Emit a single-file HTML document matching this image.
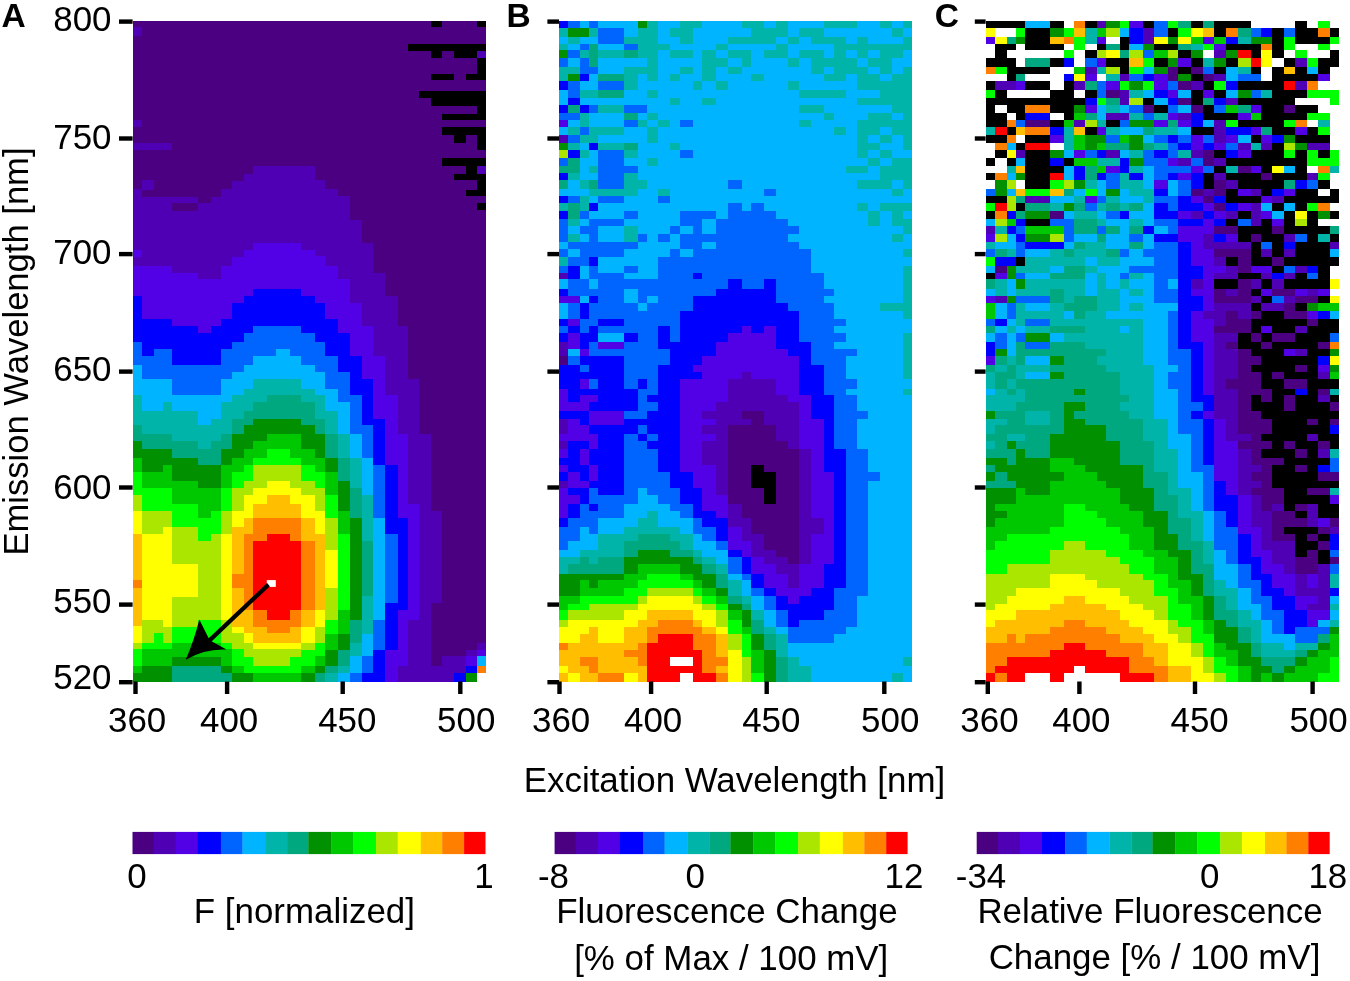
<!DOCTYPE html>
<html><head><meta charset="utf-8"><style>
html,body{margin:0;padding:0;background:#fff;width:1350px;height:981px;overflow:hidden}
svg{display:block;will-change:transform}
text{font-family:"Liberation Sans",sans-serif;font-size:34.9px;fill:#000}
</style></head><body>
<svg width="1350" height="981" viewBox="0 0 1350 981">
<g shape-rendering="crispEdges">
<rect x="132.7" y="21.1" width="9.3" height="5.9" fill="#4b0082"/>
<rect x="132.7" y="27.0" width="9.3" height="9.3" fill="#5000b4"/>
<rect x="132.7" y="36.3" width="9.3" height="84.0" fill="#4b0082"/>
<rect x="132.7" y="120.3" width="9.3" height="6.7" fill="#5000b4"/>
<rect x="132.7" y="127.0" width="9.3" height="16.0" fill="#4b0082"/>
<rect x="132.7" y="143.0" width="9.3" height="6.7" fill="#5000b4"/>
<rect x="132.7" y="149.7" width="9.3" height="39.6" fill="#4b0082"/>
<rect x="132.7" y="189.3" width="9.3" height="60.4" fill="#5000b4"/>
<rect x="132.7" y="249.7" width="9.3" height="7.1" fill="#5200e6"/>
<rect x="132.7" y="256.8" width="9.3" height="8.9" fill="#5000b4"/>
<rect x="132.7" y="265.7" width="9.3" height="30.0" fill="#5200e6"/>
<rect x="132.7" y="295.7" width="9.3" height="46.4" fill="#0000ff"/>
<rect x="132.7" y="342.1" width="9.3" height="23.2" fill="#0064ff"/>
<rect x="132.7" y="365.3" width="9.3" height="29.7" fill="#00b4ff"/>
<rect x="132.7" y="395.0" width="9.3" height="30.0" fill="#00b4aa"/>
<rect x="132.7" y="425.0" width="9.3" height="16.4" fill="#00a87f"/>
<rect x="132.7" y="441.4" width="9.3" height="16.1" fill="#009000"/>
<rect x="132.7" y="457.5" width="9.3" height="14.6" fill="#00c800"/>
<rect x="132.7" y="472.1" width="9.3" height="22.8" fill="#00ff00"/>
<rect x="132.7" y="494.9" width="9.3" height="15.8" fill="#aae600"/>
<rect x="132.7" y="510.7" width="9.3" height="23.6" fill="#ffff00"/>
<rect x="132.7" y="534.3" width="9.3" height="45.6" fill="#ffbe00"/>
<rect x="132.7" y="579.9" width="9.3" height="7.6" fill="#ff8000"/>
<rect x="132.7" y="587.5" width="9.3" height="38.5" fill="#ffbe00"/>
<rect x="132.7" y="626.0" width="9.3" height="16.7" fill="#ffff00"/>
<rect x="132.7" y="642.7" width="9.3" height="6.6" fill="#aae600"/>
<rect x="132.7" y="649.3" width="9.3" height="16.7" fill="#00ff00"/>
<rect x="132.7" y="666.0" width="9.3" height="6.7" fill="#00c800"/>
<rect x="132.7" y="672.7" width="9.3" height="8.8" fill="#009000"/>
<rect x="142.0" y="21.1" width="11.6" height="121.9" fill="#4b0082"/>
<rect x="142.0" y="143.0" width="11.6" height="6.7" fill="#5000b4"/>
<rect x="142.0" y="149.7" width="11.6" height="30.6" fill="#4b0082"/>
<rect x="142.0" y="180.3" width="11.6" height="9.4" fill="#5000b4"/>
<rect x="142.0" y="189.7" width="11.6" height="7.1" fill="#4b0082"/>
<rect x="142.0" y="196.8" width="11.6" height="68.9" fill="#5000b4"/>
<rect x="142.0" y="265.7" width="11.6" height="52.8" fill="#5200e6"/>
<rect x="142.0" y="318.5" width="11.6" height="37.4" fill="#0000ff"/>
<rect x="142.0" y="355.9" width="11.6" height="23.1" fill="#0064ff"/>
<rect x="142.0" y="379.0" width="11.6" height="32.4" fill="#00b4ff"/>
<rect x="142.0" y="411.4" width="11.6" height="22.8" fill="#00b4aa"/>
<rect x="142.0" y="434.2" width="11.6" height="14.3" fill="#00a87f"/>
<rect x="142.0" y="448.5" width="11.6" height="23.6" fill="#009000"/>
<rect x="142.0" y="472.1" width="11.6" height="15.7" fill="#00c800"/>
<rect x="142.0" y="487.8" width="11.6" height="22.9" fill="#00ff00"/>
<rect x="142.0" y="510.7" width="11.6" height="23.6" fill="#aae600"/>
<rect x="142.0" y="534.3" width="11.6" height="85.7" fill="#ffff00"/>
<rect x="142.0" y="620.0" width="11.6" height="22.7" fill="#aae600"/>
<rect x="142.0" y="642.7" width="11.6" height="6.6" fill="#00ff00"/>
<rect x="142.0" y="649.3" width="11.6" height="16.7" fill="#00c800"/>
<rect x="142.0" y="666.0" width="11.6" height="15.5" fill="#009000"/>
<rect x="153.6" y="21.1" width="9.1" height="121.9" fill="#4b0082"/>
<rect x="153.6" y="143.0" width="9.1" height="6.7" fill="#5000b4"/>
<rect x="153.6" y="149.7" width="9.1" height="47.1" fill="#4b0082"/>
<rect x="153.6" y="196.8" width="9.1" height="68.9" fill="#5000b4"/>
<rect x="153.6" y="265.7" width="9.1" height="52.8" fill="#5200e6"/>
<rect x="153.6" y="318.5" width="9.1" height="30.7" fill="#0000ff"/>
<rect x="153.6" y="349.2" width="9.1" height="29.8" fill="#0064ff"/>
<rect x="153.6" y="379.0" width="9.1" height="32.4" fill="#00b4ff"/>
<rect x="153.6" y="411.4" width="9.1" height="22.8" fill="#00b4aa"/>
<rect x="153.6" y="434.2" width="9.1" height="14.3" fill="#00a87f"/>
<rect x="153.6" y="448.5" width="9.1" height="23.6" fill="#009000"/>
<rect x="153.6" y="472.1" width="9.1" height="15.7" fill="#00c800"/>
<rect x="153.6" y="487.8" width="9.1" height="22.9" fill="#00ff00"/>
<rect x="153.6" y="510.7" width="9.1" height="23.6" fill="#aae600"/>
<rect x="153.6" y="534.3" width="9.1" height="85.7" fill="#ffff00"/>
<rect x="153.6" y="620.0" width="9.1" height="13.3" fill="#aae600"/>
<rect x="153.6" y="633.3" width="9.1" height="16.0" fill="#00ff00"/>
<rect x="153.6" y="649.3" width="9.1" height="16.7" fill="#00c800"/>
<rect x="153.6" y="666.0" width="9.1" height="15.5" fill="#009000"/>
<rect x="162.7" y="21.1" width="9.3" height="121.9" fill="#4b0082"/>
<rect x="162.7" y="143.0" width="9.3" height="6.7" fill="#5000b4"/>
<rect x="162.7" y="149.7" width="9.3" height="47.1" fill="#4b0082"/>
<rect x="162.7" y="196.8" width="9.3" height="68.9" fill="#5000b4"/>
<rect x="162.7" y="265.7" width="9.3" height="52.8" fill="#5200e6"/>
<rect x="162.7" y="318.5" width="9.3" height="30.7" fill="#0000ff"/>
<rect x="162.7" y="349.2" width="9.3" height="29.8" fill="#0064ff"/>
<rect x="162.7" y="379.0" width="9.3" height="23.1" fill="#00b4ff"/>
<rect x="162.7" y="402.1" width="9.3" height="32.1" fill="#00b4aa"/>
<rect x="162.7" y="434.2" width="9.3" height="14.3" fill="#00a87f"/>
<rect x="162.7" y="448.5" width="9.3" height="16.1" fill="#009000"/>
<rect x="162.7" y="464.6" width="9.3" height="23.2" fill="#00c800"/>
<rect x="162.7" y="487.8" width="9.3" height="22.9" fill="#00ff00"/>
<rect x="162.7" y="510.7" width="9.3" height="16.4" fill="#aae600"/>
<rect x="162.7" y="527.1" width="9.3" height="99.6" fill="#ffff00"/>
<rect x="162.7" y="626.7" width="9.3" height="16.0" fill="#aae600"/>
<rect x="162.7" y="642.7" width="9.3" height="6.6" fill="#00ff00"/>
<rect x="162.7" y="649.3" width="9.3" height="16.7" fill="#00c800"/>
<rect x="162.7" y="666.0" width="9.3" height="15.5" fill="#009000"/>
<rect x="172.0" y="21.1" width="13.0" height="175.7" fill="#4b0082"/>
<rect x="172.0" y="196.8" width="13.0" height="6.0" fill="#5000b4"/>
<rect x="172.0" y="202.8" width="13.0" height="7.9" fill="#4b0082"/>
<rect x="172.0" y="210.7" width="13.0" height="62.1" fill="#5000b4"/>
<rect x="172.0" y="272.8" width="13.0" height="53.3" fill="#5200e6"/>
<rect x="172.0" y="326.1" width="13.0" height="39.2" fill="#0000ff"/>
<rect x="172.0" y="365.3" width="13.0" height="29.7" fill="#0064ff"/>
<rect x="172.0" y="395.0" width="13.0" height="16.4" fill="#00b4ff"/>
<rect x="172.0" y="411.4" width="13.0" height="30.0" fill="#00b4aa"/>
<rect x="172.0" y="441.4" width="13.0" height="16.1" fill="#00a87f"/>
<rect x="172.0" y="457.5" width="13.0" height="23.1" fill="#009000"/>
<rect x="172.0" y="480.6" width="13.0" height="23.6" fill="#00c800"/>
<rect x="172.0" y="504.2" width="13.0" height="22.9" fill="#00ff00"/>
<rect x="172.0" y="527.1" width="13.0" height="36.4" fill="#aae600"/>
<rect x="172.0" y="563.5" width="13.0" height="33.0" fill="#ffff00"/>
<rect x="172.0" y="596.5" width="13.0" height="30.0" fill="#aae600"/>
<rect x="172.0" y="626.5" width="13.0" height="16.2" fill="#00ff00"/>
<rect x="172.0" y="642.7" width="13.0" height="14.0" fill="#00c800"/>
<rect x="172.0" y="656.7" width="13.0" height="9.3" fill="#009000"/>
<rect x="172.0" y="666.0" width="13.0" height="15.5" fill="#00a87f"/>
<rect x="185.0" y="21.1" width="12.5" height="175.7" fill="#4b0082"/>
<rect x="185.0" y="196.8" width="12.5" height="6.0" fill="#5000b4"/>
<rect x="185.0" y="202.8" width="12.5" height="7.9" fill="#4b0082"/>
<rect x="185.0" y="210.7" width="12.5" height="62.1" fill="#5000b4"/>
<rect x="185.0" y="272.8" width="12.5" height="53.3" fill="#5200e6"/>
<rect x="185.0" y="326.1" width="12.5" height="39.2" fill="#0000ff"/>
<rect x="185.0" y="365.3" width="12.5" height="29.7" fill="#0064ff"/>
<rect x="185.0" y="395.0" width="12.5" height="16.4" fill="#00b4ff"/>
<rect x="185.0" y="411.4" width="12.5" height="30.0" fill="#00b4aa"/>
<rect x="185.0" y="441.4" width="12.5" height="16.1" fill="#00a87f"/>
<rect x="185.0" y="457.5" width="12.5" height="23.1" fill="#009000"/>
<rect x="185.0" y="480.6" width="12.5" height="23.6" fill="#00c800"/>
<rect x="185.0" y="504.2" width="12.5" height="22.9" fill="#00ff00"/>
<rect x="185.0" y="527.1" width="12.5" height="36.4" fill="#aae600"/>
<rect x="185.0" y="563.5" width="12.5" height="33.0" fill="#ffff00"/>
<rect x="185.0" y="596.5" width="12.5" height="30.0" fill="#aae600"/>
<rect x="185.0" y="626.5" width="12.5" height="16.2" fill="#00ff00"/>
<rect x="185.0" y="642.7" width="12.5" height="14.0" fill="#00c800"/>
<rect x="185.0" y="656.7" width="12.5" height="9.3" fill="#009000"/>
<rect x="185.0" y="666.0" width="12.5" height="15.5" fill="#00a87f"/>
<rect x="197.5" y="21.1" width="13.8" height="181.7" fill="#4b0082"/>
<rect x="197.5" y="202.8" width="13.8" height="76.5" fill="#5000b4"/>
<rect x="197.5" y="279.3" width="13.8" height="53.5" fill="#5200e6"/>
<rect x="197.5" y="332.8" width="13.8" height="32.5" fill="#0000ff"/>
<rect x="197.5" y="365.3" width="13.8" height="29.7" fill="#0064ff"/>
<rect x="197.5" y="395.0" width="13.8" height="30.0" fill="#00b4ff"/>
<rect x="197.5" y="425.0" width="13.8" height="23.5" fill="#00b4aa"/>
<rect x="197.5" y="448.5" width="13.8" height="16.1" fill="#00a87f"/>
<rect x="197.5" y="464.6" width="13.8" height="23.2" fill="#009000"/>
<rect x="197.5" y="487.8" width="13.8" height="30.0" fill="#00c800"/>
<rect x="197.5" y="517.8" width="13.8" height="22.9" fill="#00ff00"/>
<rect x="197.5" y="540.7" width="13.8" height="79.3" fill="#aae600"/>
<rect x="197.5" y="620.0" width="13.8" height="22.7" fill="#00ff00"/>
<rect x="197.5" y="642.7" width="13.8" height="14.0" fill="#00c800"/>
<rect x="197.5" y="656.7" width="13.8" height="9.3" fill="#009000"/>
<rect x="197.5" y="666.0" width="13.8" height="15.5" fill="#00a87f"/>
<rect x="211.3" y="21.1" width="9.4" height="175.7" fill="#4b0082"/>
<rect x="211.3" y="196.8" width="9.4" height="82.5" fill="#5000b4"/>
<rect x="211.3" y="279.3" width="9.4" height="46.8" fill="#5200e6"/>
<rect x="211.3" y="326.1" width="9.4" height="39.2" fill="#0000ff"/>
<rect x="211.3" y="365.3" width="9.4" height="29.7" fill="#0064ff"/>
<rect x="211.3" y="395.0" width="9.4" height="23.5" fill="#00b4ff"/>
<rect x="211.3" y="418.5" width="9.4" height="22.9" fill="#00b4aa"/>
<rect x="211.3" y="441.4" width="9.4" height="23.2" fill="#00a87f"/>
<rect x="211.3" y="464.6" width="9.4" height="23.2" fill="#009000"/>
<rect x="211.3" y="487.8" width="9.4" height="22.8" fill="#00c800"/>
<rect x="211.3" y="510.6" width="9.4" height="23.7" fill="#00ff00"/>
<rect x="211.3" y="534.3" width="9.4" height="85.7" fill="#aae600"/>
<rect x="211.3" y="620.0" width="9.4" height="22.7" fill="#00ff00"/>
<rect x="211.3" y="642.7" width="9.4" height="14.0" fill="#00c800"/>
<rect x="211.3" y="656.7" width="9.4" height="9.3" fill="#009000"/>
<rect x="211.3" y="666.0" width="9.4" height="15.5" fill="#00a87f"/>
<rect x="220.7" y="21.1" width="11.4" height="168.2" fill="#4b0082"/>
<rect x="220.7" y="189.3" width="11.4" height="76.4" fill="#5000b4"/>
<rect x="220.7" y="265.7" width="11.4" height="52.8" fill="#5200e6"/>
<rect x="220.7" y="318.5" width="11.4" height="30.7" fill="#0000ff"/>
<rect x="220.7" y="349.2" width="11.4" height="29.8" fill="#0064ff"/>
<rect x="220.7" y="379.0" width="11.4" height="23.1" fill="#00b4ff"/>
<rect x="220.7" y="402.1" width="11.4" height="32.1" fill="#00b4aa"/>
<rect x="220.7" y="434.2" width="11.4" height="14.3" fill="#00a87f"/>
<rect x="220.7" y="448.5" width="11.4" height="16.1" fill="#009000"/>
<rect x="220.7" y="464.6" width="11.4" height="23.2" fill="#00c800"/>
<rect x="220.7" y="487.8" width="11.4" height="22.9" fill="#00ff00"/>
<rect x="220.7" y="510.7" width="11.4" height="23.6" fill="#aae600"/>
<rect x="220.7" y="534.3" width="11.4" height="85.7" fill="#ffff00"/>
<rect x="220.7" y="620.0" width="11.4" height="22.7" fill="#aae600"/>
<rect x="220.7" y="642.7" width="11.4" height="6.6" fill="#00ff00"/>
<rect x="220.7" y="649.3" width="11.4" height="16.7" fill="#00c800"/>
<rect x="220.7" y="666.0" width="11.4" height="6.7" fill="#009000"/>
<rect x="220.7" y="672.7" width="11.4" height="8.8" fill="#00a87f"/>
<rect x="232.1" y="21.1" width="12.0" height="159.6" fill="#4b0082"/>
<rect x="232.1" y="180.7" width="12.0" height="76.1" fill="#5000b4"/>
<rect x="232.1" y="256.8" width="12.0" height="46.4" fill="#5200e6"/>
<rect x="232.1" y="303.2" width="12.0" height="38.9" fill="#0000ff"/>
<rect x="232.1" y="342.1" width="12.0" height="29.9" fill="#0064ff"/>
<rect x="232.1" y="372.0" width="12.0" height="23.0" fill="#00b4ff"/>
<rect x="232.1" y="395.0" width="12.0" height="23.5" fill="#00b4aa"/>
<rect x="232.1" y="418.5" width="12.0" height="15.7" fill="#00a87f"/>
<rect x="232.1" y="434.2" width="12.0" height="23.3" fill="#009000"/>
<rect x="232.1" y="457.5" width="12.0" height="14.6" fill="#00c800"/>
<rect x="232.1" y="472.1" width="12.0" height="15.7" fill="#00ff00"/>
<rect x="232.1" y="487.8" width="12.0" height="22.8" fill="#aae600"/>
<rect x="232.1" y="510.6" width="12.0" height="16.5" fill="#ffff00"/>
<rect x="232.1" y="527.1" width="12.0" height="46.4" fill="#ffbe00"/>
<rect x="232.1" y="573.5" width="12.0" height="14.0" fill="#ff8000"/>
<rect x="232.1" y="587.5" width="12.0" height="39.2" fill="#ffbe00"/>
<rect x="232.1" y="626.7" width="12.0" height="6.6" fill="#ffff00"/>
<rect x="232.1" y="633.3" width="12.0" height="16.0" fill="#aae600"/>
<rect x="232.1" y="649.3" width="12.0" height="16.7" fill="#00ff00"/>
<rect x="232.1" y="666.0" width="12.0" height="6.7" fill="#00c800"/>
<rect x="232.1" y="672.7" width="12.0" height="8.8" fill="#009000"/>
<rect x="244.1" y="21.1" width="9.1" height="152.5" fill="#4b0082"/>
<rect x="244.1" y="173.6" width="9.1" height="76.1" fill="#5000b4"/>
<rect x="244.1" y="249.7" width="9.1" height="46.0" fill="#5200e6"/>
<rect x="244.1" y="295.7" width="9.1" height="37.1" fill="#0000ff"/>
<rect x="244.1" y="332.8" width="9.1" height="32.5" fill="#0064ff"/>
<rect x="244.1" y="365.3" width="9.1" height="23.3" fill="#00b4ff"/>
<rect x="244.1" y="388.6" width="9.1" height="22.8" fill="#00b4aa"/>
<rect x="244.1" y="411.4" width="9.1" height="13.6" fill="#00a87f"/>
<rect x="244.1" y="425.0" width="9.1" height="23.5" fill="#009000"/>
<rect x="244.1" y="448.5" width="9.1" height="16.1" fill="#00c800"/>
<rect x="244.1" y="464.6" width="9.1" height="16.0" fill="#00ff00"/>
<rect x="244.1" y="480.6" width="9.1" height="14.3" fill="#aae600"/>
<rect x="244.1" y="494.9" width="9.1" height="22.9" fill="#ffff00"/>
<rect x="244.1" y="517.8" width="9.1" height="16.5" fill="#ffbe00"/>
<rect x="244.1" y="534.3" width="9.1" height="75.7" fill="#ff8000"/>
<rect x="244.1" y="610.0" width="9.1" height="23.3" fill="#ffbe00"/>
<rect x="244.1" y="633.3" width="9.1" height="9.4" fill="#ffff00"/>
<rect x="244.1" y="642.7" width="9.1" height="14.0" fill="#aae600"/>
<rect x="244.1" y="656.7" width="9.1" height="16.0" fill="#00ff00"/>
<rect x="244.1" y="672.7" width="9.1" height="8.8" fill="#009000"/>
<rect x="253.2" y="21.1" width="13.6" height="145.3" fill="#4b0082"/>
<rect x="253.2" y="166.4" width="13.6" height="76.5" fill="#5000b4"/>
<rect x="253.2" y="242.9" width="13.6" height="46.3" fill="#5200e6"/>
<rect x="253.2" y="289.2" width="13.6" height="36.9" fill="#0000ff"/>
<rect x="253.2" y="326.1" width="13.6" height="29.8" fill="#0064ff"/>
<rect x="253.2" y="355.9" width="13.6" height="23.1" fill="#00b4ff"/>
<rect x="253.2" y="379.0" width="13.6" height="23.1" fill="#00b4aa"/>
<rect x="253.2" y="402.1" width="13.6" height="16.4" fill="#00a87f"/>
<rect x="253.2" y="418.5" width="13.6" height="22.9" fill="#009000"/>
<rect x="253.2" y="441.4" width="13.6" height="16.1" fill="#00c800"/>
<rect x="253.2" y="457.5" width="13.6" height="7.1" fill="#00ff00"/>
<rect x="253.2" y="464.6" width="13.6" height="23.2" fill="#aae600"/>
<rect x="253.2" y="487.8" width="13.6" height="16.4" fill="#ffff00"/>
<rect x="253.2" y="504.2" width="13.6" height="13.6" fill="#ffbe00"/>
<rect x="253.2" y="517.8" width="13.6" height="22.9" fill="#ff8000"/>
<rect x="253.2" y="540.7" width="13.6" height="69.3" fill="#ff0000"/>
<rect x="253.2" y="610.0" width="13.6" height="16.7" fill="#ff8000"/>
<rect x="253.2" y="626.7" width="13.6" height="16.0" fill="#ffbe00"/>
<rect x="253.2" y="642.7" width="13.6" height="6.6" fill="#ffff00"/>
<rect x="253.2" y="649.3" width="13.6" height="16.7" fill="#aae600"/>
<rect x="253.2" y="666.0" width="13.6" height="6.7" fill="#00ff00"/>
<rect x="253.2" y="672.7" width="13.6" height="8.8" fill="#00c800"/>
<rect x="266.8" y="21.1" width="9.3" height="145.3" fill="#4b0082"/>
<rect x="266.8" y="166.4" width="9.3" height="76.5" fill="#5000b4"/>
<rect x="266.8" y="242.9" width="9.3" height="46.3" fill="#5200e6"/>
<rect x="266.8" y="289.2" width="9.3" height="36.9" fill="#0000ff"/>
<rect x="266.8" y="326.1" width="9.3" height="29.8" fill="#0064ff"/>
<rect x="266.8" y="355.9" width="9.3" height="23.1" fill="#00b4ff"/>
<rect x="266.8" y="379.0" width="9.3" height="16.0" fill="#00b4aa"/>
<rect x="266.8" y="395.0" width="9.3" height="23.5" fill="#00a87f"/>
<rect x="266.8" y="418.5" width="9.3" height="15.7" fill="#009000"/>
<rect x="266.8" y="434.2" width="9.3" height="14.3" fill="#00c800"/>
<rect x="266.8" y="448.5" width="9.3" height="16.1" fill="#00ff00"/>
<rect x="266.8" y="464.6" width="9.3" height="16.0" fill="#aae600"/>
<rect x="266.8" y="480.6" width="9.3" height="14.3" fill="#ffff00"/>
<rect x="266.8" y="494.9" width="9.3" height="22.9" fill="#ffbe00"/>
<rect x="266.8" y="517.8" width="9.3" height="16.5" fill="#ff8000"/>
<rect x="266.8" y="534.3" width="9.3" height="85.7" fill="#ff0000"/>
<rect x="266.8" y="620.0" width="9.3" height="13.3" fill="#ff8000"/>
<rect x="266.8" y="633.3" width="9.3" height="9.4" fill="#ffbe00"/>
<rect x="266.8" y="642.7" width="9.3" height="6.6" fill="#ffff00"/>
<rect x="266.8" y="649.3" width="9.3" height="16.7" fill="#aae600"/>
<rect x="266.8" y="666.0" width="9.3" height="6.7" fill="#00ff00"/>
<rect x="266.8" y="672.7" width="9.3" height="8.8" fill="#00c800"/>
<rect x="276.1" y="21.1" width="13.9" height="145.3" fill="#4b0082"/>
<rect x="276.1" y="166.4" width="13.9" height="76.5" fill="#5000b4"/>
<rect x="276.1" y="242.9" width="13.9" height="46.3" fill="#5200e6"/>
<rect x="276.1" y="289.2" width="13.9" height="36.9" fill="#0000ff"/>
<rect x="276.1" y="326.1" width="13.9" height="23.1" fill="#0064ff"/>
<rect x="276.1" y="349.2" width="13.9" height="29.8" fill="#00b4ff"/>
<rect x="276.1" y="379.0" width="13.9" height="16.0" fill="#00b4aa"/>
<rect x="276.1" y="395.0" width="13.9" height="23.5" fill="#00a87f"/>
<rect x="276.1" y="418.5" width="13.9" height="15.7" fill="#009000"/>
<rect x="276.1" y="434.2" width="13.9" height="14.3" fill="#00c800"/>
<rect x="276.1" y="448.5" width="13.9" height="16.1" fill="#00ff00"/>
<rect x="276.1" y="464.6" width="13.9" height="16.0" fill="#aae600"/>
<rect x="276.1" y="480.6" width="13.9" height="14.3" fill="#ffff00"/>
<rect x="276.1" y="494.9" width="13.9" height="22.9" fill="#ffbe00"/>
<rect x="276.1" y="517.8" width="13.9" height="16.5" fill="#ff8000"/>
<rect x="276.1" y="534.3" width="13.9" height="85.7" fill="#ff0000"/>
<rect x="276.1" y="620.0" width="13.9" height="13.3" fill="#ff8000"/>
<rect x="276.1" y="633.3" width="13.9" height="9.4" fill="#ffbe00"/>
<rect x="276.1" y="642.7" width="13.9" height="6.6" fill="#ffff00"/>
<rect x="276.1" y="649.3" width="13.9" height="16.7" fill="#aae600"/>
<rect x="276.1" y="666.0" width="13.9" height="6.7" fill="#00ff00"/>
<rect x="276.1" y="672.7" width="13.9" height="8.8" fill="#00c800"/>
<rect x="290.0" y="21.1" width="11.2" height="145.3" fill="#4b0082"/>
<rect x="290.0" y="166.4" width="11.2" height="76.5" fill="#5000b4"/>
<rect x="290.0" y="242.9" width="11.2" height="46.3" fill="#5200e6"/>
<rect x="290.0" y="289.2" width="11.2" height="36.9" fill="#0000ff"/>
<rect x="290.0" y="326.1" width="11.2" height="29.8" fill="#0064ff"/>
<rect x="290.0" y="355.9" width="11.2" height="23.1" fill="#00b4ff"/>
<rect x="290.0" y="379.0" width="11.2" height="16.0" fill="#00b4aa"/>
<rect x="290.0" y="395.0" width="11.2" height="23.5" fill="#00a87f"/>
<rect x="290.0" y="418.5" width="11.2" height="15.7" fill="#009000"/>
<rect x="290.0" y="434.2" width="11.2" height="23.3" fill="#00c800"/>
<rect x="290.0" y="457.5" width="11.2" height="7.1" fill="#00ff00"/>
<rect x="290.0" y="464.6" width="11.2" height="23.2" fill="#aae600"/>
<rect x="290.0" y="487.8" width="11.2" height="16.4" fill="#ffff00"/>
<rect x="290.0" y="504.2" width="11.2" height="13.6" fill="#ffbe00"/>
<rect x="290.0" y="517.8" width="11.2" height="22.9" fill="#ff8000"/>
<rect x="290.0" y="540.7" width="11.2" height="69.3" fill="#ff0000"/>
<rect x="290.0" y="610.0" width="11.2" height="16.7" fill="#ff8000"/>
<rect x="290.0" y="626.7" width="11.2" height="16.0" fill="#ffbe00"/>
<rect x="290.0" y="642.7" width="11.2" height="6.6" fill="#ffff00"/>
<rect x="290.0" y="649.3" width="11.2" height="7.4" fill="#aae600"/>
<rect x="290.0" y="656.7" width="11.2" height="16.0" fill="#00ff00"/>
<rect x="290.0" y="672.7" width="11.2" height="8.8" fill="#00c800"/>
<rect x="301.2" y="21.1" width="14.1" height="145.3" fill="#4b0082"/>
<rect x="301.2" y="166.4" width="14.1" height="83.3" fill="#5000b4"/>
<rect x="301.2" y="249.7" width="14.1" height="46.0" fill="#5200e6"/>
<rect x="301.2" y="295.7" width="14.1" height="37.1" fill="#0000ff"/>
<rect x="301.2" y="332.8" width="14.1" height="32.5" fill="#0064ff"/>
<rect x="301.2" y="365.3" width="14.1" height="23.3" fill="#00b4ff"/>
<rect x="301.2" y="388.6" width="14.1" height="13.5" fill="#00b4aa"/>
<rect x="301.2" y="402.1" width="14.1" height="22.9" fill="#00a87f"/>
<rect x="301.2" y="425.0" width="14.1" height="23.5" fill="#009000"/>
<rect x="301.2" y="448.5" width="14.1" height="16.1" fill="#00c800"/>
<rect x="301.2" y="464.6" width="14.1" height="16.0" fill="#00ff00"/>
<rect x="301.2" y="480.6" width="14.1" height="14.3" fill="#aae600"/>
<rect x="301.2" y="494.9" width="14.1" height="22.9" fill="#ffff00"/>
<rect x="301.2" y="517.8" width="14.1" height="22.9" fill="#ffbe00"/>
<rect x="301.2" y="540.7" width="14.1" height="69.0" fill="#ff8000"/>
<rect x="301.2" y="609.7" width="14.1" height="16.9" fill="#ffbe00"/>
<rect x="301.2" y="626.6" width="14.1" height="16.2" fill="#ffff00"/>
<rect x="301.2" y="642.8" width="14.1" height="7.0" fill="#aae600"/>
<rect x="301.2" y="649.8" width="14.1" height="16.2" fill="#00ff00"/>
<rect x="301.2" y="666.0" width="14.1" height="7.0" fill="#00c800"/>
<rect x="301.2" y="673.0" width="14.1" height="8.5" fill="#009000"/>
<rect x="315.3" y="21.1" width="9.4" height="158.9" fill="#4b0082"/>
<rect x="315.3" y="180.0" width="9.4" height="76.4" fill="#5000b4"/>
<rect x="315.3" y="256.4" width="9.4" height="46.4" fill="#5200e6"/>
<rect x="315.3" y="302.8" width="9.4" height="39.3" fill="#0000ff"/>
<rect x="315.3" y="342.1" width="9.4" height="29.9" fill="#0064ff"/>
<rect x="315.3" y="372.0" width="9.4" height="23.3" fill="#00b4ff"/>
<rect x="315.3" y="395.3" width="9.4" height="23.2" fill="#00b4aa"/>
<rect x="315.3" y="418.5" width="9.4" height="15.7" fill="#00a87f"/>
<rect x="315.3" y="434.2" width="9.4" height="23.3" fill="#009000"/>
<rect x="315.3" y="457.5" width="9.4" height="14.6" fill="#00c800"/>
<rect x="315.3" y="472.1" width="9.4" height="15.7" fill="#00ff00"/>
<rect x="315.3" y="487.8" width="9.4" height="22.9" fill="#aae600"/>
<rect x="315.3" y="510.7" width="9.4" height="23.6" fill="#ffff00"/>
<rect x="315.3" y="534.3" width="9.4" height="75.4" fill="#ffbe00"/>
<rect x="315.3" y="609.7" width="9.4" height="16.9" fill="#ffff00"/>
<rect x="315.3" y="626.6" width="9.4" height="16.2" fill="#aae600"/>
<rect x="315.3" y="642.8" width="9.4" height="13.4" fill="#00ff00"/>
<rect x="315.3" y="656.2" width="9.4" height="9.8" fill="#00c800"/>
<rect x="315.3" y="666.0" width="9.4" height="7.0" fill="#009000"/>
<rect x="315.3" y="673.0" width="9.4" height="8.5" fill="#00a87f"/>
<rect x="324.7" y="21.1" width="13.3" height="168.2" fill="#4b0082"/>
<rect x="324.7" y="189.3" width="13.3" height="76.4" fill="#5000b4"/>
<rect x="324.7" y="265.7" width="13.3" height="52.8" fill="#5200e6"/>
<rect x="324.7" y="318.5" width="13.3" height="37.1" fill="#0000ff"/>
<rect x="324.7" y="355.6" width="13.3" height="33.0" fill="#0064ff"/>
<rect x="324.7" y="388.6" width="13.3" height="22.8" fill="#00b4ff"/>
<rect x="324.7" y="411.4" width="13.3" height="22.8" fill="#00b4aa"/>
<rect x="324.7" y="434.2" width="13.3" height="23.3" fill="#00a87f"/>
<rect x="324.7" y="457.5" width="13.3" height="14.6" fill="#009000"/>
<rect x="324.7" y="472.1" width="13.3" height="22.8" fill="#00c800"/>
<rect x="324.7" y="494.9" width="13.3" height="22.9" fill="#00ff00"/>
<rect x="324.7" y="517.8" width="13.3" height="32.2" fill="#aae600"/>
<rect x="324.7" y="550.0" width="13.3" height="37.5" fill="#ffff00"/>
<rect x="324.7" y="587.5" width="13.3" height="32.1" fill="#aae600"/>
<rect x="324.7" y="619.6" width="13.3" height="14.0" fill="#00ff00"/>
<rect x="324.7" y="633.6" width="13.3" height="16.2" fill="#00c800"/>
<rect x="324.7" y="649.8" width="13.3" height="16.2" fill="#009000"/>
<rect x="324.7" y="666.0" width="13.3" height="7.0" fill="#00a87f"/>
<rect x="324.7" y="673.0" width="13.3" height="8.5" fill="#00b4aa"/>
<rect x="338.0" y="21.1" width="12.0" height="175.3" fill="#4b0082"/>
<rect x="338.0" y="196.4" width="12.0" height="82.9" fill="#5000b4"/>
<rect x="338.0" y="279.3" width="12.0" height="53.5" fill="#5200e6"/>
<rect x="338.0" y="332.8" width="12.0" height="39.2" fill="#0000ff"/>
<rect x="338.0" y="372.0" width="12.0" height="30.1" fill="#0064ff"/>
<rect x="338.0" y="402.1" width="12.0" height="32.1" fill="#00b4ff"/>
<rect x="338.0" y="434.2" width="12.0" height="23.3" fill="#00b4aa"/>
<rect x="338.0" y="457.5" width="12.0" height="23.1" fill="#00a87f"/>
<rect x="338.0" y="480.6" width="12.0" height="30.1" fill="#009000"/>
<rect x="338.0" y="510.7" width="12.0" height="23.6" fill="#00c800"/>
<rect x="338.0" y="534.3" width="12.0" height="75.4" fill="#00ff00"/>
<rect x="338.0" y="609.7" width="12.0" height="23.9" fill="#00c800"/>
<rect x="338.0" y="633.6" width="12.0" height="16.2" fill="#009000"/>
<rect x="338.0" y="649.8" width="12.0" height="16.2" fill="#00a87f"/>
<rect x="338.0" y="666.0" width="12.0" height="7.0" fill="#00b4aa"/>
<rect x="338.0" y="673.0" width="12.0" height="8.5" fill="#00b4ff"/>
<rect x="350.0" y="21.1" width="11.5" height="198.6" fill="#4b0082"/>
<rect x="350.0" y="219.7" width="11.5" height="83.1" fill="#5000b4"/>
<rect x="350.0" y="302.8" width="11.5" height="52.8" fill="#5200e6"/>
<rect x="350.0" y="355.6" width="11.5" height="39.7" fill="#0000ff"/>
<rect x="350.0" y="395.3" width="11.5" height="38.9" fill="#0064ff"/>
<rect x="350.0" y="434.2" width="11.5" height="23.3" fill="#00b4ff"/>
<rect x="350.0" y="457.5" width="11.5" height="30.3" fill="#00b4aa"/>
<rect x="350.0" y="487.8" width="11.5" height="30.0" fill="#00a87f"/>
<rect x="350.0" y="517.8" width="11.5" height="101.8" fill="#009000"/>
<rect x="350.0" y="619.6" width="11.5" height="23.2" fill="#00a87f"/>
<rect x="350.0" y="642.8" width="11.5" height="13.4" fill="#00b4aa"/>
<rect x="350.0" y="656.2" width="11.5" height="16.8" fill="#00b4ff"/>
<rect x="350.0" y="673.0" width="11.5" height="8.5" fill="#0064ff"/>
<rect x="361.5" y="21.1" width="11.2" height="221.8" fill="#4b0082"/>
<rect x="361.5" y="242.9" width="11.2" height="82.8" fill="#5000b4"/>
<rect x="361.5" y="325.7" width="11.2" height="53.3" fill="#5200e6"/>
<rect x="361.5" y="379.0" width="11.2" height="46.0" fill="#0000ff"/>
<rect x="361.5" y="425.0" width="11.2" height="32.5" fill="#0064ff"/>
<rect x="361.5" y="457.5" width="11.2" height="37.4" fill="#00b4ff"/>
<rect x="361.5" y="494.9" width="11.2" height="45.8" fill="#00b4aa"/>
<rect x="361.5" y="540.7" width="11.2" height="55.6" fill="#00a87f"/>
<rect x="361.5" y="596.3" width="11.2" height="37.3" fill="#00b4aa"/>
<rect x="361.5" y="633.6" width="11.2" height="22.6" fill="#00b4ff"/>
<rect x="361.5" y="656.2" width="11.2" height="16.8" fill="#0064ff"/>
<rect x="361.5" y="673.0" width="11.2" height="8.5" fill="#0000ff"/>
<rect x="372.7" y="21.1" width="12.0" height="251.7" fill="#4b0082"/>
<rect x="372.7" y="272.8" width="12.0" height="82.8" fill="#5000b4"/>
<rect x="372.7" y="355.6" width="12.0" height="62.9" fill="#5200e6"/>
<rect x="372.7" y="418.5" width="12.0" height="46.1" fill="#0000ff"/>
<rect x="372.7" y="464.6" width="12.0" height="53.2" fill="#0064ff"/>
<rect x="372.7" y="517.8" width="12.0" height="101.8" fill="#00b4ff"/>
<rect x="372.7" y="619.6" width="12.0" height="30.2" fill="#0064ff"/>
<rect x="372.7" y="649.8" width="12.0" height="31.7" fill="#0000ff"/>
<rect x="384.7" y="21.1" width="13.3" height="274.6" fill="#4b0082"/>
<rect x="384.7" y="295.7" width="13.3" height="99.6" fill="#5000b4"/>
<rect x="384.7" y="395.3" width="13.3" height="69.3" fill="#5200e6"/>
<rect x="384.7" y="464.6" width="13.3" height="69.7" fill="#0000ff"/>
<rect x="384.7" y="534.3" width="13.3" height="69.1" fill="#0064ff"/>
<rect x="384.7" y="603.4" width="13.3" height="46.4" fill="#0000ff"/>
<rect x="384.7" y="649.8" width="13.3" height="31.7" fill="#5200e6"/>
<rect x="398.0" y="21.1" width="10.1" height="304.6" fill="#4b0082"/>
<rect x="398.0" y="325.7" width="10.1" height="108.5" fill="#5000b4"/>
<rect x="398.0" y="434.2" width="10.1" height="83.6" fill="#5200e6"/>
<rect x="398.0" y="517.8" width="10.1" height="91.9" fill="#0000ff"/>
<rect x="398.0" y="609.7" width="10.1" height="56.3" fill="#5200e6"/>
<rect x="398.0" y="666.0" width="10.1" height="15.5" fill="#5000b4"/>
<rect x="408.1" y="21.1" width="11.2" height="357.9" fill="#4b0082"/>
<rect x="408.1" y="379.0" width="11.2" height="125.2" fill="#5000b4"/>
<rect x="408.1" y="504.2" width="11.2" height="115.4" fill="#5200e6"/>
<rect x="408.1" y="619.6" width="11.2" height="61.9" fill="#5000b4"/>
<rect x="419.3" y="21.1" width="11.5" height="413.1" fill="#4b0082"/>
<rect x="419.3" y="434.2" width="11.5" height="247.3" fill="#5000b4"/>
<rect x="430.8" y="21.1" width="11.2" height="489.5" fill="#4b0082"/>
<rect x="430.8" y="510.6" width="11.2" height="92.8" fill="#5000b4"/>
<rect x="430.8" y="603.4" width="11.2" height="62.6" fill="#4b0082"/>
<rect x="430.8" y="666.0" width="11.2" height="15.5" fill="#5000b4"/>
<rect x="442.0" y="21.1" width="12.0" height="635.1" fill="#4b0082"/>
<rect x="442.0" y="656.2" width="12.0" height="25.3" fill="#5000b4"/>
<rect x="454.0" y="21.1" width="11.5" height="635.1" fill="#4b0082"/>
<rect x="454.0" y="656.2" width="11.5" height="16.8" fill="#5000b4"/>
<rect x="454.0" y="673.0" width="11.5" height="8.5" fill="#0000ff"/>
<rect x="465.5" y="21.1" width="11.2" height="628.7" fill="#4b0082"/>
<rect x="465.5" y="649.8" width="11.2" height="6.4" fill="#5000b4"/>
<rect x="465.5" y="656.2" width="11.2" height="9.8" fill="#5200e6"/>
<rect x="465.5" y="666.0" width="11.2" height="7.0" fill="#0000ff"/>
<rect x="465.5" y="673.0" width="11.2" height="8.5" fill="#009000"/>
<rect x="476.7" y="21.1" width="9.4" height="621.7" fill="#4b0082"/>
<rect x="476.7" y="642.8" width="9.4" height="7.0" fill="#5000b4"/>
<rect x="476.7" y="649.8" width="9.4" height="6.4" fill="#5200e6"/>
<rect x="476.7" y="656.2" width="9.4" height="9.8" fill="#00b4ff"/>
<rect x="476.7" y="666.0" width="9.4" height="7.0" fill="#ff8000"/>
<rect x="476.7" y="673.0" width="9.4" height="8.5" fill="#fff"/>
<rect x="430.8" y="20.9" width="11.2" height="6.1" fill="#000"/>
<rect x="476.7" y="20.9" width="9.4" height="6.1" fill="#000"/>
<rect x="408.1" y="44.3" width="78.0" height="6.7" fill="#000"/>
<rect x="430.8" y="51.0" width="11.2" height="6.7" fill="#000"/>
<rect x="454.0" y="51.0" width="22.7" height="6.7" fill="#000"/>
<rect x="476.7" y="57.7" width="9.4" height="22.6" fill="#000"/>
<rect x="430.8" y="73.7" width="23.2" height="6.6" fill="#000"/>
<rect x="465.5" y="73.7" width="11.2" height="6.6" fill="#000"/>
<rect x="419.3" y="91.0" width="66.8" height="6.7" fill="#000"/>
<rect x="430.8" y="97.7" width="55.3" height="8.0" fill="#000"/>
<rect x="476.7" y="105.7" width="9.4" height="14.6" fill="#000"/>
<rect x="442.0" y="113.7" width="44.1" height="6.6" fill="#000"/>
<rect x="442.0" y="127.0" width="44.1" height="8.0" fill="#000"/>
<rect x="454.0" y="135.0" width="11.5" height="8.0" fill="#000"/>
<rect x="476.7" y="135.0" width="9.4" height="14.7" fill="#000"/>
<rect x="442.0" y="157.7" width="44.1" height="8.0" fill="#000"/>
<rect x="465.5" y="165.7" width="11.2" height="8.0" fill="#000"/>
<rect x="454.0" y="173.7" width="32.1" height="6.6" fill="#000"/>
<rect x="476.7" y="180.3" width="9.4" height="9.4" fill="#000"/>
<rect x="465.5" y="189.7" width="20.6" height="6.6" fill="#000"/>
<rect x="476.7" y="203.0" width="9.4" height="6.7" fill="#000"/>
<rect x="476.7" y="51.0" width="9.4" height="6.7" fill="#5000b4"/>
<rect x="476.7" y="165.7" width="9.4" height="8.0" fill="#5000b4"/>
<rect x="172.0" y="203.0" width="25.5" height="6.7" fill="#4b0082"/>
<rect x="559.0" y="21.1" width="353.4" height="660.4" fill="#00b4ff"/>
<rect x="559.0" y="21.1" width="9.3" height="6.4" fill="#0000ff"/>
<rect x="568.3" y="21.1" width="11.6" height="6.4" fill="#0064ff"/>
<rect x="589.0" y="21.1" width="9.3" height="6.4" fill="#0064ff"/>
<rect x="637.6" y="21.1" width="9.4" height="6.4" fill="#009000"/>
<rect x="647.0" y="21.1" width="11.4" height="6.4" fill="#00b4aa"/>
<rect x="679.5" y="21.1" width="22.9" height="6.4" fill="#00b4aa"/>
<rect x="741.6" y="21.1" width="22.7" height="6.4" fill="#00b4aa"/>
<rect x="776.3" y="21.1" width="11.5" height="6.4" fill="#00b4aa"/>
<rect x="824.3" y="21.1" width="32.8" height="6.4" fill="#00b4aa"/>
<rect x="880.3" y="21.1" width="11.5" height="6.4" fill="#00b4aa"/>
<rect x="903.0" y="21.1" width="9.4" height="6.4" fill="#00b4aa"/>
<rect x="559.0" y="27.5" width="9.3" height="9.4" fill="#00b4aa"/>
<rect x="568.3" y="27.5" width="20.7" height="9.4" fill="#009000"/>
<rect x="589.0" y="27.5" width="9.3" height="9.4" fill="#00b4aa"/>
<rect x="598.3" y="27.5" width="25.5" height="9.4" fill="#0064ff"/>
<rect x="637.6" y="27.5" width="20.8" height="9.4" fill="#00b4aa"/>
<rect x="670.4" y="27.5" width="22.7" height="9.4" fill="#00b4aa"/>
<rect x="751.0" y="27.5" width="36.8" height="9.4" fill="#00b4aa"/>
<rect x="799.0" y="27.5" width="25.3" height="9.4" fill="#00b4aa"/>
<rect x="891.8" y="27.5" width="11.2" height="9.4" fill="#00b4aa"/>
<rect x="568.3" y="36.9" width="11.6" height="6.8" fill="#00b4aa"/>
<rect x="598.3" y="36.9" width="25.5" height="6.8" fill="#0064ff"/>
<rect x="623.8" y="36.9" width="34.6" height="6.8" fill="#00b4aa"/>
<rect x="679.5" y="36.9" width="13.6" height="6.8" fill="#00b4aa"/>
<rect x="727.5" y="36.9" width="48.8" height="6.8" fill="#00b4aa"/>
<rect x="787.8" y="36.9" width="11.2" height="6.8" fill="#00b4aa"/>
<rect x="811.0" y="36.9" width="34.6" height="6.8" fill="#00b4aa"/>
<rect x="857.1" y="36.9" width="11.2" height="6.8" fill="#00b4aa"/>
<rect x="903.0" y="36.9" width="9.4" height="6.8" fill="#00b4aa"/>
<rect x="559.0" y="43.7" width="9.3" height="6.7" fill="#00b4aa"/>
<rect x="579.9" y="43.7" width="9.1" height="6.7" fill="#0064ff"/>
<rect x="589.0" y="43.7" width="9.3" height="6.7" fill="#00a87f"/>
<rect x="623.8" y="43.7" width="13.8" height="6.7" fill="#0064ff"/>
<rect x="637.6" y="43.7" width="32.8" height="6.7" fill="#00b4aa"/>
<rect x="716.3" y="43.7" width="11.2" height="6.7" fill="#00b4aa"/>
<rect x="776.3" y="43.7" width="11.5" height="6.7" fill="#00b4aa"/>
<rect x="834.4" y="43.7" width="78.0" height="6.7" fill="#00b4aa"/>
<rect x="559.0" y="50.4" width="9.3" height="7.3" fill="#009000"/>
<rect x="568.3" y="50.4" width="11.6" height="7.3" fill="#0064ff"/>
<rect x="579.9" y="50.4" width="9.1" height="7.3" fill="#00b4aa"/>
<rect x="589.0" y="50.4" width="9.3" height="7.3" fill="#00a87f"/>
<rect x="598.3" y="50.4" width="25.5" height="7.3" fill="#00b4aa"/>
<rect x="623.8" y="50.4" width="13.8" height="7.3" fill="#00a87f"/>
<rect x="637.6" y="50.4" width="20.8" height="7.3" fill="#00b4aa"/>
<rect x="670.4" y="50.4" width="22.7" height="7.3" fill="#00b4aa"/>
<rect x="702.4" y="50.4" width="13.9" height="7.3" fill="#00b4aa"/>
<rect x="727.5" y="50.4" width="23.5" height="7.3" fill="#00b4aa"/>
<rect x="764.3" y="50.4" width="23.5" height="7.3" fill="#00b4aa"/>
<rect x="799.0" y="50.4" width="25.3" height="7.3" fill="#00b4aa"/>
<rect x="834.4" y="50.4" width="11.2" height="7.3" fill="#00b4aa"/>
<rect x="857.1" y="50.4" width="11.2" height="7.3" fill="#00b4aa"/>
<rect x="880.3" y="50.4" width="22.7" height="7.3" fill="#00b4aa"/>
<rect x="559.0" y="57.7" width="9.3" height="9.3" fill="#0064ff"/>
<rect x="579.9" y="57.7" width="9.1" height="9.3" fill="#0064ff"/>
<rect x="589.0" y="57.7" width="9.3" height="9.3" fill="#00a87f"/>
<rect x="647.0" y="57.7" width="11.4" height="9.3" fill="#00b4aa"/>
<rect x="702.4" y="57.7" width="25.1" height="9.3" fill="#00b4aa"/>
<rect x="741.6" y="57.7" width="9.4" height="9.3" fill="#00b4aa"/>
<rect x="787.8" y="57.7" width="11.2" height="9.3" fill="#00b4aa"/>
<rect x="811.0" y="57.7" width="46.1" height="9.3" fill="#00b4aa"/>
<rect x="868.3" y="57.7" width="23.5" height="9.3" fill="#00b4aa"/>
<rect x="559.0" y="67.0" width="20.9" height="7.1" fill="#00b4aa"/>
<rect x="579.9" y="67.0" width="18.4" height="7.1" fill="#0064ff"/>
<rect x="623.8" y="67.0" width="34.6" height="7.1" fill="#00b4aa"/>
<rect x="679.5" y="67.0" width="13.6" height="7.1" fill="#00b4aa"/>
<rect x="702.4" y="67.0" width="13.9" height="7.1" fill="#00b4aa"/>
<rect x="727.5" y="67.0" width="14.1" height="7.1" fill="#00b4aa"/>
<rect x="811.0" y="67.0" width="13.3" height="7.1" fill="#00b4aa"/>
<rect x="834.4" y="67.0" width="33.9" height="7.1" fill="#00b4aa"/>
<rect x="880.3" y="67.0" width="11.5" height="7.1" fill="#00b4aa"/>
<rect x="903.0" y="67.0" width="9.4" height="7.1" fill="#00b4aa"/>
<rect x="559.0" y="74.1" width="9.3" height="6.8" fill="#00b4aa"/>
<rect x="568.3" y="74.1" width="11.6" height="6.8" fill="#009000"/>
<rect x="579.9" y="74.1" width="9.1" height="6.8" fill="#0000ff"/>
<rect x="598.3" y="74.1" width="25.5" height="6.8" fill="#00a87f"/>
<rect x="623.8" y="74.1" width="13.8" height="6.8" fill="#00b4aa"/>
<rect x="647.0" y="74.1" width="11.4" height="6.8" fill="#00b4aa"/>
<rect x="670.4" y="74.1" width="9.1" height="6.8" fill="#00b4aa"/>
<rect x="702.4" y="74.1" width="13.9" height="6.8" fill="#00b4aa"/>
<rect x="751.0" y="74.1" width="13.3" height="6.8" fill="#00b4aa"/>
<rect x="824.3" y="74.1" width="21.3" height="6.8" fill="#00b4aa"/>
<rect x="857.1" y="74.1" width="23.2" height="6.8" fill="#00b4aa"/>
<rect x="891.8" y="74.1" width="20.6" height="6.8" fill="#00b4aa"/>
<rect x="559.0" y="80.9" width="9.3" height="8.9" fill="#0000ff"/>
<rect x="568.3" y="80.9" width="11.6" height="8.9" fill="#0064ff"/>
<rect x="598.3" y="80.9" width="25.5" height="8.9" fill="#0064ff"/>
<rect x="623.8" y="80.9" width="13.8" height="8.9" fill="#00b4aa"/>
<rect x="693.1" y="80.9" width="9.3" height="8.9" fill="#00b4aa"/>
<rect x="716.3" y="80.9" width="11.2" height="8.9" fill="#00b4aa"/>
<rect x="787.8" y="80.9" width="11.2" height="8.9" fill="#00b4aa"/>
<rect x="857.1" y="80.9" width="55.3" height="8.9" fill="#00b4aa"/>
<rect x="568.3" y="89.8" width="11.6" height="7.9" fill="#0064ff"/>
<rect x="579.9" y="89.8" width="18.4" height="7.9" fill="#00b4aa"/>
<rect x="598.3" y="89.8" width="25.5" height="7.9" fill="#00a87f"/>
<rect x="647.0" y="89.8" width="11.4" height="7.9" fill="#00b4aa"/>
<rect x="799.0" y="89.8" width="46.6" height="7.9" fill="#00b4aa"/>
<rect x="880.3" y="89.8" width="32.1" height="7.9" fill="#00b4aa"/>
<rect x="568.3" y="97.7" width="11.6" height="7.4" fill="#0000ff"/>
<rect x="670.4" y="97.7" width="9.1" height="7.4" fill="#00b4aa"/>
<rect x="702.4" y="97.7" width="13.9" height="7.4" fill="#00b4aa"/>
<rect x="857.1" y="97.7" width="55.3" height="7.4" fill="#00b4aa"/>
<rect x="559.0" y="105.1" width="9.3" height="7.6" fill="#0000ff"/>
<rect x="568.3" y="105.1" width="11.6" height="7.6" fill="#00a87f"/>
<rect x="579.9" y="105.1" width="9.1" height="7.6" fill="#0000ff"/>
<rect x="589.0" y="105.1" width="9.3" height="7.6" fill="#0064ff"/>
<rect x="598.3" y="105.1" width="25.5" height="7.6" fill="#00b4aa"/>
<rect x="623.8" y="105.1" width="23.2" height="7.6" fill="#0064ff"/>
<rect x="799.0" y="105.1" width="25.3" height="7.6" fill="#00b4aa"/>
<rect x="891.8" y="105.1" width="20.6" height="7.6" fill="#00b4aa"/>
<rect x="559.0" y="112.7" width="20.9" height="7.3" fill="#0064ff"/>
<rect x="579.9" y="112.7" width="9.1" height="7.3" fill="#00b4aa"/>
<rect x="623.8" y="112.7" width="13.8" height="7.3" fill="#00a87f"/>
<rect x="647.0" y="112.7" width="11.4" height="7.3" fill="#00b4aa"/>
<rect x="824.3" y="112.7" width="10.1" height="7.3" fill="#00b4aa"/>
<rect x="868.3" y="112.7" width="23.5" height="7.3" fill="#00b4aa"/>
<rect x="903.0" y="112.7" width="9.4" height="7.3" fill="#00b4aa"/>
<rect x="559.0" y="120.0" width="9.3" height="7.0" fill="#5200e6"/>
<rect x="579.9" y="120.0" width="9.1" height="7.0" fill="#00b4aa"/>
<rect x="623.8" y="120.0" width="13.8" height="7.0" fill="#0064ff"/>
<rect x="637.6" y="120.0" width="9.4" height="7.0" fill="#00b4aa"/>
<rect x="658.4" y="120.0" width="12.0" height="7.0" fill="#00b4aa"/>
<rect x="679.5" y="120.0" width="13.6" height="7.0" fill="#0064ff"/>
<rect x="799.0" y="120.0" width="12.0" height="7.0" fill="#00b4aa"/>
<rect x="857.1" y="120.0" width="55.3" height="7.0" fill="#00b4aa"/>
<rect x="568.3" y="127.0" width="11.6" height="8.0" fill="#00b4aa"/>
<rect x="579.9" y="127.0" width="9.1" height="8.0" fill="#0064ff"/>
<rect x="589.0" y="127.0" width="34.8" height="8.0" fill="#00b4aa"/>
<rect x="647.0" y="127.0" width="11.4" height="8.0" fill="#00b4aa"/>
<rect x="834.4" y="127.0" width="11.2" height="8.0" fill="#00b4aa"/>
<rect x="857.1" y="127.0" width="23.2" height="8.0" fill="#00b4aa"/>
<rect x="891.8" y="127.0" width="20.6" height="8.0" fill="#00b4aa"/>
<rect x="559.0" y="135.0" width="9.3" height="8.0" fill="#5000b4"/>
<rect x="568.3" y="135.0" width="11.6" height="8.0" fill="#0064ff"/>
<rect x="579.9" y="135.0" width="18.4" height="8.0" fill="#00b4aa"/>
<rect x="647.0" y="135.0" width="11.4" height="8.0" fill="#00b4aa"/>
<rect x="857.1" y="135.0" width="11.2" height="8.0" fill="#00b4aa"/>
<rect x="880.3" y="135.0" width="11.5" height="8.0" fill="#00b4aa"/>
<rect x="903.0" y="135.0" width="9.4" height="8.0" fill="#00b4aa"/>
<rect x="559.0" y="143.0" width="9.3" height="7.0" fill="#009000"/>
<rect x="568.3" y="143.0" width="11.6" height="7.0" fill="#00b4aa"/>
<rect x="589.0" y="143.0" width="9.3" height="7.0" fill="#0000ff"/>
<rect x="598.3" y="143.0" width="25.5" height="7.0" fill="#00b4aa"/>
<rect x="623.8" y="143.0" width="13.8" height="7.0" fill="#00a87f"/>
<rect x="670.4" y="143.0" width="9.1" height="7.0" fill="#00b4aa"/>
<rect x="857.1" y="143.0" width="23.2" height="7.0" fill="#00b4aa"/>
<rect x="903.0" y="143.0" width="9.4" height="7.0" fill="#00b4aa"/>
<rect x="559.0" y="150.0" width="9.3" height="7.6" fill="#aae600"/>
<rect x="568.3" y="150.0" width="11.6" height="7.6" fill="#0000ff"/>
<rect x="579.9" y="150.0" width="9.1" height="7.6" fill="#00b4aa"/>
<rect x="598.3" y="150.0" width="25.5" height="7.6" fill="#0064ff"/>
<rect x="623.8" y="150.0" width="13.8" height="7.6" fill="#00b4aa"/>
<rect x="679.5" y="150.0" width="13.6" height="7.6" fill="#0064ff"/>
<rect x="857.1" y="150.0" width="11.2" height="7.6" fill="#00b4aa"/>
<rect x="880.3" y="150.0" width="11.5" height="7.6" fill="#00b4aa"/>
<rect x="559.0" y="157.6" width="9.3" height="8.2" fill="#0064ff"/>
<rect x="568.3" y="157.6" width="11.6" height="8.2" fill="#00a87f"/>
<rect x="598.3" y="157.6" width="25.5" height="8.2" fill="#0064ff"/>
<rect x="647.0" y="157.6" width="11.4" height="8.2" fill="#00b4aa"/>
<rect x="868.3" y="157.6" width="12.0" height="8.2" fill="#00b4aa"/>
<rect x="891.8" y="157.6" width="20.6" height="8.2" fill="#00b4aa"/>
<rect x="559.0" y="165.8" width="20.9" height="7.4" fill="#00a87f"/>
<rect x="589.0" y="165.8" width="9.3" height="7.4" fill="#00b4aa"/>
<rect x="598.3" y="165.8" width="39.3" height="7.4" fill="#0064ff"/>
<rect x="845.6" y="165.8" width="22.7" height="7.4" fill="#00b4aa"/>
<rect x="880.3" y="165.8" width="32.1" height="7.4" fill="#00b4aa"/>
<rect x="559.0" y="173.2" width="9.3" height="7.1" fill="#0000ff"/>
<rect x="568.3" y="173.2" width="11.6" height="7.1" fill="#00b4aa"/>
<rect x="598.3" y="173.2" width="25.5" height="7.1" fill="#0064ff"/>
<rect x="623.8" y="173.2" width="13.8" height="7.1" fill="#00b4aa"/>
<rect x="880.3" y="173.2" width="32.1" height="7.1" fill="#00b4aa"/>
<rect x="559.0" y="180.3" width="9.3" height="8.5" fill="#00a87f"/>
<rect x="579.9" y="180.3" width="9.1" height="8.5" fill="#00b4aa"/>
<rect x="589.0" y="180.3" width="9.3" height="8.5" fill="#00a87f"/>
<rect x="598.3" y="180.3" width="25.5" height="8.5" fill="#0064ff"/>
<rect x="623.8" y="180.3" width="23.2" height="8.5" fill="#00b4aa"/>
<rect x="727.5" y="180.3" width="14.1" height="8.5" fill="#0064ff"/>
<rect x="857.1" y="180.3" width="34.7" height="8.5" fill="#00b4aa"/>
<rect x="903.0" y="180.3" width="9.4" height="8.5" fill="#00b4aa"/>
<rect x="589.0" y="188.8" width="48.6" height="7.6" fill="#00b4aa"/>
<rect x="658.4" y="188.8" width="12.0" height="7.6" fill="#00b4aa"/>
<rect x="764.3" y="188.8" width="12.0" height="7.6" fill="#0064ff"/>
<rect x="891.8" y="188.8" width="11.2" height="7.6" fill="#00b4aa"/>
<rect x="559.0" y="196.4" width="9.3" height="7.0" fill="#0000ff"/>
<rect x="568.3" y="196.4" width="11.6" height="7.0" fill="#0064ff"/>
<rect x="579.9" y="196.4" width="9.1" height="7.0" fill="#00b4aa"/>
<rect x="598.3" y="196.4" width="25.5" height="7.0" fill="#0064ff"/>
<rect x="658.4" y="196.4" width="12.0" height="7.0" fill="#0064ff"/>
<rect x="559.0" y="203.4" width="9.3" height="7.4" fill="#00b4aa"/>
<rect x="568.3" y="203.4" width="11.6" height="7.4" fill="#00a87f"/>
<rect x="579.9" y="203.4" width="9.1" height="7.4" fill="#00b4aa"/>
<rect x="589.0" y="203.4" width="9.3" height="7.4" fill="#0000ff"/>
<rect x="727.5" y="203.4" width="14.1" height="7.4" fill="#0064ff"/>
<rect x="751.0" y="203.4" width="13.3" height="7.4" fill="#0064ff"/>
<rect x="857.1" y="203.4" width="11.2" height="7.4" fill="#00b4aa"/>
<rect x="880.3" y="203.4" width="32.1" height="7.4" fill="#00b4aa"/>
<rect x="559.0" y="210.8" width="9.3" height="8.0" fill="#0000ff"/>
<rect x="568.3" y="210.8" width="11.6" height="8.0" fill="#00a87f"/>
<rect x="579.9" y="210.8" width="9.1" height="8.0" fill="#0064ff"/>
<rect x="623.8" y="210.8" width="13.8" height="8.0" fill="#0064ff"/>
<rect x="679.5" y="210.8" width="36.8" height="8.0" fill="#0064ff"/>
<rect x="727.5" y="210.8" width="48.8" height="8.0" fill="#0064ff"/>
<rect x="868.3" y="210.8" width="12.0" height="8.0" fill="#00b4aa"/>
<rect x="891.8" y="210.8" width="11.2" height="8.0" fill="#00b4aa"/>
<rect x="559.0" y="218.8" width="9.3" height="7.2" fill="#0064ff"/>
<rect x="568.3" y="218.8" width="11.6" height="7.2" fill="#00b4aa"/>
<rect x="589.0" y="218.8" width="34.8" height="7.2" fill="#0064ff"/>
<rect x="679.5" y="218.8" width="22.9" height="7.2" fill="#0064ff"/>
<rect x="716.3" y="218.8" width="71.5" height="7.2" fill="#0064ff"/>
<rect x="868.3" y="218.8" width="12.0" height="7.2" fill="#00b4aa"/>
<rect x="891.8" y="218.8" width="20.6" height="7.2" fill="#00b4aa"/>
<rect x="559.0" y="226.0" width="9.3" height="7.7" fill="#0064ff"/>
<rect x="579.9" y="226.0" width="18.4" height="7.7" fill="#0064ff"/>
<rect x="623.8" y="226.0" width="13.8" height="7.7" fill="#00b4aa"/>
<rect x="670.4" y="226.0" width="9.1" height="7.7" fill="#0064ff"/>
<rect x="693.1" y="226.0" width="9.3" height="7.7" fill="#0064ff"/>
<rect x="716.3" y="226.0" width="82.7" height="7.7" fill="#0064ff"/>
<rect x="903.0" y="226.0" width="9.4" height="7.7" fill="#00b4aa"/>
<rect x="559.0" y="233.7" width="9.3" height="8.6" fill="#0064ff"/>
<rect x="568.3" y="233.7" width="11.6" height="8.6" fill="#00b4aa"/>
<rect x="589.0" y="233.7" width="9.3" height="8.6" fill="#0064ff"/>
<rect x="623.8" y="233.7" width="13.8" height="8.6" fill="#00b4aa"/>
<rect x="637.6" y="233.7" width="9.4" height="8.6" fill="#0064ff"/>
<rect x="658.4" y="233.7" width="12.0" height="8.6" fill="#0064ff"/>
<rect x="679.5" y="233.7" width="108.3" height="8.6" fill="#0064ff"/>
<rect x="891.8" y="233.7" width="11.2" height="8.6" fill="#00b4aa"/>
<rect x="568.3" y="242.3" width="69.3" height="7.0" fill="#0064ff"/>
<rect x="679.5" y="242.3" width="22.9" height="7.0" fill="#0064ff"/>
<rect x="716.3" y="242.3" width="82.7" height="7.0" fill="#0064ff"/>
<rect x="559.0" y="249.3" width="9.3" height="7.2" fill="#0064ff"/>
<rect x="579.9" y="249.3" width="43.9" height="7.2" fill="#0064ff"/>
<rect x="670.4" y="249.3" width="9.1" height="7.2" fill="#0064ff"/>
<rect x="693.1" y="249.3" width="117.9" height="7.2" fill="#0064ff"/>
<rect x="903.0" y="249.3" width="9.4" height="7.2" fill="#00b4aa"/>
<rect x="559.0" y="256.5" width="9.3" height="9.0" fill="#00b4aa"/>
<rect x="568.3" y="256.5" width="20.7" height="9.0" fill="#0064ff"/>
<rect x="589.0" y="256.5" width="9.3" height="9.0" fill="#0000ff"/>
<rect x="658.4" y="256.5" width="152.6" height="9.0" fill="#0064ff"/>
<rect x="559.0" y="265.5" width="9.3" height="7.3" fill="#0064ff"/>
<rect x="568.3" y="265.5" width="11.6" height="7.3" fill="#0000ff"/>
<rect x="589.0" y="265.5" width="9.3" height="7.3" fill="#0064ff"/>
<rect x="623.8" y="265.5" width="13.8" height="7.3" fill="#0064ff"/>
<rect x="658.4" y="265.5" width="152.6" height="7.3" fill="#0064ff"/>
<rect x="903.0" y="265.5" width="9.4" height="7.3" fill="#00b4aa"/>
<rect x="559.0" y="272.8" width="9.3" height="6.5" fill="#5000b4"/>
<rect x="568.3" y="272.8" width="11.6" height="6.5" fill="#0000ff"/>
<rect x="589.0" y="272.8" width="34.8" height="6.5" fill="#0064ff"/>
<rect x="658.4" y="272.8" width="34.7" height="6.5" fill="#0064ff"/>
<rect x="693.1" y="272.8" width="9.3" height="6.5" fill="#0000ff"/>
<rect x="702.4" y="272.8" width="121.9" height="6.5" fill="#0064ff"/>
<rect x="903.0" y="272.8" width="9.4" height="6.5" fill="#00b4aa"/>
<rect x="568.3" y="279.3" width="20.7" height="9.9" fill="#0064ff"/>
<rect x="598.3" y="279.3" width="129.2" height="9.9" fill="#0064ff"/>
<rect x="727.5" y="279.3" width="14.1" height="9.9" fill="#0000ff"/>
<rect x="741.6" y="279.3" width="22.7" height="9.9" fill="#0064ff"/>
<rect x="764.3" y="279.3" width="12.0" height="9.9" fill="#0000ff"/>
<rect x="776.3" y="279.3" width="48.0" height="9.9" fill="#0064ff"/>
<rect x="903.0" y="279.3" width="9.4" height="9.9" fill="#00b4aa"/>
<rect x="559.0" y="289.2" width="9.3" height="6.5" fill="#0000ff"/>
<rect x="568.3" y="289.2" width="55.5" height="6.5" fill="#0064ff"/>
<rect x="637.6" y="289.2" width="78.7" height="6.5" fill="#0064ff"/>
<rect x="716.3" y="289.2" width="60.0" height="6.5" fill="#0000ff"/>
<rect x="776.3" y="289.2" width="58.1" height="6.5" fill="#0064ff"/>
<rect x="903.0" y="289.2" width="9.4" height="6.5" fill="#00b4aa"/>
<rect x="559.0" y="295.7" width="20.9" height="7.3" fill="#5200e6"/>
<rect x="589.0" y="295.7" width="9.3" height="7.3" fill="#0000ff"/>
<rect x="598.3" y="295.7" width="25.5" height="7.3" fill="#0064ff"/>
<rect x="637.6" y="295.7" width="9.4" height="7.3" fill="#0064ff"/>
<rect x="658.4" y="295.7" width="34.7" height="7.3" fill="#0064ff"/>
<rect x="693.1" y="295.7" width="83.2" height="7.3" fill="#0000ff"/>
<rect x="776.3" y="295.7" width="48.0" height="7.3" fill="#0064ff"/>
<rect x="903.0" y="295.7" width="9.4" height="7.3" fill="#00b4aa"/>
<rect x="568.3" y="303.0" width="11.6" height="7.7" fill="#0064ff"/>
<rect x="579.9" y="303.0" width="9.1" height="7.7" fill="#0000ff"/>
<rect x="589.0" y="303.0" width="48.6" height="7.7" fill="#0064ff"/>
<rect x="647.0" y="303.0" width="46.1" height="7.7" fill="#0064ff"/>
<rect x="693.1" y="303.0" width="94.7" height="7.7" fill="#0000ff"/>
<rect x="787.8" y="303.0" width="46.6" height="7.7" fill="#0064ff"/>
<rect x="880.3" y="303.0" width="32.1" height="7.7" fill="#00b4aa"/>
<rect x="568.3" y="310.7" width="11.6" height="7.8" fill="#0064ff"/>
<rect x="579.9" y="310.7" width="9.1" height="7.8" fill="#0000ff"/>
<rect x="589.0" y="310.7" width="90.5" height="7.8" fill="#0064ff"/>
<rect x="679.5" y="310.7" width="119.5" height="7.8" fill="#0000ff"/>
<rect x="799.0" y="310.7" width="35.4" height="7.8" fill="#0064ff"/>
<rect x="903.0" y="310.7" width="9.4" height="7.8" fill="#00b4aa"/>
<rect x="559.0" y="318.5" width="9.3" height="7.5" fill="#0000ff"/>
<rect x="568.3" y="318.5" width="11.6" height="7.5" fill="#5200e6"/>
<rect x="579.9" y="318.5" width="18.4" height="7.5" fill="#0064ff"/>
<rect x="598.3" y="318.5" width="25.5" height="7.5" fill="#0000ff"/>
<rect x="623.8" y="318.5" width="55.7" height="7.5" fill="#0064ff"/>
<rect x="679.5" y="318.5" width="119.5" height="7.5" fill="#0000ff"/>
<rect x="799.0" y="318.5" width="46.6" height="7.5" fill="#0064ff"/>
<rect x="559.0" y="326.0" width="9.3" height="6.8" fill="#0064ff"/>
<rect x="568.3" y="326.0" width="11.6" height="6.8" fill="#0000ff"/>
<rect x="579.9" y="326.0" width="9.1" height="6.8" fill="#0064ff"/>
<rect x="589.0" y="326.0" width="9.3" height="6.8" fill="#0000ff"/>
<rect x="598.3" y="326.0" width="60.1" height="6.8" fill="#0064ff"/>
<rect x="658.4" y="326.0" width="12.0" height="6.8" fill="#0000ff"/>
<rect x="670.4" y="326.0" width="9.1" height="6.8" fill="#0064ff"/>
<rect x="679.5" y="326.0" width="62.1" height="6.8" fill="#0000ff"/>
<rect x="741.6" y="326.0" width="9.4" height="6.8" fill="#5200e6"/>
<rect x="751.0" y="326.0" width="13.3" height="6.8" fill="#0000ff"/>
<rect x="764.3" y="326.0" width="12.0" height="6.8" fill="#5200e6"/>
<rect x="776.3" y="326.0" width="22.7" height="6.8" fill="#0000ff"/>
<rect x="799.0" y="326.0" width="35.4" height="6.8" fill="#0064ff"/>
<rect x="559.0" y="332.8" width="9.3" height="9.3" fill="#0000ff"/>
<rect x="568.3" y="332.8" width="11.6" height="9.3" fill="#5200e6"/>
<rect x="579.9" y="332.8" width="18.4" height="9.3" fill="#0000ff"/>
<rect x="623.8" y="332.8" width="13.8" height="9.3" fill="#0000ff"/>
<rect x="637.6" y="332.8" width="20.8" height="9.3" fill="#0064ff"/>
<rect x="658.4" y="332.8" width="12.0" height="9.3" fill="#0000ff"/>
<rect x="670.4" y="332.8" width="9.1" height="9.3" fill="#0064ff"/>
<rect x="679.5" y="332.8" width="48.0" height="9.3" fill="#0000ff"/>
<rect x="727.5" y="332.8" width="48.8" height="9.3" fill="#5200e6"/>
<rect x="776.3" y="332.8" width="22.7" height="9.3" fill="#0000ff"/>
<rect x="799.0" y="332.8" width="46.6" height="9.3" fill="#0064ff"/>
<rect x="903.0" y="332.8" width="9.4" height="9.3" fill="#00b4aa"/>
<rect x="559.0" y="342.1" width="9.3" height="7.1" fill="#5000b4"/>
<rect x="568.3" y="342.1" width="11.6" height="7.1" fill="#5200e6"/>
<rect x="579.9" y="342.1" width="9.1" height="7.1" fill="#0000ff"/>
<rect x="589.0" y="342.1" width="9.3" height="7.1" fill="#0064ff"/>
<rect x="598.3" y="342.1" width="25.5" height="7.1" fill="#5200e6"/>
<rect x="623.8" y="342.1" width="34.6" height="7.1" fill="#0064ff"/>
<rect x="658.4" y="342.1" width="57.9" height="7.1" fill="#0000ff"/>
<rect x="716.3" y="342.1" width="60.0" height="7.1" fill="#5200e6"/>
<rect x="776.3" y="342.1" width="34.7" height="7.1" fill="#0000ff"/>
<rect x="811.0" y="342.1" width="23.4" height="7.1" fill="#0064ff"/>
<rect x="903.0" y="342.1" width="9.4" height="7.1" fill="#00b4aa"/>
<rect x="559.0" y="349.2" width="9.3" height="6.6" fill="#5000b4"/>
<rect x="579.9" y="349.2" width="9.1" height="6.6" fill="#5200e6"/>
<rect x="589.0" y="349.2" width="81.4" height="6.6" fill="#0064ff"/>
<rect x="670.4" y="349.2" width="45.9" height="6.6" fill="#0000ff"/>
<rect x="716.3" y="349.2" width="71.5" height="6.6" fill="#5200e6"/>
<rect x="787.8" y="349.2" width="23.2" height="6.6" fill="#0000ff"/>
<rect x="811.0" y="349.2" width="46.1" height="6.6" fill="#0064ff"/>
<rect x="903.0" y="349.2" width="9.4" height="6.6" fill="#00b4aa"/>
<rect x="559.0" y="355.8" width="9.3" height="9.5" fill="#4b0082"/>
<rect x="568.3" y="355.8" width="11.6" height="9.5" fill="#0064ff"/>
<rect x="579.9" y="355.8" width="43.9" height="9.5" fill="#0000ff"/>
<rect x="623.8" y="355.8" width="46.6" height="9.5" fill="#0064ff"/>
<rect x="670.4" y="355.8" width="32.0" height="9.5" fill="#0000ff"/>
<rect x="702.4" y="355.8" width="96.6" height="9.5" fill="#5200e6"/>
<rect x="799.0" y="355.8" width="12.0" height="9.5" fill="#0000ff"/>
<rect x="811.0" y="355.8" width="34.6" height="9.5" fill="#0064ff"/>
<rect x="903.0" y="355.8" width="9.4" height="9.5" fill="#00b4aa"/>
<rect x="559.0" y="365.3" width="20.9" height="6.7" fill="#0000ff"/>
<rect x="579.9" y="365.3" width="9.1" height="6.7" fill="#0064ff"/>
<rect x="589.0" y="365.3" width="34.8" height="6.7" fill="#0000ff"/>
<rect x="623.8" y="365.3" width="34.6" height="6.7" fill="#0064ff"/>
<rect x="658.4" y="365.3" width="34.7" height="6.7" fill="#0000ff"/>
<rect x="693.1" y="365.3" width="105.9" height="6.7" fill="#5200e6"/>
<rect x="799.0" y="365.3" width="25.3" height="6.7" fill="#0000ff"/>
<rect x="824.3" y="365.3" width="21.3" height="6.7" fill="#0064ff"/>
<rect x="903.0" y="365.3" width="9.4" height="6.7" fill="#00b4aa"/>
<rect x="559.0" y="372.0" width="64.8" height="7.0" fill="#0000ff"/>
<rect x="623.8" y="372.0" width="34.6" height="7.0" fill="#0064ff"/>
<rect x="658.4" y="372.0" width="44.0" height="7.0" fill="#0000ff"/>
<rect x="702.4" y="372.0" width="39.2" height="7.0" fill="#5200e6"/>
<rect x="741.6" y="372.0" width="9.4" height="7.0" fill="#5000b4"/>
<rect x="751.0" y="372.0" width="48.0" height="7.0" fill="#5200e6"/>
<rect x="799.0" y="372.0" width="25.3" height="7.0" fill="#0000ff"/>
<rect x="824.3" y="372.0" width="21.3" height="7.0" fill="#0064ff"/>
<rect x="903.0" y="372.0" width="9.4" height="7.0" fill="#00b4aa"/>
<rect x="559.0" y="379.0" width="20.9" height="9.6" fill="#0000ff"/>
<rect x="579.9" y="379.0" width="9.1" height="9.6" fill="#5200e6"/>
<rect x="589.0" y="379.0" width="9.3" height="9.6" fill="#0064ff"/>
<rect x="598.3" y="379.0" width="25.5" height="9.6" fill="#0000ff"/>
<rect x="623.8" y="379.0" width="13.8" height="9.6" fill="#0064ff"/>
<rect x="637.6" y="379.0" width="9.4" height="9.6" fill="#0000ff"/>
<rect x="647.0" y="379.0" width="11.4" height="9.6" fill="#0064ff"/>
<rect x="658.4" y="379.0" width="21.1" height="9.6" fill="#0000ff"/>
<rect x="679.5" y="379.0" width="48.0" height="9.6" fill="#5200e6"/>
<rect x="727.5" y="379.0" width="48.8" height="9.6" fill="#5000b4"/>
<rect x="776.3" y="379.0" width="22.7" height="9.6" fill="#5200e6"/>
<rect x="799.0" y="379.0" width="25.3" height="9.6" fill="#0000ff"/>
<rect x="824.3" y="379.0" width="32.8" height="9.6" fill="#0064ff"/>
<rect x="559.0" y="388.6" width="9.3" height="6.6" fill="#5200e6"/>
<rect x="568.3" y="388.6" width="69.3" height="6.6" fill="#0000ff"/>
<rect x="637.6" y="388.6" width="20.8" height="6.6" fill="#0064ff"/>
<rect x="658.4" y="388.6" width="21.1" height="6.6" fill="#0000ff"/>
<rect x="679.5" y="388.6" width="48.0" height="6.6" fill="#5200e6"/>
<rect x="727.5" y="388.6" width="48.8" height="6.6" fill="#5000b4"/>
<rect x="776.3" y="388.6" width="22.7" height="6.6" fill="#5200e6"/>
<rect x="799.0" y="388.6" width="25.3" height="6.6" fill="#0000ff"/>
<rect x="824.3" y="388.6" width="21.3" height="6.6" fill="#0064ff"/>
<rect x="903.0" y="388.6" width="9.4" height="6.6" fill="#00b4aa"/>
<rect x="559.0" y="395.2" width="9.3" height="6.9" fill="#5200e6"/>
<rect x="568.3" y="395.2" width="11.6" height="6.9" fill="#0000ff"/>
<rect x="579.9" y="395.2" width="18.4" height="6.9" fill="#5200e6"/>
<rect x="598.3" y="395.2" width="39.3" height="6.9" fill="#0000ff"/>
<rect x="637.6" y="395.2" width="9.4" height="6.9" fill="#0064ff"/>
<rect x="647.0" y="395.2" width="32.5" height="6.9" fill="#0000ff"/>
<rect x="679.5" y="395.2" width="48.0" height="6.9" fill="#5200e6"/>
<rect x="727.5" y="395.2" width="60.3" height="6.9" fill="#5000b4"/>
<rect x="787.8" y="395.2" width="23.2" height="6.9" fill="#5200e6"/>
<rect x="811.0" y="395.2" width="23.4" height="6.9" fill="#0000ff"/>
<rect x="834.4" y="395.2" width="22.7" height="6.9" fill="#0064ff"/>
<rect x="559.0" y="402.1" width="30.0" height="9.3" fill="#5200e6"/>
<rect x="589.0" y="402.1" width="48.6" height="9.3" fill="#0000ff"/>
<rect x="637.6" y="402.1" width="20.8" height="9.3" fill="#0064ff"/>
<rect x="658.4" y="402.1" width="21.1" height="9.3" fill="#0000ff"/>
<rect x="679.5" y="402.1" width="36.8" height="9.3" fill="#5200e6"/>
<rect x="716.3" y="402.1" width="82.7" height="9.3" fill="#5000b4"/>
<rect x="799.0" y="402.1" width="12.0" height="9.3" fill="#5200e6"/>
<rect x="811.0" y="402.1" width="23.4" height="9.3" fill="#0000ff"/>
<rect x="834.4" y="402.1" width="22.7" height="9.3" fill="#0064ff"/>
<rect x="559.0" y="411.4" width="30.0" height="7.1" fill="#0000ff"/>
<rect x="589.0" y="411.4" width="34.8" height="7.1" fill="#5200e6"/>
<rect x="623.8" y="411.4" width="23.2" height="7.1" fill="#0064ff"/>
<rect x="647.0" y="411.4" width="32.5" height="7.1" fill="#0000ff"/>
<rect x="679.5" y="411.4" width="22.9" height="7.1" fill="#5200e6"/>
<rect x="702.4" y="411.4" width="39.2" height="7.1" fill="#5000b4"/>
<rect x="741.6" y="411.4" width="22.7" height="7.1" fill="#4b0082"/>
<rect x="764.3" y="411.4" width="34.7" height="7.1" fill="#5000b4"/>
<rect x="799.0" y="411.4" width="12.0" height="7.1" fill="#5200e6"/>
<rect x="811.0" y="411.4" width="23.4" height="7.1" fill="#0000ff"/>
<rect x="834.4" y="411.4" width="33.9" height="7.1" fill="#0064ff"/>
<rect x="559.0" y="418.5" width="9.3" height="6.5" fill="#5000b4"/>
<rect x="568.3" y="418.5" width="11.6" height="6.5" fill="#5200e6"/>
<rect x="579.9" y="418.5" width="9.1" height="6.5" fill="#0000ff"/>
<rect x="589.0" y="418.5" width="34.8" height="6.5" fill="#5200e6"/>
<rect x="623.8" y="418.5" width="55.7" height="6.5" fill="#0000ff"/>
<rect x="679.5" y="418.5" width="36.8" height="6.5" fill="#5200e6"/>
<rect x="716.3" y="418.5" width="34.7" height="6.5" fill="#5000b4"/>
<rect x="751.0" y="418.5" width="13.3" height="6.5" fill="#4b0082"/>
<rect x="764.3" y="418.5" width="34.7" height="6.5" fill="#5000b4"/>
<rect x="799.0" y="418.5" width="25.3" height="6.5" fill="#5200e6"/>
<rect x="824.3" y="418.5" width="10.1" height="6.5" fill="#0000ff"/>
<rect x="834.4" y="418.5" width="22.7" height="6.5" fill="#0064ff"/>
<rect x="559.0" y="425.0" width="9.3" height="9.2" fill="#5000b4"/>
<rect x="568.3" y="425.0" width="20.7" height="9.2" fill="#5200e6"/>
<rect x="589.0" y="425.0" width="48.6" height="9.2" fill="#0000ff"/>
<rect x="637.6" y="425.0" width="9.4" height="9.2" fill="#0064ff"/>
<rect x="647.0" y="425.0" width="32.5" height="9.2" fill="#0000ff"/>
<rect x="679.5" y="425.0" width="22.9" height="9.2" fill="#5200e6"/>
<rect x="702.4" y="425.0" width="25.1" height="9.2" fill="#5000b4"/>
<rect x="727.5" y="425.0" width="48.8" height="9.2" fill="#4b0082"/>
<rect x="776.3" y="425.0" width="22.7" height="9.2" fill="#5000b4"/>
<rect x="799.0" y="425.0" width="25.3" height="9.2" fill="#5200e6"/>
<rect x="824.3" y="425.0" width="10.1" height="9.2" fill="#0000ff"/>
<rect x="834.4" y="425.0" width="22.7" height="9.2" fill="#0064ff"/>
<rect x="559.0" y="434.2" width="39.3" height="7.2" fill="#5200e6"/>
<rect x="598.3" y="434.2" width="25.5" height="7.2" fill="#0000ff"/>
<rect x="623.8" y="434.2" width="13.8" height="7.2" fill="#0064ff"/>
<rect x="637.6" y="434.2" width="9.4" height="7.2" fill="#0000ff"/>
<rect x="647.0" y="434.2" width="11.4" height="7.2" fill="#0064ff"/>
<rect x="658.4" y="434.2" width="21.1" height="7.2" fill="#0000ff"/>
<rect x="679.5" y="434.2" width="36.8" height="7.2" fill="#5200e6"/>
<rect x="716.3" y="434.2" width="11.2" height="7.2" fill="#5000b4"/>
<rect x="727.5" y="434.2" width="48.8" height="7.2" fill="#4b0082"/>
<rect x="776.3" y="434.2" width="22.7" height="7.2" fill="#5000b4"/>
<rect x="799.0" y="434.2" width="25.3" height="7.2" fill="#5200e6"/>
<rect x="824.3" y="434.2" width="10.1" height="7.2" fill="#0000ff"/>
<rect x="834.4" y="434.2" width="22.7" height="7.2" fill="#0064ff"/>
<rect x="559.0" y="441.4" width="9.3" height="7.1" fill="#5000b4"/>
<rect x="568.3" y="441.4" width="20.7" height="7.1" fill="#0000ff"/>
<rect x="589.0" y="441.4" width="9.3" height="7.1" fill="#5200e6"/>
<rect x="598.3" y="441.4" width="25.5" height="7.1" fill="#0000ff"/>
<rect x="623.8" y="441.4" width="23.2" height="7.1" fill="#0064ff"/>
<rect x="647.0" y="441.4" width="32.5" height="7.1" fill="#0000ff"/>
<rect x="679.5" y="441.4" width="22.9" height="7.1" fill="#5200e6"/>
<rect x="702.4" y="441.4" width="25.1" height="7.1" fill="#5000b4"/>
<rect x="727.5" y="441.4" width="60.3" height="7.1" fill="#4b0082"/>
<rect x="787.8" y="441.4" width="11.2" height="7.1" fill="#5000b4"/>
<rect x="799.0" y="441.4" width="25.3" height="7.1" fill="#5200e6"/>
<rect x="824.3" y="441.4" width="10.1" height="7.1" fill="#0000ff"/>
<rect x="834.4" y="441.4" width="22.7" height="7.1" fill="#0064ff"/>
<rect x="559.0" y="448.5" width="9.3" height="9.0" fill="#5200e6"/>
<rect x="568.3" y="448.5" width="11.6" height="9.0" fill="#0000ff"/>
<rect x="579.9" y="448.5" width="9.1" height="9.0" fill="#5200e6"/>
<rect x="589.0" y="448.5" width="34.8" height="9.0" fill="#0000ff"/>
<rect x="623.8" y="448.5" width="34.6" height="9.0" fill="#0064ff"/>
<rect x="658.4" y="448.5" width="21.1" height="9.0" fill="#0000ff"/>
<rect x="679.5" y="448.5" width="22.9" height="9.0" fill="#5200e6"/>
<rect x="702.4" y="448.5" width="25.1" height="9.0" fill="#5000b4"/>
<rect x="727.5" y="448.5" width="71.5" height="9.0" fill="#4b0082"/>
<rect x="799.0" y="448.5" width="12.0" height="9.0" fill="#5000b4"/>
<rect x="811.0" y="448.5" width="13.3" height="9.0" fill="#5200e6"/>
<rect x="824.3" y="448.5" width="21.3" height="9.0" fill="#0000ff"/>
<rect x="845.6" y="448.5" width="22.7" height="9.0" fill="#0064ff"/>
<rect x="559.0" y="457.5" width="20.9" height="7.1" fill="#0000ff"/>
<rect x="579.9" y="457.5" width="9.1" height="7.1" fill="#5200e6"/>
<rect x="589.0" y="457.5" width="34.8" height="7.1" fill="#0000ff"/>
<rect x="623.8" y="457.5" width="34.6" height="7.1" fill="#0064ff"/>
<rect x="658.4" y="457.5" width="21.1" height="7.1" fill="#0000ff"/>
<rect x="679.5" y="457.5" width="22.9" height="7.1" fill="#5200e6"/>
<rect x="702.4" y="457.5" width="25.1" height="7.1" fill="#5000b4"/>
<rect x="727.5" y="457.5" width="71.5" height="7.1" fill="#4b0082"/>
<rect x="799.0" y="457.5" width="12.0" height="7.1" fill="#5000b4"/>
<rect x="811.0" y="457.5" width="13.3" height="7.1" fill="#5200e6"/>
<rect x="824.3" y="457.5" width="21.3" height="7.1" fill="#0000ff"/>
<rect x="845.6" y="457.5" width="22.7" height="7.1" fill="#0064ff"/>
<rect x="559.0" y="464.6" width="9.3" height="7.5" fill="#5200e6"/>
<rect x="568.3" y="464.6" width="20.7" height="7.5" fill="#0000ff"/>
<rect x="589.0" y="464.6" width="9.3" height="7.5" fill="#5200e6"/>
<rect x="598.3" y="464.6" width="25.5" height="7.5" fill="#0000ff"/>
<rect x="623.8" y="464.6" width="34.6" height="7.5" fill="#0064ff"/>
<rect x="658.4" y="464.6" width="21.1" height="7.5" fill="#0000ff"/>
<rect x="679.5" y="464.6" width="36.8" height="7.5" fill="#5200e6"/>
<rect x="716.3" y="464.6" width="11.2" height="7.5" fill="#5000b4"/>
<rect x="727.5" y="464.6" width="23.5" height="7.5" fill="#4b0082"/>
<rect x="751.0" y="464.6" width="13.3" height="7.5" fill="#000"/>
<rect x="764.3" y="464.6" width="34.7" height="7.5" fill="#4b0082"/>
<rect x="799.0" y="464.6" width="12.0" height="7.5" fill="#5000b4"/>
<rect x="811.0" y="464.6" width="13.3" height="7.5" fill="#5200e6"/>
<rect x="824.3" y="464.6" width="21.3" height="7.5" fill="#0000ff"/>
<rect x="845.6" y="464.6" width="22.7" height="7.5" fill="#0064ff"/>
<rect x="559.0" y="472.1" width="9.3" height="8.5" fill="#0000ff"/>
<rect x="568.3" y="472.1" width="11.6" height="8.5" fill="#5200e6"/>
<rect x="579.9" y="472.1" width="9.1" height="8.5" fill="#0000ff"/>
<rect x="589.0" y="472.1" width="9.3" height="8.5" fill="#5200e6"/>
<rect x="598.3" y="472.1" width="25.5" height="8.5" fill="#0000ff"/>
<rect x="623.8" y="472.1" width="46.6" height="8.5" fill="#0064ff"/>
<rect x="670.4" y="472.1" width="22.7" height="8.5" fill="#0000ff"/>
<rect x="693.1" y="472.1" width="23.2" height="8.5" fill="#5200e6"/>
<rect x="716.3" y="472.1" width="11.2" height="8.5" fill="#5000b4"/>
<rect x="727.5" y="472.1" width="23.5" height="8.5" fill="#4b0082"/>
<rect x="751.0" y="472.1" width="25.3" height="8.5" fill="#000"/>
<rect x="776.3" y="472.1" width="22.7" height="8.5" fill="#4b0082"/>
<rect x="799.0" y="472.1" width="12.0" height="8.5" fill="#5000b4"/>
<rect x="811.0" y="472.1" width="23.4" height="8.5" fill="#5200e6"/>
<rect x="834.4" y="472.1" width="11.2" height="8.5" fill="#0000ff"/>
<rect x="845.6" y="472.1" width="34.7" height="8.5" fill="#0064ff"/>
<rect x="559.0" y="480.6" width="9.3" height="7.2" fill="#5000b4"/>
<rect x="568.3" y="480.6" width="20.7" height="7.2" fill="#5200e6"/>
<rect x="589.0" y="480.6" width="34.8" height="7.2" fill="#0000ff"/>
<rect x="623.8" y="480.6" width="46.6" height="7.2" fill="#0064ff"/>
<rect x="670.4" y="480.6" width="22.7" height="7.2" fill="#0000ff"/>
<rect x="693.1" y="480.6" width="23.2" height="7.2" fill="#5200e6"/>
<rect x="716.3" y="480.6" width="11.2" height="7.2" fill="#5000b4"/>
<rect x="727.5" y="480.6" width="23.5" height="7.2" fill="#4b0082"/>
<rect x="751.0" y="480.6" width="25.3" height="7.2" fill="#000"/>
<rect x="776.3" y="480.6" width="22.7" height="7.2" fill="#4b0082"/>
<rect x="799.0" y="480.6" width="12.0" height="7.2" fill="#5000b4"/>
<rect x="811.0" y="480.6" width="23.4" height="7.2" fill="#5200e6"/>
<rect x="834.4" y="480.6" width="11.2" height="7.2" fill="#0000ff"/>
<rect x="845.6" y="480.6" width="22.7" height="7.2" fill="#0064ff"/>
<rect x="559.0" y="487.8" width="9.3" height="7.1" fill="#5200e6"/>
<rect x="568.3" y="487.8" width="20.7" height="7.1" fill="#0000ff"/>
<rect x="589.0" y="487.8" width="9.3" height="7.1" fill="#0064ff"/>
<rect x="598.3" y="487.8" width="25.5" height="7.1" fill="#0000ff"/>
<rect x="623.8" y="487.8" width="13.8" height="7.1" fill="#0064ff"/>
<rect x="647.0" y="487.8" width="32.5" height="7.1" fill="#0064ff"/>
<rect x="679.5" y="487.8" width="22.9" height="7.1" fill="#0000ff"/>
<rect x="702.4" y="487.8" width="13.9" height="7.1" fill="#5200e6"/>
<rect x="716.3" y="487.8" width="11.2" height="7.1" fill="#5000b4"/>
<rect x="727.5" y="487.8" width="36.8" height="7.1" fill="#4b0082"/>
<rect x="764.3" y="487.8" width="12.0" height="7.1" fill="#000"/>
<rect x="776.3" y="487.8" width="22.7" height="7.1" fill="#4b0082"/>
<rect x="799.0" y="487.8" width="12.0" height="7.1" fill="#5000b4"/>
<rect x="811.0" y="487.8" width="23.4" height="7.1" fill="#5200e6"/>
<rect x="834.4" y="487.8" width="11.2" height="7.1" fill="#0000ff"/>
<rect x="845.6" y="487.8" width="22.7" height="7.1" fill="#0064ff"/>
<rect x="559.0" y="494.9" width="20.9" height="9.3" fill="#5200e6"/>
<rect x="579.9" y="494.9" width="9.1" height="9.3" fill="#0000ff"/>
<rect x="589.0" y="494.9" width="48.6" height="9.3" fill="#0064ff"/>
<rect x="658.4" y="494.9" width="21.1" height="9.3" fill="#0064ff"/>
<rect x="679.5" y="494.9" width="22.9" height="9.3" fill="#0000ff"/>
<rect x="702.4" y="494.9" width="25.1" height="9.3" fill="#5200e6"/>
<rect x="727.5" y="494.9" width="36.8" height="9.3" fill="#4b0082"/>
<rect x="764.3" y="494.9" width="12.0" height="9.3" fill="#000"/>
<rect x="776.3" y="494.9" width="22.7" height="9.3" fill="#4b0082"/>
<rect x="799.0" y="494.9" width="12.0" height="9.3" fill="#5000b4"/>
<rect x="811.0" y="494.9" width="23.4" height="9.3" fill="#5200e6"/>
<rect x="834.4" y="494.9" width="11.2" height="9.3" fill="#0000ff"/>
<rect x="845.6" y="494.9" width="22.7" height="9.3" fill="#0064ff"/>
<rect x="559.0" y="504.2" width="9.3" height="6.5" fill="#5200e6"/>
<rect x="568.3" y="504.2" width="11.6" height="6.5" fill="#0000ff"/>
<rect x="579.9" y="504.2" width="9.1" height="6.5" fill="#0064ff"/>
<rect x="589.0" y="504.2" width="9.3" height="6.5" fill="#0000ff"/>
<rect x="598.3" y="504.2" width="25.5" height="6.5" fill="#0064ff"/>
<rect x="670.4" y="504.2" width="22.7" height="6.5" fill="#0064ff"/>
<rect x="693.1" y="504.2" width="9.3" height="6.5" fill="#0000ff"/>
<rect x="702.4" y="504.2" width="25.1" height="6.5" fill="#5200e6"/>
<rect x="727.5" y="504.2" width="14.1" height="6.5" fill="#5000b4"/>
<rect x="741.6" y="504.2" width="57.4" height="6.5" fill="#4b0082"/>
<rect x="799.0" y="504.2" width="12.0" height="6.5" fill="#5000b4"/>
<rect x="811.0" y="504.2" width="23.4" height="6.5" fill="#5200e6"/>
<rect x="834.4" y="504.2" width="11.2" height="6.5" fill="#0000ff"/>
<rect x="845.6" y="504.2" width="22.7" height="6.5" fill="#0064ff"/>
<rect x="559.0" y="510.7" width="9.3" height="7.1" fill="#5200e6"/>
<rect x="568.3" y="510.7" width="11.6" height="7.1" fill="#0000ff"/>
<rect x="579.9" y="510.7" width="43.9" height="7.1" fill="#0064ff"/>
<rect x="647.0" y="510.7" width="11.4" height="7.1" fill="#00b4aa"/>
<rect x="679.5" y="510.7" width="13.6" height="7.1" fill="#0064ff"/>
<rect x="693.1" y="510.7" width="23.2" height="7.1" fill="#0000ff"/>
<rect x="716.3" y="510.7" width="11.2" height="7.1" fill="#5200e6"/>
<rect x="727.5" y="510.7" width="14.1" height="7.1" fill="#5000b4"/>
<rect x="741.6" y="510.7" width="57.4" height="7.1" fill="#4b0082"/>
<rect x="799.0" y="510.7" width="12.0" height="7.1" fill="#5000b4"/>
<rect x="811.0" y="510.7" width="23.4" height="7.1" fill="#5200e6"/>
<rect x="834.4" y="510.7" width="11.2" height="7.1" fill="#0000ff"/>
<rect x="845.6" y="510.7" width="22.7" height="7.1" fill="#0064ff"/>
<rect x="559.0" y="517.8" width="9.3" height="9.3" fill="#0000ff"/>
<rect x="568.3" y="517.8" width="30.0" height="9.3" fill="#0064ff"/>
<rect x="637.6" y="517.8" width="20.8" height="9.3" fill="#00b4aa"/>
<rect x="693.1" y="517.8" width="9.3" height="9.3" fill="#0064ff"/>
<rect x="702.4" y="517.8" width="25.1" height="9.3" fill="#0000ff"/>
<rect x="727.5" y="517.8" width="23.5" height="9.3" fill="#5000b4"/>
<rect x="751.0" y="517.8" width="48.0" height="9.3" fill="#4b0082"/>
<rect x="799.0" y="517.8" width="25.3" height="9.3" fill="#5000b4"/>
<rect x="824.3" y="517.8" width="10.1" height="9.3" fill="#5200e6"/>
<rect x="834.4" y="517.8" width="11.2" height="9.3" fill="#0000ff"/>
<rect x="845.6" y="517.8" width="22.7" height="9.3" fill="#0064ff"/>
<rect x="559.0" y="527.1" width="20.9" height="7.2" fill="#0064ff"/>
<rect x="589.0" y="527.1" width="9.3" height="7.2" fill="#0064ff"/>
<rect x="623.8" y="527.1" width="55.7" height="7.2" fill="#00b4aa"/>
<rect x="693.1" y="527.1" width="23.2" height="7.2" fill="#0064ff"/>
<rect x="716.3" y="527.1" width="11.2" height="7.2" fill="#0000ff"/>
<rect x="727.5" y="527.1" width="14.1" height="7.2" fill="#5200e6"/>
<rect x="741.6" y="527.1" width="9.4" height="7.2" fill="#5000b4"/>
<rect x="751.0" y="527.1" width="48.0" height="7.2" fill="#4b0082"/>
<rect x="799.0" y="527.1" width="25.3" height="7.2" fill="#5000b4"/>
<rect x="824.3" y="527.1" width="10.1" height="7.2" fill="#5200e6"/>
<rect x="834.4" y="527.1" width="11.2" height="7.2" fill="#0000ff"/>
<rect x="845.6" y="527.1" width="22.7" height="7.2" fill="#0064ff"/>
<rect x="559.0" y="534.3" width="20.9" height="6.4" fill="#0064ff"/>
<rect x="598.3" y="534.3" width="39.3" height="6.4" fill="#00b4aa"/>
<rect x="637.6" y="534.3" width="32.8" height="6.4" fill="#00a87f"/>
<rect x="670.4" y="534.3" width="22.7" height="6.4" fill="#00b4aa"/>
<rect x="702.4" y="534.3" width="13.9" height="6.4" fill="#0064ff"/>
<rect x="716.3" y="534.3" width="11.2" height="6.4" fill="#0000ff"/>
<rect x="727.5" y="534.3" width="14.1" height="6.4" fill="#5200e6"/>
<rect x="741.6" y="534.3" width="22.7" height="6.4" fill="#5000b4"/>
<rect x="764.3" y="534.3" width="34.7" height="6.4" fill="#4b0082"/>
<rect x="799.0" y="534.3" width="12.0" height="6.4" fill="#5000b4"/>
<rect x="811.0" y="534.3" width="23.4" height="6.4" fill="#5200e6"/>
<rect x="834.4" y="534.3" width="11.2" height="6.4" fill="#0000ff"/>
<rect x="845.6" y="534.3" width="22.7" height="6.4" fill="#0064ff"/>
<rect x="559.0" y="540.7" width="9.3" height="9.3" fill="#0064ff"/>
<rect x="598.3" y="540.7" width="25.5" height="9.3" fill="#00b4aa"/>
<rect x="623.8" y="540.7" width="55.7" height="9.3" fill="#00a87f"/>
<rect x="679.5" y="540.7" width="13.6" height="9.3" fill="#00b4aa"/>
<rect x="716.3" y="540.7" width="11.2" height="9.3" fill="#0064ff"/>
<rect x="727.5" y="540.7" width="23.5" height="9.3" fill="#5200e6"/>
<rect x="751.0" y="540.7" width="13.3" height="9.3" fill="#5000b4"/>
<rect x="764.3" y="540.7" width="34.7" height="9.3" fill="#4b0082"/>
<rect x="799.0" y="540.7" width="12.0" height="9.3" fill="#5000b4"/>
<rect x="811.0" y="540.7" width="23.4" height="9.3" fill="#5200e6"/>
<rect x="834.4" y="540.7" width="11.2" height="9.3" fill="#0000ff"/>
<rect x="845.6" y="540.7" width="22.7" height="9.3" fill="#0064ff"/>
<rect x="579.9" y="550.0" width="43.9" height="6.8" fill="#00b4aa"/>
<rect x="623.8" y="550.0" width="13.8" height="6.8" fill="#00a87f"/>
<rect x="637.6" y="550.0" width="32.8" height="6.8" fill="#009000"/>
<rect x="670.4" y="550.0" width="22.7" height="6.8" fill="#00a87f"/>
<rect x="693.1" y="550.0" width="9.3" height="6.8" fill="#00b4aa"/>
<rect x="727.5" y="550.0" width="14.1" height="6.8" fill="#0000ff"/>
<rect x="741.6" y="550.0" width="9.4" height="6.8" fill="#5200e6"/>
<rect x="751.0" y="550.0" width="25.3" height="6.8" fill="#5000b4"/>
<rect x="776.3" y="550.0" width="22.7" height="6.8" fill="#4b0082"/>
<rect x="799.0" y="550.0" width="12.0" height="6.8" fill="#5000b4"/>
<rect x="811.0" y="550.0" width="23.4" height="6.8" fill="#5200e6"/>
<rect x="834.4" y="550.0" width="11.2" height="6.8" fill="#0000ff"/>
<rect x="845.6" y="550.0" width="22.7" height="6.8" fill="#0064ff"/>
<rect x="559.0" y="556.8" width="20.9" height="6.7" fill="#00b4aa"/>
<rect x="579.9" y="556.8" width="9.1" height="6.7" fill="#00a87f"/>
<rect x="589.0" y="556.8" width="9.3" height="6.7" fill="#00b4aa"/>
<rect x="598.3" y="556.8" width="25.5" height="6.7" fill="#00a87f"/>
<rect x="623.8" y="556.8" width="69.3" height="6.7" fill="#009000"/>
<rect x="693.1" y="556.8" width="9.3" height="6.7" fill="#00a87f"/>
<rect x="702.4" y="556.8" width="13.9" height="6.7" fill="#00b4aa"/>
<rect x="727.5" y="556.8" width="14.1" height="6.7" fill="#0064ff"/>
<rect x="741.6" y="556.8" width="9.4" height="6.7" fill="#0000ff"/>
<rect x="751.0" y="556.8" width="13.3" height="6.7" fill="#5200e6"/>
<rect x="764.3" y="556.8" width="23.5" height="6.7" fill="#5000b4"/>
<rect x="787.8" y="556.8" width="11.2" height="6.7" fill="#4b0082"/>
<rect x="799.0" y="556.8" width="12.0" height="6.7" fill="#5000b4"/>
<rect x="811.0" y="556.8" width="23.4" height="6.7" fill="#5200e6"/>
<rect x="834.4" y="556.8" width="11.2" height="6.7" fill="#0000ff"/>
<rect x="845.6" y="556.8" width="22.7" height="6.7" fill="#0064ff"/>
<rect x="559.0" y="563.5" width="9.3" height="10.0" fill="#00b4aa"/>
<rect x="568.3" y="563.5" width="55.5" height="10.0" fill="#00a87f"/>
<rect x="623.8" y="563.5" width="13.8" height="10.0" fill="#009000"/>
<rect x="637.6" y="563.5" width="41.9" height="10.0" fill="#00c800"/>
<rect x="679.5" y="563.5" width="22.9" height="10.0" fill="#009000"/>
<rect x="702.4" y="563.5" width="13.9" height="10.0" fill="#00a87f"/>
<rect x="716.3" y="563.5" width="11.2" height="10.0" fill="#00b4aa"/>
<rect x="727.5" y="563.5" width="14.1" height="10.0" fill="#0064ff"/>
<rect x="741.6" y="563.5" width="9.4" height="10.0" fill="#0000ff"/>
<rect x="751.0" y="563.5" width="25.3" height="10.0" fill="#5200e6"/>
<rect x="776.3" y="563.5" width="22.7" height="10.0" fill="#5000b4"/>
<rect x="799.0" y="563.5" width="25.3" height="10.0" fill="#5200e6"/>
<rect x="824.3" y="563.5" width="21.3" height="10.0" fill="#0000ff"/>
<rect x="845.6" y="563.5" width="22.7" height="10.0" fill="#0064ff"/>
<rect x="559.0" y="573.5" width="64.8" height="6.4" fill="#009000"/>
<rect x="623.8" y="573.5" width="23.2" height="6.4" fill="#00c800"/>
<rect x="647.0" y="573.5" width="32.5" height="6.4" fill="#00ff00"/>
<rect x="679.5" y="573.5" width="13.6" height="6.4" fill="#00c800"/>
<rect x="693.1" y="573.5" width="23.2" height="6.4" fill="#009000"/>
<rect x="716.3" y="573.5" width="11.2" height="6.4" fill="#00a87f"/>
<rect x="741.6" y="573.5" width="9.4" height="6.4" fill="#0064ff"/>
<rect x="751.0" y="573.5" width="13.3" height="6.4" fill="#0000ff"/>
<rect x="764.3" y="573.5" width="23.5" height="6.4" fill="#5200e6"/>
<rect x="787.8" y="573.5" width="11.2" height="6.4" fill="#5000b4"/>
<rect x="799.0" y="573.5" width="25.3" height="6.4" fill="#5200e6"/>
<rect x="824.3" y="573.5" width="21.3" height="6.4" fill="#0000ff"/>
<rect x="845.6" y="573.5" width="22.7" height="6.4" fill="#0064ff"/>
<rect x="559.0" y="579.9" width="20.9" height="7.6" fill="#009000"/>
<rect x="579.9" y="579.9" width="9.1" height="7.6" fill="#00c800"/>
<rect x="589.0" y="579.9" width="9.3" height="7.6" fill="#009000"/>
<rect x="598.3" y="579.9" width="39.3" height="7.6" fill="#00c800"/>
<rect x="637.6" y="579.9" width="55.5" height="7.6" fill="#00ff00"/>
<rect x="693.1" y="579.9" width="9.3" height="7.6" fill="#00c800"/>
<rect x="702.4" y="579.9" width="13.9" height="7.6" fill="#009000"/>
<rect x="716.3" y="579.9" width="11.2" height="7.6" fill="#00a87f"/>
<rect x="727.5" y="579.9" width="14.1" height="7.6" fill="#00b4aa"/>
<rect x="751.0" y="579.9" width="13.3" height="7.6" fill="#0000ff"/>
<rect x="764.3" y="579.9" width="23.5" height="7.6" fill="#5200e6"/>
<rect x="787.8" y="579.9" width="11.2" height="7.6" fill="#5000b4"/>
<rect x="799.0" y="579.9" width="25.3" height="7.6" fill="#5200e6"/>
<rect x="824.3" y="579.9" width="21.3" height="7.6" fill="#0000ff"/>
<rect x="845.6" y="579.9" width="22.7" height="7.6" fill="#0064ff"/>
<rect x="559.0" y="587.5" width="20.9" height="8.9" fill="#009000"/>
<rect x="579.9" y="587.5" width="43.9" height="8.9" fill="#00c800"/>
<rect x="623.8" y="587.5" width="23.2" height="8.9" fill="#00ff00"/>
<rect x="647.0" y="587.5" width="46.1" height="8.9" fill="#aae600"/>
<rect x="693.1" y="587.5" width="9.3" height="8.9" fill="#00ff00"/>
<rect x="702.4" y="587.5" width="13.9" height="8.9" fill="#00c800"/>
<rect x="716.3" y="587.5" width="11.2" height="8.9" fill="#009000"/>
<rect x="727.5" y="587.5" width="14.1" height="8.9" fill="#00b4aa"/>
<rect x="751.0" y="587.5" width="13.3" height="8.9" fill="#0064ff"/>
<rect x="764.3" y="587.5" width="12.0" height="8.9" fill="#0000ff"/>
<rect x="776.3" y="587.5" width="34.7" height="8.9" fill="#5200e6"/>
<rect x="811.0" y="587.5" width="23.4" height="8.9" fill="#0000ff"/>
<rect x="834.4" y="587.5" width="33.9" height="8.9" fill="#0064ff"/>
<rect x="559.0" y="596.4" width="20.9" height="7.1" fill="#00c800"/>
<rect x="579.9" y="596.4" width="57.7" height="7.1" fill="#00ff00"/>
<rect x="637.6" y="596.4" width="9.4" height="7.1" fill="#aae600"/>
<rect x="647.0" y="596.4" width="46.1" height="7.1" fill="#ffff00"/>
<rect x="693.1" y="596.4" width="9.3" height="7.1" fill="#aae600"/>
<rect x="702.4" y="596.4" width="13.9" height="7.1" fill="#00ff00"/>
<rect x="716.3" y="596.4" width="11.2" height="7.1" fill="#00c800"/>
<rect x="727.5" y="596.4" width="14.1" height="7.1" fill="#00a87f"/>
<rect x="741.6" y="596.4" width="9.4" height="7.1" fill="#00b4aa"/>
<rect x="764.3" y="596.4" width="12.0" height="7.1" fill="#0064ff"/>
<rect x="776.3" y="596.4" width="11.5" height="7.1" fill="#0000ff"/>
<rect x="787.8" y="596.4" width="11.2" height="7.1" fill="#5200e6"/>
<rect x="799.0" y="596.4" width="35.4" height="7.1" fill="#0000ff"/>
<rect x="834.4" y="596.4" width="22.7" height="7.1" fill="#0064ff"/>
<rect x="559.0" y="603.5" width="9.3" height="6.4" fill="#00c800"/>
<rect x="568.3" y="603.5" width="20.7" height="6.4" fill="#00ff00"/>
<rect x="589.0" y="603.5" width="48.6" height="6.4" fill="#aae600"/>
<rect x="637.6" y="603.5" width="64.8" height="6.4" fill="#ffff00"/>
<rect x="702.4" y="603.5" width="13.9" height="6.4" fill="#aae600"/>
<rect x="716.3" y="603.5" width="11.2" height="6.4" fill="#00ff00"/>
<rect x="727.5" y="603.5" width="14.1" height="6.4" fill="#009000"/>
<rect x="741.6" y="603.5" width="9.4" height="6.4" fill="#00a87f"/>
<rect x="764.3" y="603.5" width="12.0" height="6.4" fill="#0064ff"/>
<rect x="776.3" y="603.5" width="58.1" height="6.4" fill="#0000ff"/>
<rect x="834.4" y="603.5" width="22.7" height="6.4" fill="#0064ff"/>
<rect x="559.0" y="609.9" width="9.3" height="9.7" fill="#00ff00"/>
<rect x="568.3" y="609.9" width="55.5" height="9.7" fill="#aae600"/>
<rect x="623.8" y="609.9" width="23.2" height="9.7" fill="#ffff00"/>
<rect x="647.0" y="609.9" width="46.1" height="9.7" fill="#ffbe00"/>
<rect x="693.1" y="609.9" width="23.2" height="9.7" fill="#ffff00"/>
<rect x="716.3" y="609.9" width="11.2" height="9.7" fill="#aae600"/>
<rect x="727.5" y="609.9" width="14.1" height="9.7" fill="#00c800"/>
<rect x="741.6" y="609.9" width="9.4" height="9.7" fill="#009000"/>
<rect x="751.0" y="609.9" width="13.3" height="9.7" fill="#00b4aa"/>
<rect x="776.3" y="609.9" width="11.5" height="9.7" fill="#0064ff"/>
<rect x="787.8" y="609.9" width="36.5" height="9.7" fill="#0000ff"/>
<rect x="824.3" y="609.9" width="32.8" height="9.7" fill="#0064ff"/>
<rect x="559.0" y="619.6" width="9.3" height="6.9" fill="#aae600"/>
<rect x="568.3" y="619.6" width="69.3" height="6.9" fill="#ffff00"/>
<rect x="637.6" y="619.6" width="20.8" height="6.9" fill="#ffbe00"/>
<rect x="658.4" y="619.6" width="34.7" height="6.9" fill="#ff8000"/>
<rect x="693.1" y="619.6" width="9.3" height="6.9" fill="#ffbe00"/>
<rect x="702.4" y="619.6" width="13.9" height="6.9" fill="#ffff00"/>
<rect x="716.3" y="619.6" width="11.2" height="6.9" fill="#aae600"/>
<rect x="727.5" y="619.6" width="14.1" height="6.9" fill="#00ff00"/>
<rect x="741.6" y="619.6" width="9.4" height="6.9" fill="#009000"/>
<rect x="751.0" y="619.6" width="13.3" height="6.9" fill="#00a87f"/>
<rect x="776.3" y="619.6" width="11.5" height="6.9" fill="#0064ff"/>
<rect x="787.8" y="619.6" width="11.2" height="6.9" fill="#0000ff"/>
<rect x="799.0" y="619.6" width="58.1" height="6.9" fill="#0064ff"/>
<rect x="559.0" y="626.5" width="30.0" height="7.0" fill="#ffff00"/>
<rect x="589.0" y="626.5" width="9.3" height="7.0" fill="#ffbe00"/>
<rect x="598.3" y="626.5" width="25.5" height="7.0" fill="#ffff00"/>
<rect x="623.8" y="626.5" width="23.2" height="7.0" fill="#ffbe00"/>
<rect x="647.0" y="626.5" width="55.4" height="7.0" fill="#ff8000"/>
<rect x="702.4" y="626.5" width="13.9" height="7.0" fill="#ffbe00"/>
<rect x="716.3" y="626.5" width="11.2" height="7.0" fill="#ffff00"/>
<rect x="727.5" y="626.5" width="14.1" height="7.0" fill="#00ff00"/>
<rect x="741.6" y="626.5" width="9.4" height="7.0" fill="#00c800"/>
<rect x="751.0" y="626.5" width="13.3" height="7.0" fill="#00a87f"/>
<rect x="764.3" y="626.5" width="12.0" height="7.0" fill="#00b4aa"/>
<rect x="787.8" y="626.5" width="57.8" height="7.0" fill="#0064ff"/>
<rect x="559.0" y="633.5" width="20.9" height="9.2" fill="#ffff00"/>
<rect x="579.9" y="633.5" width="18.4" height="9.2" fill="#ffbe00"/>
<rect x="598.3" y="633.5" width="25.5" height="9.2" fill="#ffff00"/>
<rect x="623.8" y="633.5" width="23.2" height="9.2" fill="#ffbe00"/>
<rect x="647.0" y="633.5" width="11.4" height="9.2" fill="#ff8000"/>
<rect x="658.4" y="633.5" width="34.7" height="9.2" fill="#ff0000"/>
<rect x="693.1" y="633.5" width="23.2" height="9.2" fill="#ff8000"/>
<rect x="716.3" y="633.5" width="11.2" height="9.2" fill="#ffbe00"/>
<rect x="727.5" y="633.5" width="14.1" height="9.2" fill="#aae600"/>
<rect x="741.6" y="633.5" width="9.4" height="9.2" fill="#00ff00"/>
<rect x="751.0" y="633.5" width="13.3" height="9.2" fill="#009000"/>
<rect x="764.3" y="633.5" width="12.0" height="9.2" fill="#00a87f"/>
<rect x="776.3" y="633.5" width="11.5" height="9.2" fill="#00b4aa"/>
<rect x="787.8" y="633.5" width="46.6" height="9.2" fill="#0064ff"/>
<rect x="559.0" y="642.7" width="9.3" height="6.8" fill="#ff8000"/>
<rect x="568.3" y="642.7" width="69.3" height="6.8" fill="#ffbe00"/>
<rect x="637.6" y="642.7" width="9.4" height="6.8" fill="#ff8000"/>
<rect x="647.0" y="642.7" width="46.1" height="6.8" fill="#ff0000"/>
<rect x="693.1" y="642.7" width="23.2" height="6.8" fill="#ff8000"/>
<rect x="716.3" y="642.7" width="11.2" height="6.8" fill="#ffbe00"/>
<rect x="727.5" y="642.7" width="14.1" height="6.8" fill="#aae600"/>
<rect x="741.6" y="642.7" width="9.4" height="6.8" fill="#00ff00"/>
<rect x="751.0" y="642.7" width="13.3" height="6.8" fill="#009000"/>
<rect x="764.3" y="642.7" width="12.0" height="6.8" fill="#00a87f"/>
<rect x="776.3" y="642.7" width="11.5" height="6.8" fill="#00b4aa"/>
<rect x="559.0" y="649.5" width="64.8" height="7.0" fill="#ffbe00"/>
<rect x="623.8" y="649.5" width="23.2" height="7.0" fill="#ff8000"/>
<rect x="647.0" y="649.5" width="55.4" height="7.0" fill="#ff0000"/>
<rect x="702.4" y="649.5" width="13.9" height="7.0" fill="#ff8000"/>
<rect x="716.3" y="649.5" width="11.2" height="7.0" fill="#ffbe00"/>
<rect x="727.5" y="649.5" width="14.1" height="7.0" fill="#ffff00"/>
<rect x="741.6" y="649.5" width="9.4" height="7.0" fill="#00ff00"/>
<rect x="751.0" y="649.5" width="13.3" height="7.0" fill="#00c800"/>
<rect x="764.3" y="649.5" width="12.0" height="7.0" fill="#009000"/>
<rect x="776.3" y="649.5" width="11.5" height="7.0" fill="#00b4aa"/>
<rect x="559.0" y="656.5" width="20.9" height="9.5" fill="#ffbe00"/>
<rect x="579.9" y="656.5" width="18.4" height="9.5" fill="#ff8000"/>
<rect x="598.3" y="656.5" width="39.3" height="9.5" fill="#ffbe00"/>
<rect x="637.6" y="656.5" width="9.4" height="9.5" fill="#ff8000"/>
<rect x="647.0" y="656.5" width="23.4" height="9.5" fill="#ff0000"/>
<rect x="670.4" y="656.5" width="22.7" height="9.5" fill="#fff"/>
<rect x="693.1" y="656.5" width="9.3" height="9.5" fill="#ff0000"/>
<rect x="702.4" y="656.5" width="25.1" height="9.5" fill="#ff8000"/>
<rect x="727.5" y="656.5" width="14.1" height="9.5" fill="#ffff00"/>
<rect x="741.6" y="656.5" width="9.4" height="9.5" fill="#aae600"/>
<rect x="751.0" y="656.5" width="13.3" height="9.5" fill="#00c800"/>
<rect x="764.3" y="656.5" width="12.0" height="9.5" fill="#009000"/>
<rect x="776.3" y="656.5" width="11.5" height="9.5" fill="#00a87f"/>
<rect x="787.8" y="656.5" width="11.2" height="9.5" fill="#00b4aa"/>
<rect x="903.0" y="656.5" width="9.4" height="9.5" fill="#00b4aa"/>
<rect x="559.0" y="666.0" width="9.3" height="6.8" fill="#ffff00"/>
<rect x="568.3" y="666.0" width="20.7" height="6.8" fill="#ffbe00"/>
<rect x="589.0" y="666.0" width="9.3" height="6.8" fill="#ff8000"/>
<rect x="598.3" y="666.0" width="48.7" height="6.8" fill="#ffbe00"/>
<rect x="647.0" y="666.0" width="55.4" height="6.8" fill="#ff0000"/>
<rect x="702.4" y="666.0" width="13.9" height="6.8" fill="#ff8000"/>
<rect x="716.3" y="666.0" width="11.2" height="6.8" fill="#ffbe00"/>
<rect x="727.5" y="666.0" width="14.1" height="6.8" fill="#ffff00"/>
<rect x="741.6" y="666.0" width="9.4" height="6.8" fill="#aae600"/>
<rect x="751.0" y="666.0" width="13.3" height="6.8" fill="#00c800"/>
<rect x="764.3" y="666.0" width="12.0" height="6.8" fill="#009000"/>
<rect x="776.3" y="666.0" width="11.5" height="6.8" fill="#00a87f"/>
<rect x="787.8" y="666.0" width="23.2" height="6.8" fill="#00b4aa"/>
<rect x="559.0" y="672.8" width="9.3" height="8.7" fill="#ffbe00"/>
<rect x="568.3" y="672.8" width="11.6" height="8.7" fill="#ffff00"/>
<rect x="579.9" y="672.8" width="18.4" height="8.7" fill="#ffbe00"/>
<rect x="598.3" y="672.8" width="25.5" height="8.7" fill="#ff8000"/>
<rect x="623.8" y="672.8" width="13.8" height="8.7" fill="#ffff00"/>
<rect x="637.6" y="672.8" width="9.4" height="8.7" fill="#ffbe00"/>
<rect x="647.0" y="672.8" width="32.5" height="8.7" fill="#ff0000"/>
<rect x="679.5" y="672.8" width="13.6" height="8.7" fill="#fff"/>
<rect x="693.1" y="672.8" width="23.2" height="8.7" fill="#ff0000"/>
<rect x="716.3" y="672.8" width="11.2" height="8.7" fill="#ff8000"/>
<rect x="727.5" y="672.8" width="14.1" height="8.7" fill="#ffff00"/>
<rect x="741.6" y="672.8" width="9.4" height="8.7" fill="#aae600"/>
<rect x="751.0" y="672.8" width="13.3" height="8.7" fill="#00ff00"/>
<rect x="764.3" y="672.8" width="12.0" height="8.7" fill="#009000"/>
<rect x="776.3" y="672.8" width="11.5" height="8.7" fill="#00a87f"/>
<rect x="787.8" y="672.8" width="23.2" height="8.7" fill="#00b4aa"/>
<rect x="891.8" y="672.8" width="11.2" height="8.7" fill="#00b4aa"/>
<rect x="985.6" y="21.1" width="353.4" height="660.4" fill="#00b4aa"/>
<rect x="985.6" y="21.1" width="39.3" height="6.4" fill="#000"/>
<rect x="1024.9" y="21.1" width="25.5" height="6.4" fill="#00b4ff"/>
<rect x="1050.4" y="21.1" width="13.8" height="6.4" fill="#000"/>
<rect x="1064.2" y="21.1" width="9.4" height="6.4" fill="#fff"/>
<rect x="1073.6" y="21.1" width="11.4" height="6.4" fill="#ff8000"/>
<rect x="1085.0" y="21.1" width="12.0" height="6.4" fill="#000"/>
<rect x="1097.0" y="21.1" width="9.1" height="6.4" fill="#5000b4"/>
<rect x="1106.1" y="21.1" width="13.6" height="6.4" fill="#009000"/>
<rect x="1119.7" y="21.1" width="9.3" height="6.4" fill="#00ff00"/>
<rect x="1129.0" y="21.1" width="13.9" height="6.4" fill="#5200e6"/>
<rect x="1142.9" y="21.1" width="11.2" height="6.4" fill="#000"/>
<rect x="1154.1" y="21.1" width="14.1" height="6.4" fill="#0064ff"/>
<rect x="1168.2" y="21.1" width="9.4" height="6.4" fill="#00ff00"/>
<rect x="1177.6" y="21.1" width="13.3" height="6.4" fill="#00a87f"/>
<rect x="1190.9" y="21.1" width="12.0" height="6.4" fill="#000"/>
<rect x="1202.9" y="21.1" width="11.5" height="6.4" fill="#00a87f"/>
<rect x="1214.4" y="21.1" width="36.5" height="6.4" fill="#000"/>
<rect x="1250.9" y="21.1" width="44.0" height="6.4" fill="#fff"/>
<rect x="1294.9" y="21.1" width="12.0" height="6.4" fill="#000"/>
<rect x="1306.9" y="21.1" width="11.5" height="6.4" fill="#fff"/>
<rect x="1318.4" y="21.1" width="11.2" height="6.4" fill="#00ff00"/>
<rect x="1329.6" y="21.1" width="9.4" height="6.4" fill="#fff"/>
<rect x="985.6" y="27.5" width="9.3" height="9.4" fill="#ffff00"/>
<rect x="994.9" y="27.5" width="20.7" height="9.4" fill="#fff"/>
<rect x="1015.6" y="27.5" width="9.3" height="9.4" fill="#00ff00"/>
<rect x="1024.9" y="27.5" width="25.5" height="9.4" fill="#000"/>
<rect x="1050.4" y="27.5" width="13.8" height="9.4" fill="#009000"/>
<rect x="1064.2" y="27.5" width="9.4" height="9.4" fill="#00ff00"/>
<rect x="1073.6" y="27.5" width="11.4" height="9.4" fill="#ffbe00"/>
<rect x="1097.0" y="27.5" width="9.1" height="9.4" fill="#00c800"/>
<rect x="1106.1" y="27.5" width="13.6" height="9.4" fill="#aae600"/>
<rect x="1119.7" y="27.5" width="9.3" height="9.4" fill="#00b4ff"/>
<rect x="1129.0" y="27.5" width="13.9" height="9.4" fill="#0000ff"/>
<rect x="1142.9" y="27.5" width="11.2" height="9.4" fill="#5000b4"/>
<rect x="1154.1" y="27.5" width="14.1" height="9.4" fill="#0064ff"/>
<rect x="1168.2" y="27.5" width="9.4" height="9.4" fill="#000"/>
<rect x="1177.6" y="27.5" width="13.3" height="9.4" fill="#00ff00"/>
<rect x="1190.9" y="27.5" width="12.0" height="9.4" fill="#ffff00"/>
<rect x="1202.9" y="27.5" width="11.5" height="9.4" fill="#ffbe00"/>
<rect x="1214.4" y="27.5" width="11.2" height="9.4" fill="#000"/>
<rect x="1225.6" y="27.5" width="12.0" height="9.4" fill="#ff8000"/>
<rect x="1237.6" y="27.5" width="13.3" height="9.4" fill="#00a87f"/>
<rect x="1250.9" y="27.5" width="10.1" height="9.4" fill="#0064ff"/>
<rect x="1261.0" y="27.5" width="11.2" height="9.4" fill="#0000ff"/>
<rect x="1272.2" y="27.5" width="11.5" height="9.4" fill="#000"/>
<rect x="1283.7" y="27.5" width="11.2" height="9.4" fill="#0064ff"/>
<rect x="1294.9" y="27.5" width="23.5" height="9.4" fill="#000"/>
<rect x="1318.4" y="27.5" width="11.2" height="9.4" fill="#ff8000"/>
<rect x="1329.6" y="27.5" width="9.4" height="9.4" fill="#000"/>
<rect x="985.6" y="36.9" width="9.3" height="6.8" fill="#5200e6"/>
<rect x="994.9" y="36.9" width="11.6" height="6.8" fill="#ffff00"/>
<rect x="1006.5" y="36.9" width="9.1" height="6.8" fill="#00a87f"/>
<rect x="1015.6" y="36.9" width="9.3" height="6.8" fill="#009000"/>
<rect x="1024.9" y="36.9" width="25.5" height="6.8" fill="#000"/>
<rect x="1050.4" y="36.9" width="13.8" height="6.8" fill="#ffbe00"/>
<rect x="1064.2" y="36.9" width="9.4" height="6.8" fill="#ff8000"/>
<rect x="1073.6" y="36.9" width="11.4" height="6.8" fill="#00ff00"/>
<rect x="1097.0" y="36.9" width="9.1" height="6.8" fill="#5200e6"/>
<rect x="1106.1" y="36.9" width="13.6" height="6.8" fill="#fff"/>
<rect x="1119.7" y="36.9" width="9.3" height="6.8" fill="#000"/>
<rect x="1129.0" y="36.9" width="13.9" height="6.8" fill="#0000ff"/>
<rect x="1142.9" y="36.9" width="11.2" height="6.8" fill="#5000b4"/>
<rect x="1154.1" y="36.9" width="14.1" height="6.8" fill="#ffff00"/>
<rect x="1168.2" y="36.9" width="9.4" height="6.8" fill="#009000"/>
<rect x="1177.6" y="36.9" width="13.3" height="6.8" fill="#ffff00"/>
<rect x="1190.9" y="36.9" width="12.0" height="6.8" fill="#00c800"/>
<rect x="1202.9" y="36.9" width="11.5" height="6.8" fill="#5200e6"/>
<rect x="1214.4" y="36.9" width="11.2" height="6.8" fill="#00c800"/>
<rect x="1225.6" y="36.9" width="12.0" height="6.8" fill="#0000ff"/>
<rect x="1250.9" y="36.9" width="21.3" height="6.8" fill="#009000"/>
<rect x="1272.2" y="36.9" width="11.5" height="6.8" fill="#000"/>
<rect x="1283.7" y="36.9" width="11.2" height="6.8" fill="#00ff00"/>
<rect x="1294.9" y="36.9" width="34.7" height="6.8" fill="#000"/>
<rect x="1329.6" y="36.9" width="9.4" height="6.8" fill="#00ff00"/>
<rect x="985.6" y="43.7" width="9.3" height="6.7" fill="#fff"/>
<rect x="994.9" y="43.7" width="20.7" height="6.7" fill="#000"/>
<rect x="1015.6" y="43.7" width="9.3" height="6.7" fill="#fff"/>
<rect x="1024.9" y="43.7" width="39.3" height="6.7" fill="#000"/>
<rect x="1064.2" y="43.7" width="9.4" height="6.7" fill="#fff"/>
<rect x="1073.6" y="43.7" width="11.4" height="6.7" fill="#00ff00"/>
<rect x="1085.0" y="43.7" width="12.0" height="6.7" fill="#fff"/>
<rect x="1097.0" y="43.7" width="9.1" height="6.7" fill="#000"/>
<rect x="1106.1" y="43.7" width="13.6" height="6.7" fill="#00a87f"/>
<rect x="1119.7" y="43.7" width="9.3" height="6.7" fill="#000"/>
<rect x="1129.0" y="43.7" width="13.9" height="6.7" fill="#00b4ff"/>
<rect x="1142.9" y="43.7" width="11.2" height="6.7" fill="#009000"/>
<rect x="1154.1" y="43.7" width="23.5" height="6.7" fill="#000"/>
<rect x="1177.6" y="43.7" width="13.3" height="6.7" fill="#00a87f"/>
<rect x="1202.9" y="43.7" width="11.5" height="6.7" fill="#00ff00"/>
<rect x="1214.4" y="43.7" width="11.2" height="6.7" fill="#5200e6"/>
<rect x="1225.6" y="43.7" width="35.4" height="6.7" fill="#000"/>
<rect x="1261.0" y="43.7" width="11.2" height="6.7" fill="#ff8000"/>
<rect x="1272.2" y="43.7" width="11.5" height="6.7" fill="#000"/>
<rect x="1283.7" y="43.7" width="11.2" height="6.7" fill="#00ff00"/>
<rect x="1294.9" y="43.7" width="23.5" height="6.7" fill="#fff"/>
<rect x="1318.4" y="43.7" width="11.2" height="6.7" fill="#00ff00"/>
<rect x="1329.6" y="43.7" width="9.4" height="6.7" fill="#fff"/>
<rect x="985.6" y="50.4" width="9.3" height="7.3" fill="#fff"/>
<rect x="994.9" y="50.4" width="11.6" height="7.3" fill="#000"/>
<rect x="1006.5" y="50.4" width="57.7" height="7.3" fill="#fff"/>
<rect x="1064.2" y="50.4" width="9.4" height="7.3" fill="#00ff00"/>
<rect x="1073.6" y="50.4" width="11.4" height="7.3" fill="#fff"/>
<rect x="1085.0" y="50.4" width="12.0" height="7.3" fill="#000"/>
<rect x="1097.0" y="50.4" width="9.1" height="7.3" fill="#aae600"/>
<rect x="1106.1" y="50.4" width="13.6" height="7.3" fill="#ffff00"/>
<rect x="1119.7" y="50.4" width="9.3" height="7.3" fill="#00a87f"/>
<rect x="1129.0" y="50.4" width="13.9" height="7.3" fill="#aae600"/>
<rect x="1142.9" y="50.4" width="11.2" height="7.3" fill="#0064ff"/>
<rect x="1154.1" y="50.4" width="14.1" height="7.3" fill="#00c800"/>
<rect x="1168.2" y="50.4" width="9.4" height="7.3" fill="#aae600"/>
<rect x="1177.6" y="50.4" width="13.3" height="7.3" fill="#000"/>
<rect x="1190.9" y="50.4" width="12.0" height="7.3" fill="#009000"/>
<rect x="1202.9" y="50.4" width="11.5" height="7.3" fill="#fff"/>
<rect x="1214.4" y="50.4" width="11.2" height="7.3" fill="#5000b4"/>
<rect x="1225.6" y="50.4" width="12.0" height="7.3" fill="#009000"/>
<rect x="1237.6" y="50.4" width="13.3" height="7.3" fill="#ff0000"/>
<rect x="1250.9" y="50.4" width="10.1" height="7.3" fill="#000"/>
<rect x="1261.0" y="50.4" width="11.2" height="7.3" fill="#ffff00"/>
<rect x="1272.2" y="50.4" width="11.5" height="7.3" fill="#000"/>
<rect x="1283.7" y="50.4" width="11.2" height="7.3" fill="#fff"/>
<rect x="1294.9" y="50.4" width="12.0" height="7.3" fill="#00ff00"/>
<rect x="1306.9" y="50.4" width="22.7" height="7.3" fill="#fff"/>
<rect x="1329.6" y="50.4" width="9.4" height="7.3" fill="#000"/>
<rect x="985.6" y="57.7" width="30.0" height="9.3" fill="#000"/>
<rect x="1015.6" y="57.7" width="9.3" height="9.3" fill="#fff"/>
<rect x="1024.9" y="57.7" width="25.5" height="9.3" fill="#00a87f"/>
<rect x="1050.4" y="57.7" width="13.8" height="9.3" fill="#000"/>
<rect x="1064.2" y="57.7" width="9.4" height="9.3" fill="#0000ff"/>
<rect x="1073.6" y="57.7" width="11.4" height="9.3" fill="#fff"/>
<rect x="1085.0" y="57.7" width="12.0" height="9.3" fill="#0064ff"/>
<rect x="1097.0" y="57.7" width="9.1" height="9.3" fill="#5200e6"/>
<rect x="1106.1" y="57.7" width="22.9" height="9.3" fill="#000"/>
<rect x="1129.0" y="57.7" width="13.9" height="9.3" fill="#ffbe00"/>
<rect x="1142.9" y="57.7" width="11.2" height="9.3" fill="#00ff00"/>
<rect x="1154.1" y="57.7" width="14.1" height="9.3" fill="#000"/>
<rect x="1168.2" y="57.7" width="9.4" height="9.3" fill="#009000"/>
<rect x="1177.6" y="57.7" width="13.3" height="9.3" fill="#5200e6"/>
<rect x="1190.9" y="57.7" width="12.0" height="9.3" fill="#000"/>
<rect x="1214.4" y="57.7" width="11.2" height="9.3" fill="#009000"/>
<rect x="1225.6" y="57.7" width="12.0" height="9.3" fill="#000"/>
<rect x="1237.6" y="57.7" width="13.3" height="9.3" fill="#aae600"/>
<rect x="1250.9" y="57.7" width="10.1" height="9.3" fill="#ff0000"/>
<rect x="1261.0" y="57.7" width="11.2" height="9.3" fill="#ffff00"/>
<rect x="1272.2" y="57.7" width="11.5" height="9.3" fill="#fff"/>
<rect x="1283.7" y="57.7" width="11.2" height="9.3" fill="#000"/>
<rect x="1294.9" y="57.7" width="12.0" height="9.3" fill="#5000b4"/>
<rect x="1306.9" y="57.7" width="11.5" height="9.3" fill="#00ff00"/>
<rect x="1318.4" y="57.7" width="20.6" height="9.3" fill="#000"/>
<rect x="985.6" y="67.0" width="9.3" height="7.1" fill="#ff8000"/>
<rect x="994.9" y="67.0" width="11.6" height="7.1" fill="#00ff00"/>
<rect x="1006.5" y="67.0" width="43.9" height="7.1" fill="#000"/>
<rect x="1050.4" y="67.0" width="23.2" height="7.1" fill="#fff"/>
<rect x="1073.6" y="67.0" width="11.4" height="7.1" fill="#00c800"/>
<rect x="1085.0" y="67.0" width="12.0" height="7.1" fill="#5000b4"/>
<rect x="1106.1" y="67.0" width="13.6" height="7.1" fill="#aae600"/>
<rect x="1119.7" y="67.0" width="9.3" height="7.1" fill="#000"/>
<rect x="1129.0" y="67.0" width="13.9" height="7.1" fill="#00ff00"/>
<rect x="1142.9" y="67.0" width="11.2" height="7.1" fill="#00b4ff"/>
<rect x="1154.1" y="67.0" width="14.1" height="7.1" fill="#009000"/>
<rect x="1168.2" y="67.0" width="9.4" height="7.1" fill="#4b0082"/>
<rect x="1177.6" y="67.0" width="13.3" height="7.1" fill="#000"/>
<rect x="1190.9" y="67.0" width="12.0" height="7.1" fill="#4b0082"/>
<rect x="1202.9" y="67.0" width="11.5" height="7.1" fill="#0064ff"/>
<rect x="1214.4" y="67.0" width="11.2" height="7.1" fill="#000"/>
<rect x="1225.6" y="67.0" width="12.0" height="7.1" fill="#00b4ff"/>
<rect x="1250.9" y="67.0" width="10.1" height="7.1" fill="#000"/>
<rect x="1261.0" y="67.0" width="11.2" height="7.1" fill="#fff"/>
<rect x="1272.2" y="67.0" width="11.5" height="7.1" fill="#000"/>
<rect x="1283.7" y="67.0" width="11.2" height="7.1" fill="#ffbe00"/>
<rect x="1294.9" y="67.0" width="12.0" height="7.1" fill="#000"/>
<rect x="1306.9" y="67.0" width="11.5" height="7.1" fill="#00b4ff"/>
<rect x="1318.4" y="67.0" width="11.2" height="7.1" fill="#000"/>
<rect x="1329.6" y="67.0" width="9.4" height="7.1" fill="#fff"/>
<rect x="985.6" y="74.1" width="20.9" height="6.8" fill="#fff"/>
<rect x="1006.5" y="74.1" width="9.1" height="6.8" fill="#000"/>
<rect x="1015.6" y="74.1" width="9.3" height="6.8" fill="#00a87f"/>
<rect x="1024.9" y="74.1" width="39.3" height="6.8" fill="#fff"/>
<rect x="1064.2" y="74.1" width="9.4" height="6.8" fill="#0000ff"/>
<rect x="1073.6" y="74.1" width="11.4" height="6.8" fill="#ffff00"/>
<rect x="1085.0" y="74.1" width="12.0" height="6.8" fill="#5200e6"/>
<rect x="1097.0" y="74.1" width="9.1" height="6.8" fill="#fff"/>
<rect x="1119.7" y="74.1" width="9.3" height="6.8" fill="#5000b4"/>
<rect x="1129.0" y="74.1" width="13.9" height="6.8" fill="#0064ff"/>
<rect x="1142.9" y="74.1" width="11.2" height="6.8" fill="#0000ff"/>
<rect x="1154.1" y="74.1" width="14.1" height="6.8" fill="#5200e6"/>
<rect x="1168.2" y="74.1" width="9.4" height="6.8" fill="#4b0082"/>
<rect x="1177.6" y="74.1" width="13.3" height="6.8" fill="#009000"/>
<rect x="1190.9" y="74.1" width="12.0" height="6.8" fill="#000"/>
<rect x="1202.9" y="74.1" width="11.5" height="6.8" fill="#4b0082"/>
<rect x="1214.4" y="74.1" width="11.2" height="6.8" fill="#5000b4"/>
<rect x="1225.6" y="74.1" width="12.0" height="6.8" fill="#00b4ff"/>
<rect x="1237.6" y="74.1" width="23.4" height="6.8" fill="#0064ff"/>
<rect x="1261.0" y="74.1" width="11.2" height="6.8" fill="#fff"/>
<rect x="1272.2" y="74.1" width="46.2" height="6.8" fill="#000"/>
<rect x="1318.4" y="74.1" width="11.2" height="6.8" fill="#5200e6"/>
<rect x="1329.6" y="74.1" width="9.4" height="6.8" fill="#fff"/>
<rect x="985.6" y="80.9" width="9.3" height="8.9" fill="#000"/>
<rect x="994.9" y="80.9" width="20.7" height="8.9" fill="#5000b4"/>
<rect x="1015.6" y="80.9" width="9.3" height="8.9" fill="#5200e6"/>
<rect x="1024.9" y="80.9" width="25.5" height="8.9" fill="#000"/>
<rect x="1050.4" y="80.9" width="13.8" height="8.9" fill="#fff"/>
<rect x="1064.2" y="80.9" width="9.4" height="8.9" fill="#000"/>
<rect x="1073.6" y="80.9" width="11.4" height="8.9" fill="#5000b4"/>
<rect x="1085.0" y="80.9" width="12.0" height="8.9" fill="#00a87f"/>
<rect x="1097.0" y="80.9" width="9.1" height="8.9" fill="#0064ff"/>
<rect x="1106.1" y="80.9" width="13.6" height="8.9" fill="#5200e6"/>
<rect x="1119.7" y="80.9" width="9.3" height="8.9" fill="#00ff00"/>
<rect x="1129.0" y="80.9" width="13.9" height="8.9" fill="#009000"/>
<rect x="1142.9" y="80.9" width="11.2" height="8.9" fill="#00ff00"/>
<rect x="1154.1" y="80.9" width="14.1" height="8.9" fill="#5200e6"/>
<rect x="1168.2" y="80.9" width="9.4" height="8.9" fill="#0064ff"/>
<rect x="1177.6" y="80.9" width="13.3" height="8.9" fill="#4b0082"/>
<rect x="1190.9" y="80.9" width="12.0" height="8.9" fill="#5000b4"/>
<rect x="1202.9" y="80.9" width="11.5" height="8.9" fill="#000"/>
<rect x="1214.4" y="80.9" width="11.2" height="8.9" fill="#00ff00"/>
<rect x="1225.6" y="80.9" width="12.0" height="8.9" fill="#0000ff"/>
<rect x="1237.6" y="80.9" width="46.1" height="8.9" fill="#000"/>
<rect x="1283.7" y="80.9" width="11.2" height="8.9" fill="#ff0000"/>
<rect x="1294.9" y="80.9" width="12.0" height="8.9" fill="#5000b4"/>
<rect x="1306.9" y="80.9" width="11.5" height="8.9" fill="#ff8000"/>
<rect x="1318.4" y="80.9" width="20.6" height="8.9" fill="#fff"/>
<rect x="985.6" y="89.8" width="9.3" height="7.9" fill="#00ff00"/>
<rect x="994.9" y="89.8" width="11.6" height="7.9" fill="#000"/>
<rect x="1006.5" y="89.8" width="43.9" height="7.9" fill="#fff"/>
<rect x="1050.4" y="89.8" width="23.2" height="7.9" fill="#000"/>
<rect x="1073.6" y="89.8" width="11.4" height="7.9" fill="#fff"/>
<rect x="1085.0" y="89.8" width="12.0" height="7.9" fill="#000"/>
<rect x="1097.0" y="89.8" width="9.1" height="7.9" fill="#0064ff"/>
<rect x="1106.1" y="89.8" width="13.6" height="7.9" fill="#4b0082"/>
<rect x="1119.7" y="89.8" width="9.3" height="7.9" fill="#5000b4"/>
<rect x="1142.9" y="89.8" width="11.2" height="7.9" fill="#00b4ff"/>
<rect x="1154.1" y="89.8" width="14.1" height="7.9" fill="#0000ff"/>
<rect x="1168.2" y="89.8" width="9.4" height="7.9" fill="#5200e6"/>
<rect x="1177.6" y="89.8" width="13.3" height="7.9" fill="#00b4ff"/>
<rect x="1190.9" y="89.8" width="12.0" height="7.9" fill="#000"/>
<rect x="1202.9" y="89.8" width="11.5" height="7.9" fill="#5200e6"/>
<rect x="1214.4" y="89.8" width="11.2" height="7.9" fill="#000"/>
<rect x="1225.6" y="89.8" width="12.0" height="7.9" fill="#00b4ff"/>
<rect x="1237.6" y="89.8" width="13.3" height="7.9" fill="#009000"/>
<rect x="1250.9" y="89.8" width="10.1" height="7.9" fill="#0064ff"/>
<rect x="1272.2" y="89.8" width="34.7" height="7.9" fill="#000"/>
<rect x="1306.9" y="89.8" width="32.1" height="7.9" fill="#00ff00"/>
<rect x="985.6" y="97.7" width="99.4" height="7.4" fill="#000"/>
<rect x="1085.0" y="97.7" width="12.0" height="7.4" fill="#0000ff"/>
<rect x="1097.0" y="97.7" width="9.1" height="7.4" fill="#00ff00"/>
<rect x="1106.1" y="97.7" width="13.6" height="7.4" fill="#00a87f"/>
<rect x="1119.7" y="97.7" width="9.3" height="7.4" fill="#5000b4"/>
<rect x="1129.0" y="97.7" width="13.9" height="7.4" fill="#aae600"/>
<rect x="1142.9" y="97.7" width="11.2" height="7.4" fill="#000"/>
<rect x="1154.1" y="97.7" width="14.1" height="7.4" fill="#00b4ff"/>
<rect x="1168.2" y="97.7" width="9.4" height="7.4" fill="#0000ff"/>
<rect x="1177.6" y="97.7" width="13.3" height="7.4" fill="#4b0082"/>
<rect x="1190.9" y="97.7" width="12.0" height="7.4" fill="#000"/>
<rect x="1202.9" y="97.7" width="11.5" height="7.4" fill="#00a87f"/>
<rect x="1214.4" y="97.7" width="11.2" height="7.4" fill="#0000ff"/>
<rect x="1225.6" y="97.7" width="12.0" height="7.4" fill="#5000b4"/>
<rect x="1237.6" y="97.7" width="57.3" height="7.4" fill="#000"/>
<rect x="1294.9" y="97.7" width="34.7" height="7.4" fill="#fff"/>
<rect x="1329.6" y="97.7" width="9.4" height="7.4" fill="#00ff00"/>
<rect x="985.6" y="105.1" width="9.3" height="7.6" fill="#000"/>
<rect x="994.9" y="105.1" width="11.6" height="7.6" fill="#fff"/>
<rect x="1006.5" y="105.1" width="18.4" height="7.6" fill="#000"/>
<rect x="1024.9" y="105.1" width="25.5" height="7.6" fill="#ff8000"/>
<rect x="1050.4" y="105.1" width="23.2" height="7.6" fill="#000"/>
<rect x="1073.6" y="105.1" width="11.4" height="7.6" fill="#009000"/>
<rect x="1085.0" y="105.1" width="12.0" height="7.6" fill="#5200e6"/>
<rect x="1097.0" y="105.1" width="9.1" height="7.6" fill="#00b4ff"/>
<rect x="1119.7" y="105.1" width="9.3" height="7.6" fill="#00b4ff"/>
<rect x="1129.0" y="105.1" width="13.9" height="7.6" fill="#0064ff"/>
<rect x="1142.9" y="105.1" width="11.2" height="7.6" fill="#4b0082"/>
<rect x="1154.1" y="105.1" width="14.1" height="7.6" fill="#000"/>
<rect x="1168.2" y="105.1" width="9.4" height="7.6" fill="#0064ff"/>
<rect x="1177.6" y="105.1" width="13.3" height="7.6" fill="#00b4ff"/>
<rect x="1190.9" y="105.1" width="12.0" height="7.6" fill="#4b0082"/>
<rect x="1202.9" y="105.1" width="11.5" height="7.6" fill="#000"/>
<rect x="1214.4" y="105.1" width="11.2" height="7.6" fill="#0064ff"/>
<rect x="1225.6" y="105.1" width="12.0" height="7.6" fill="#00c800"/>
<rect x="1237.6" y="105.1" width="13.3" height="7.6" fill="#00a87f"/>
<rect x="1250.9" y="105.1" width="10.1" height="7.6" fill="#5200e6"/>
<rect x="1261.0" y="105.1" width="22.7" height="7.6" fill="#000"/>
<rect x="1283.7" y="105.1" width="11.2" height="7.6" fill="#4b0082"/>
<rect x="1294.9" y="105.1" width="23.5" height="7.6" fill="#000"/>
<rect x="1318.4" y="105.1" width="20.6" height="7.6" fill="#fff"/>
<rect x="985.6" y="112.7" width="20.9" height="7.3" fill="#000"/>
<rect x="1006.5" y="112.7" width="9.1" height="7.3" fill="#fff"/>
<rect x="1015.6" y="112.7" width="9.3" height="7.3" fill="#000"/>
<rect x="1024.9" y="112.7" width="25.5" height="7.3" fill="#0000ff"/>
<rect x="1050.4" y="112.7" width="13.8" height="7.3" fill="#fff"/>
<rect x="1064.2" y="112.7" width="9.4" height="7.3" fill="#000"/>
<rect x="1073.6" y="112.7" width="11.4" height="7.3" fill="#00c800"/>
<rect x="1085.0" y="112.7" width="12.0" height="7.3" fill="#00a87f"/>
<rect x="1097.0" y="112.7" width="9.1" height="7.3" fill="#00b4ff"/>
<rect x="1106.1" y="112.7" width="22.9" height="7.3" fill="#5000b4"/>
<rect x="1142.9" y="112.7" width="11.2" height="7.3" fill="#0064ff"/>
<rect x="1168.2" y="112.7" width="9.4" height="7.3" fill="#5200e6"/>
<rect x="1177.6" y="112.7" width="13.3" height="7.3" fill="#5000b4"/>
<rect x="1190.9" y="112.7" width="12.0" height="7.3" fill="#0000ff"/>
<rect x="1202.9" y="112.7" width="34.7" height="7.3" fill="#000"/>
<rect x="1237.6" y="112.7" width="13.3" height="7.3" fill="#5200e6"/>
<rect x="1250.9" y="112.7" width="10.1" height="7.3" fill="#00c800"/>
<rect x="1261.0" y="112.7" width="45.9" height="7.3" fill="#000"/>
<rect x="1306.9" y="112.7" width="22.7" height="7.3" fill="#00ff00"/>
<rect x="1329.6" y="112.7" width="9.4" height="7.3" fill="#fff"/>
<rect x="985.6" y="120.0" width="20.9" height="7.0" fill="#000"/>
<rect x="1006.5" y="120.0" width="9.1" height="7.0" fill="#ff8000"/>
<rect x="1015.6" y="120.0" width="9.3" height="7.0" fill="#0064ff"/>
<rect x="1024.9" y="120.0" width="25.5" height="7.0" fill="#4b0082"/>
<rect x="1050.4" y="120.0" width="13.8" height="7.0" fill="#000"/>
<rect x="1064.2" y="120.0" width="9.4" height="7.0" fill="#00c800"/>
<rect x="1073.6" y="120.0" width="11.4" height="7.0" fill="#5000b4"/>
<rect x="1085.0" y="120.0" width="12.0" height="7.0" fill="#aae600"/>
<rect x="1106.1" y="120.0" width="13.6" height="7.0" fill="#000"/>
<rect x="1119.7" y="120.0" width="9.3" height="7.0" fill="#0064ff"/>
<rect x="1129.0" y="120.0" width="25.1" height="7.0" fill="#009000"/>
<rect x="1154.1" y="120.0" width="14.1" height="7.0" fill="#5200e6"/>
<rect x="1168.2" y="120.0" width="9.4" height="7.0" fill="#00a87f"/>
<rect x="1177.6" y="120.0" width="13.3" height="7.0" fill="#5200e6"/>
<rect x="1190.9" y="120.0" width="12.0" height="7.0" fill="#0000ff"/>
<rect x="1202.9" y="120.0" width="11.5" height="7.0" fill="#00b4ff"/>
<rect x="1214.4" y="120.0" width="11.2" height="7.0" fill="#5000b4"/>
<rect x="1225.6" y="120.0" width="12.0" height="7.0" fill="#00ff00"/>
<rect x="1237.6" y="120.0" width="46.1" height="7.0" fill="#000"/>
<rect x="1283.7" y="120.0" width="11.2" height="7.0" fill="#00ff00"/>
<rect x="1294.9" y="120.0" width="12.0" height="7.0" fill="#ff8000"/>
<rect x="1306.9" y="120.0" width="11.5" height="7.0" fill="#fff"/>
<rect x="1329.6" y="120.0" width="9.4" height="7.0" fill="#fff"/>
<rect x="994.9" y="127.0" width="11.6" height="8.0" fill="#ff0000"/>
<rect x="1006.5" y="127.0" width="9.1" height="8.0" fill="#000"/>
<rect x="1015.6" y="127.0" width="9.3" height="8.0" fill="#ffbe00"/>
<rect x="1024.9" y="127.0" width="25.5" height="8.0" fill="#ff8000"/>
<rect x="1050.4" y="127.0" width="13.8" height="8.0" fill="#0000ff"/>
<rect x="1073.6" y="127.0" width="11.4" height="8.0" fill="#ffbe00"/>
<rect x="1085.0" y="127.0" width="12.0" height="8.0" fill="#000"/>
<rect x="1097.0" y="127.0" width="9.1" height="8.0" fill="#5200e6"/>
<rect x="1119.7" y="127.0" width="23.2" height="8.0" fill="#00b4ff"/>
<rect x="1142.9" y="127.0" width="11.2" height="8.0" fill="#00a87f"/>
<rect x="1177.6" y="127.0" width="13.3" height="8.0" fill="#00b4ff"/>
<rect x="1190.9" y="127.0" width="23.5" height="8.0" fill="#000"/>
<rect x="1214.4" y="127.0" width="11.2" height="8.0" fill="#5000b4"/>
<rect x="1225.6" y="127.0" width="25.3" height="8.0" fill="#0000ff"/>
<rect x="1250.9" y="127.0" width="10.1" height="8.0" fill="#5200e6"/>
<rect x="1261.0" y="127.0" width="11.2" height="8.0" fill="#00a87f"/>
<rect x="1272.2" y="127.0" width="22.7" height="8.0" fill="#000"/>
<rect x="1294.9" y="127.0" width="12.0" height="8.0" fill="#5200e6"/>
<rect x="1306.9" y="127.0" width="11.5" height="8.0" fill="#000"/>
<rect x="1318.4" y="127.0" width="11.2" height="8.0" fill="#00ff00"/>
<rect x="1329.6" y="127.0" width="9.4" height="8.0" fill="#fff"/>
<rect x="985.6" y="135.0" width="20.9" height="8.0" fill="#000"/>
<rect x="1006.5" y="135.0" width="9.1" height="8.0" fill="#ff8000"/>
<rect x="1015.6" y="135.0" width="9.3" height="8.0" fill="#fff"/>
<rect x="1024.9" y="135.0" width="25.5" height="8.0" fill="#000"/>
<rect x="1050.4" y="135.0" width="13.8" height="8.0" fill="#5200e6"/>
<rect x="1073.6" y="135.0" width="11.4" height="8.0" fill="#00c800"/>
<rect x="1085.0" y="135.0" width="21.1" height="8.0" fill="#009000"/>
<rect x="1106.1" y="135.0" width="13.6" height="8.0" fill="#0064ff"/>
<rect x="1119.7" y="135.0" width="9.3" height="8.0" fill="#00c800"/>
<rect x="1129.0" y="135.0" width="13.9" height="8.0" fill="#009000"/>
<rect x="1142.9" y="135.0" width="11.2" height="8.0" fill="#00b4ff"/>
<rect x="1154.1" y="135.0" width="14.1" height="8.0" fill="#0064ff"/>
<rect x="1168.2" y="135.0" width="9.4" height="8.0" fill="#0000ff"/>
<rect x="1177.6" y="135.0" width="13.3" height="8.0" fill="#0064ff"/>
<rect x="1190.9" y="135.0" width="12.0" height="8.0" fill="#5200e6"/>
<rect x="1202.9" y="135.0" width="11.5" height="8.0" fill="#0064ff"/>
<rect x="1214.4" y="135.0" width="11.2" height="8.0" fill="#5000b4"/>
<rect x="1225.6" y="135.0" width="12.0" height="8.0" fill="#5200e6"/>
<rect x="1237.6" y="135.0" width="13.3" height="8.0" fill="#00b4ff"/>
<rect x="1250.9" y="135.0" width="10.1" height="8.0" fill="#000"/>
<rect x="1261.0" y="135.0" width="11.2" height="8.0" fill="#5200e6"/>
<rect x="1272.2" y="135.0" width="11.5" height="8.0" fill="#0000ff"/>
<rect x="1283.7" y="135.0" width="11.2" height="8.0" fill="#009000"/>
<rect x="1294.9" y="135.0" width="34.7" height="8.0" fill="#000"/>
<rect x="1329.6" y="135.0" width="9.4" height="8.0" fill="#fff"/>
<rect x="985.6" y="143.0" width="9.3" height="7.0" fill="#fff"/>
<rect x="994.9" y="143.0" width="11.6" height="7.0" fill="#ff8000"/>
<rect x="1006.5" y="143.0" width="9.1" height="7.0" fill="#00b4ff"/>
<rect x="1015.6" y="143.0" width="9.3" height="7.0" fill="#000"/>
<rect x="1024.9" y="143.0" width="25.5" height="7.0" fill="#ff0000"/>
<rect x="1050.4" y="143.0" width="13.8" height="7.0" fill="#fff"/>
<rect x="1073.6" y="143.0" width="11.4" height="7.0" fill="#00c800"/>
<rect x="1085.0" y="143.0" width="12.0" height="7.0" fill="#009000"/>
<rect x="1097.0" y="143.0" width="9.1" height="7.0" fill="#00c800"/>
<rect x="1106.1" y="143.0" width="22.9" height="7.0" fill="#00a87f"/>
<rect x="1129.0" y="143.0" width="13.9" height="7.0" fill="#009000"/>
<rect x="1142.9" y="143.0" width="11.2" height="7.0" fill="#00a87f"/>
<rect x="1168.2" y="143.0" width="9.4" height="7.0" fill="#0064ff"/>
<rect x="1177.6" y="143.0" width="13.3" height="7.0" fill="#0000ff"/>
<rect x="1190.9" y="143.0" width="12.0" height="7.0" fill="#5200e6"/>
<rect x="1202.9" y="143.0" width="11.5" height="7.0" fill="#0000ff"/>
<rect x="1214.4" y="143.0" width="11.2" height="7.0" fill="#5200e6"/>
<rect x="1225.6" y="143.0" width="12.0" height="7.0" fill="#0064ff"/>
<rect x="1237.6" y="143.0" width="13.3" height="7.0" fill="#5000b4"/>
<rect x="1261.0" y="143.0" width="11.2" height="7.0" fill="#5000b4"/>
<rect x="1272.2" y="143.0" width="11.5" height="7.0" fill="#000"/>
<rect x="1283.7" y="143.0" width="11.2" height="7.0" fill="#aae600"/>
<rect x="1294.9" y="143.0" width="12.0" height="7.0" fill="#009000"/>
<rect x="1306.9" y="143.0" width="22.7" height="7.0" fill="#5000b4"/>
<rect x="1329.6" y="143.0" width="9.4" height="7.0" fill="#fff"/>
<rect x="985.6" y="150.0" width="9.3" height="7.6" fill="#fff"/>
<rect x="994.9" y="150.0" width="11.6" height="7.6" fill="#000"/>
<rect x="1006.5" y="150.0" width="9.1" height="7.6" fill="#ffff00"/>
<rect x="1015.6" y="150.0" width="9.3" height="7.6" fill="#5000b4"/>
<rect x="1024.9" y="150.0" width="25.5" height="7.6" fill="#000"/>
<rect x="1050.4" y="150.0" width="13.8" height="7.6" fill="#009000"/>
<rect x="1064.2" y="150.0" width="9.4" height="7.6" fill="#00b4ff"/>
<rect x="1073.6" y="150.0" width="11.4" height="7.6" fill="#5200e6"/>
<rect x="1085.0" y="150.0" width="12.0" height="7.6" fill="#0064ff"/>
<rect x="1097.0" y="150.0" width="9.1" height="7.6" fill="#0000ff"/>
<rect x="1106.1" y="150.0" width="13.6" height="7.6" fill="#5000b4"/>
<rect x="1119.7" y="150.0" width="9.3" height="7.6" fill="#00b4ff"/>
<rect x="1142.9" y="150.0" width="11.2" height="7.6" fill="#0064ff"/>
<rect x="1154.1" y="150.0" width="14.1" height="7.6" fill="#0000ff"/>
<rect x="1168.2" y="150.0" width="9.4" height="7.6" fill="#0064ff"/>
<rect x="1190.9" y="150.0" width="12.0" height="7.6" fill="#5000b4"/>
<rect x="1202.9" y="150.0" width="11.5" height="7.6" fill="#4b0082"/>
<rect x="1214.4" y="150.0" width="11.2" height="7.6" fill="#000"/>
<rect x="1225.6" y="150.0" width="12.0" height="7.6" fill="#0000ff"/>
<rect x="1237.6" y="150.0" width="13.3" height="7.6" fill="#5200e6"/>
<rect x="1250.9" y="150.0" width="32.8" height="7.6" fill="#000"/>
<rect x="1283.7" y="150.0" width="11.2" height="7.6" fill="#00ff00"/>
<rect x="1294.9" y="150.0" width="12.0" height="7.6" fill="#000"/>
<rect x="1306.9" y="150.0" width="11.5" height="7.6" fill="#00ff00"/>
<rect x="1318.4" y="150.0" width="11.2" height="7.6" fill="#000"/>
<rect x="1329.6" y="150.0" width="9.4" height="7.6" fill="#00ff00"/>
<rect x="985.6" y="157.6" width="9.3" height="8.2" fill="#000"/>
<rect x="994.9" y="157.6" width="11.6" height="8.2" fill="#fff"/>
<rect x="1006.5" y="157.6" width="9.1" height="8.2" fill="#000"/>
<rect x="1015.6" y="157.6" width="9.3" height="8.2" fill="#00b4ff"/>
<rect x="1024.9" y="157.6" width="25.5" height="8.2" fill="#000"/>
<rect x="1050.4" y="157.6" width="13.8" height="8.2" fill="#0000ff"/>
<rect x="1064.2" y="157.6" width="9.4" height="8.2" fill="#000"/>
<rect x="1073.6" y="157.6" width="23.4" height="8.2" fill="#00c800"/>
<rect x="1119.7" y="157.6" width="9.3" height="8.2" fill="#0000ff"/>
<rect x="1129.0" y="157.6" width="13.9" height="8.2" fill="#009000"/>
<rect x="1142.9" y="157.6" width="25.3" height="8.2" fill="#0064ff"/>
<rect x="1168.2" y="157.6" width="9.4" height="8.2" fill="#5200e6"/>
<rect x="1177.6" y="157.6" width="13.3" height="8.2" fill="#5000b4"/>
<rect x="1190.9" y="157.6" width="12.0" height="8.2" fill="#0064ff"/>
<rect x="1202.9" y="157.6" width="11.5" height="8.2" fill="#4b0082"/>
<rect x="1214.4" y="157.6" width="11.2" height="8.2" fill="#5000b4"/>
<rect x="1225.6" y="157.6" width="81.3" height="8.2" fill="#000"/>
<rect x="1306.9" y="157.6" width="32.1" height="8.2" fill="#00ff00"/>
<rect x="985.6" y="165.8" width="20.9" height="7.4" fill="#fff"/>
<rect x="1015.6" y="165.8" width="9.3" height="7.4" fill="#ffbe00"/>
<rect x="1024.9" y="165.8" width="39.3" height="7.4" fill="#000"/>
<rect x="1064.2" y="165.8" width="9.4" height="7.4" fill="#00b4ff"/>
<rect x="1073.6" y="165.8" width="11.4" height="7.4" fill="#0000ff"/>
<rect x="1085.0" y="165.8" width="12.0" height="7.4" fill="#00a87f"/>
<rect x="1097.0" y="165.8" width="9.1" height="7.4" fill="#00c800"/>
<rect x="1106.1" y="165.8" width="13.6" height="7.4" fill="#5200e6"/>
<rect x="1119.7" y="165.8" width="9.3" height="7.4" fill="#0000ff"/>
<rect x="1142.9" y="165.8" width="11.2" height="7.4" fill="#00b4ff"/>
<rect x="1154.1" y="165.8" width="36.8" height="7.4" fill="#0064ff"/>
<rect x="1190.9" y="165.8" width="12.0" height="7.4" fill="#5200e6"/>
<rect x="1202.9" y="165.8" width="11.5" height="7.4" fill="#0064ff"/>
<rect x="1214.4" y="165.8" width="11.2" height="7.4" fill="#000"/>
<rect x="1237.6" y="165.8" width="13.3" height="7.4" fill="#4b0082"/>
<rect x="1250.9" y="165.8" width="10.1" height="7.4" fill="#5200e6"/>
<rect x="1261.0" y="165.8" width="11.2" height="7.4" fill="#000"/>
<rect x="1272.2" y="165.8" width="11.5" height="7.4" fill="#ffff00"/>
<rect x="1283.7" y="165.8" width="11.2" height="7.4" fill="#00b4ff"/>
<rect x="1294.9" y="165.8" width="12.0" height="7.4" fill="#000"/>
<rect x="1306.9" y="165.8" width="11.5" height="7.4" fill="#fff"/>
<rect x="1318.4" y="165.8" width="11.2" height="7.4" fill="#ff8000"/>
<rect x="985.6" y="173.2" width="9.3" height="7.1" fill="#000"/>
<rect x="994.9" y="173.2" width="11.6" height="7.1" fill="#ff8000"/>
<rect x="1006.5" y="173.2" width="9.1" height="7.1" fill="#00b4ff"/>
<rect x="1015.6" y="173.2" width="9.3" height="7.1" fill="#009000"/>
<rect x="1024.9" y="173.2" width="25.5" height="7.1" fill="#000"/>
<rect x="1050.4" y="173.2" width="13.8" height="7.1" fill="#ff0000"/>
<rect x="1064.2" y="173.2" width="9.4" height="7.1" fill="#00b4ff"/>
<rect x="1073.6" y="173.2" width="11.4" height="7.1" fill="#0000ff"/>
<rect x="1085.0" y="173.2" width="12.0" height="7.1" fill="#00a87f"/>
<rect x="1097.0" y="173.2" width="9.1" height="7.1" fill="#0000ff"/>
<rect x="1106.1" y="173.2" width="13.6" height="7.1" fill="#0064ff"/>
<rect x="1129.0" y="173.2" width="13.9" height="7.1" fill="#0000ff"/>
<rect x="1142.9" y="173.2" width="11.2" height="7.1" fill="#00b4ff"/>
<rect x="1154.1" y="173.2" width="14.1" height="7.1" fill="#0064ff"/>
<rect x="1168.2" y="173.2" width="9.4" height="7.1" fill="#0000ff"/>
<rect x="1177.6" y="173.2" width="13.3" height="7.1" fill="#5200e6"/>
<rect x="1190.9" y="173.2" width="12.0" height="7.1" fill="#0000ff"/>
<rect x="1202.9" y="173.2" width="11.5" height="7.1" fill="#000"/>
<rect x="1214.4" y="173.2" width="11.2" height="7.1" fill="#5000b4"/>
<rect x="1225.6" y="173.2" width="35.4" height="7.1" fill="#000"/>
<rect x="1261.0" y="173.2" width="11.2" height="7.1" fill="#4b0082"/>
<rect x="1272.2" y="173.2" width="34.7" height="7.1" fill="#000"/>
<rect x="1306.9" y="173.2" width="11.5" height="7.1" fill="#5000b4"/>
<rect x="1318.4" y="173.2" width="11.2" height="7.1" fill="#00ff00"/>
<rect x="1329.6" y="173.2" width="9.4" height="7.1" fill="#fff"/>
<rect x="985.6" y="180.3" width="9.3" height="8.5" fill="#fff"/>
<rect x="994.9" y="180.3" width="11.6" height="8.5" fill="#009000"/>
<rect x="1006.5" y="180.3" width="9.1" height="8.5" fill="#aae600"/>
<rect x="1015.6" y="180.3" width="9.3" height="8.5" fill="#fff"/>
<rect x="1024.9" y="180.3" width="25.5" height="8.5" fill="#000"/>
<rect x="1050.4" y="180.3" width="13.8" height="8.5" fill="#00ff00"/>
<rect x="1064.2" y="180.3" width="9.4" height="8.5" fill="#aae600"/>
<rect x="1073.6" y="180.3" width="11.4" height="8.5" fill="#009000"/>
<rect x="1097.0" y="180.3" width="9.1" height="8.5" fill="#00b4ff"/>
<rect x="1106.1" y="180.3" width="13.6" height="8.5" fill="#0064ff"/>
<rect x="1142.9" y="180.3" width="11.2" height="8.5" fill="#00b4ff"/>
<rect x="1154.1" y="180.3" width="14.1" height="8.5" fill="#5200e6"/>
<rect x="1168.2" y="180.3" width="9.4" height="8.5" fill="#00b4ff"/>
<rect x="1177.6" y="180.3" width="13.3" height="8.5" fill="#0064ff"/>
<rect x="1190.9" y="180.3" width="12.0" height="8.5" fill="#0000ff"/>
<rect x="1202.9" y="180.3" width="11.5" height="8.5" fill="#000"/>
<rect x="1214.4" y="180.3" width="11.2" height="8.5" fill="#4b0082"/>
<rect x="1225.6" y="180.3" width="12.0" height="8.5" fill="#5000b4"/>
<rect x="1237.6" y="180.3" width="46.1" height="8.5" fill="#000"/>
<rect x="1283.7" y="180.3" width="11.2" height="8.5" fill="#00a87f"/>
<rect x="1294.9" y="180.3" width="12.0" height="8.5" fill="#0000ff"/>
<rect x="1306.9" y="180.3" width="11.5" height="8.5" fill="#0064ff"/>
<rect x="1318.4" y="180.3" width="11.2" height="8.5" fill="#000"/>
<rect x="1329.6" y="180.3" width="9.4" height="8.5" fill="#fff"/>
<rect x="985.6" y="188.8" width="9.3" height="7.6" fill="#0064ff"/>
<rect x="994.9" y="188.8" width="11.6" height="7.6" fill="#009000"/>
<rect x="1006.5" y="188.8" width="9.1" height="7.6" fill="#00b4ff"/>
<rect x="1015.6" y="188.8" width="9.3" height="7.6" fill="#ffbe00"/>
<rect x="1024.9" y="188.8" width="25.5" height="7.6" fill="#00ff00"/>
<rect x="1050.4" y="188.8" width="13.8" height="7.6" fill="#ffbe00"/>
<rect x="1064.2" y="188.8" width="9.4" height="7.6" fill="#00a87f"/>
<rect x="1073.6" y="188.8" width="11.4" height="7.6" fill="#00b4ff"/>
<rect x="1085.0" y="188.8" width="12.0" height="7.6" fill="#00ff00"/>
<rect x="1097.0" y="188.8" width="9.1" height="7.6" fill="#00b4ff"/>
<rect x="1106.1" y="188.8" width="13.6" height="7.6" fill="#009000"/>
<rect x="1119.7" y="188.8" width="9.3" height="7.6" fill="#00b4ff"/>
<rect x="1154.1" y="188.8" width="14.1" height="7.6" fill="#0000ff"/>
<rect x="1168.2" y="188.8" width="9.4" height="7.6" fill="#00b4ff"/>
<rect x="1177.6" y="188.8" width="13.3" height="7.6" fill="#0064ff"/>
<rect x="1190.9" y="188.8" width="12.0" height="7.6" fill="#4b0082"/>
<rect x="1202.9" y="188.8" width="11.5" height="7.6" fill="#5000b4"/>
<rect x="1214.4" y="188.8" width="11.2" height="7.6" fill="#4b0082"/>
<rect x="1225.6" y="188.8" width="12.0" height="7.6" fill="#000"/>
<rect x="1237.6" y="188.8" width="13.3" height="7.6" fill="#5200e6"/>
<rect x="1250.9" y="188.8" width="10.1" height="7.6" fill="#5000b4"/>
<rect x="1261.0" y="188.8" width="11.2" height="7.6" fill="#000"/>
<rect x="1272.2" y="188.8" width="11.5" height="7.6" fill="#0000ff"/>
<rect x="1283.7" y="188.8" width="11.2" height="7.6" fill="#5200e6"/>
<rect x="1294.9" y="188.8" width="23.5" height="7.6" fill="#000"/>
<rect x="1318.4" y="188.8" width="11.2" height="7.6" fill="#fff"/>
<rect x="1329.6" y="188.8" width="9.4" height="7.6" fill="#000"/>
<rect x="985.6" y="196.4" width="20.9" height="7.0" fill="#000"/>
<rect x="1006.5" y="196.4" width="9.1" height="7.0" fill="#aae600"/>
<rect x="1015.6" y="196.4" width="9.3" height="7.0" fill="#00a87f"/>
<rect x="1024.9" y="196.4" width="25.5" height="7.0" fill="#5000b4"/>
<rect x="1050.4" y="196.4" width="23.2" height="7.0" fill="#00b4ff"/>
<rect x="1085.0" y="196.4" width="12.0" height="7.0" fill="#5200e6"/>
<rect x="1097.0" y="196.4" width="9.1" height="7.0" fill="#0064ff"/>
<rect x="1119.7" y="196.4" width="23.2" height="7.0" fill="#00b4ff"/>
<rect x="1154.1" y="196.4" width="23.5" height="7.0" fill="#0064ff"/>
<rect x="1177.6" y="196.4" width="13.3" height="7.0" fill="#0000ff"/>
<rect x="1190.9" y="196.4" width="12.0" height="7.0" fill="#5200e6"/>
<rect x="1202.9" y="196.4" width="11.5" height="7.0" fill="#4b0082"/>
<rect x="1214.4" y="196.4" width="11.2" height="7.0" fill="#0000ff"/>
<rect x="1225.6" y="196.4" width="35.4" height="7.0" fill="#000"/>
<rect x="1261.0" y="196.4" width="11.2" height="7.0" fill="#5200e6"/>
<rect x="1272.2" y="196.4" width="11.5" height="7.0" fill="#5000b4"/>
<rect x="1283.7" y="196.4" width="55.3" height="7.0" fill="#000"/>
<rect x="985.6" y="203.4" width="9.3" height="7.4" fill="#00ff00"/>
<rect x="994.9" y="203.4" width="11.6" height="7.4" fill="#ff0000"/>
<rect x="1006.5" y="203.4" width="9.1" height="7.4" fill="#aae600"/>
<rect x="1015.6" y="203.4" width="9.3" height="7.4" fill="#000"/>
<rect x="1024.9" y="203.4" width="25.5" height="7.4" fill="#00a87f"/>
<rect x="1064.2" y="203.4" width="9.4" height="7.4" fill="#009000"/>
<rect x="1073.6" y="203.4" width="11.4" height="7.4" fill="#00a87f"/>
<rect x="1085.0" y="203.4" width="12.0" height="7.4" fill="#0064ff"/>
<rect x="1106.1" y="203.4" width="13.6" height="7.4" fill="#00a87f"/>
<rect x="1129.0" y="203.4" width="13.9" height="7.4" fill="#00a87f"/>
<rect x="1142.9" y="203.4" width="11.2" height="7.4" fill="#00b4ff"/>
<rect x="1154.1" y="203.4" width="14.1" height="7.4" fill="#0000ff"/>
<rect x="1168.2" y="203.4" width="9.4" height="7.4" fill="#0064ff"/>
<rect x="1177.6" y="203.4" width="25.3" height="7.4" fill="#0000ff"/>
<rect x="1202.9" y="203.4" width="11.5" height="7.4" fill="#5200e6"/>
<rect x="1214.4" y="203.4" width="11.2" height="7.4" fill="#4b0082"/>
<rect x="1225.6" y="203.4" width="12.0" height="7.4" fill="#0000ff"/>
<rect x="1237.6" y="203.4" width="13.3" height="7.4" fill="#5200e6"/>
<rect x="1250.9" y="203.4" width="10.1" height="7.4" fill="#5000b4"/>
<rect x="1261.0" y="203.4" width="11.2" height="7.4" fill="#00b4ff"/>
<rect x="1272.2" y="203.4" width="11.5" height="7.4" fill="#000"/>
<rect x="1283.7" y="203.4" width="11.2" height="7.4" fill="#00b4ff"/>
<rect x="1294.9" y="203.4" width="12.0" height="7.4" fill="#000"/>
<rect x="1306.9" y="203.4" width="11.5" height="7.4" fill="#00ff00"/>
<rect x="1318.4" y="203.4" width="11.2" height="7.4" fill="#ff8000"/>
<rect x="1329.6" y="203.4" width="9.4" height="7.4" fill="#fff"/>
<rect x="985.6" y="210.8" width="9.3" height="8.0" fill="#000"/>
<rect x="994.9" y="210.8" width="11.6" height="8.0" fill="#ff8000"/>
<rect x="1006.5" y="210.8" width="9.1" height="8.0" fill="#0000ff"/>
<rect x="1015.6" y="210.8" width="9.3" height="8.0" fill="#00a87f"/>
<rect x="1024.9" y="210.8" width="25.5" height="8.0" fill="#009000"/>
<rect x="1050.4" y="210.8" width="13.8" height="8.0" fill="#4b0082"/>
<rect x="1064.2" y="210.8" width="9.4" height="8.0" fill="#00b4ff"/>
<rect x="1097.0" y="210.8" width="9.1" height="8.0" fill="#00b4ff"/>
<rect x="1106.1" y="210.8" width="13.6" height="8.0" fill="#0064ff"/>
<rect x="1119.7" y="210.8" width="9.3" height="8.0" fill="#0000ff"/>
<rect x="1129.0" y="210.8" width="25.1" height="8.0" fill="#00b4ff"/>
<rect x="1154.1" y="210.8" width="23.5" height="8.0" fill="#0000ff"/>
<rect x="1177.6" y="210.8" width="13.3" height="8.0" fill="#5200e6"/>
<rect x="1190.9" y="210.8" width="12.0" height="8.0" fill="#5000b4"/>
<rect x="1202.9" y="210.8" width="11.5" height="8.0" fill="#0000ff"/>
<rect x="1214.4" y="210.8" width="11.2" height="8.0" fill="#5200e6"/>
<rect x="1225.6" y="210.8" width="12.0" height="8.0" fill="#5000b4"/>
<rect x="1237.6" y="210.8" width="13.3" height="8.0" fill="#000"/>
<rect x="1250.9" y="210.8" width="10.1" height="8.0" fill="#5000b4"/>
<rect x="1261.0" y="210.8" width="11.2" height="8.0" fill="#5200e6"/>
<rect x="1272.2" y="210.8" width="11.5" height="8.0" fill="#00b4ff"/>
<rect x="1283.7" y="210.8" width="11.2" height="8.0" fill="#000"/>
<rect x="1294.9" y="210.8" width="12.0" height="8.0" fill="#ffff00"/>
<rect x="1306.9" y="210.8" width="11.5" height="8.0" fill="#000"/>
<rect x="1318.4" y="210.8" width="11.2" height="8.0" fill="#009000"/>
<rect x="1329.6" y="210.8" width="9.4" height="8.0" fill="#000"/>
<rect x="985.6" y="218.8" width="9.3" height="7.2" fill="#00b4ff"/>
<rect x="994.9" y="218.8" width="11.6" height="7.2" fill="#aae600"/>
<rect x="1006.5" y="218.8" width="9.1" height="7.2" fill="#00c800"/>
<rect x="1015.6" y="218.8" width="9.3" height="7.2" fill="#0000ff"/>
<rect x="1024.9" y="218.8" width="25.5" height="7.2" fill="#000"/>
<rect x="1050.4" y="218.8" width="23.2" height="7.2" fill="#0064ff"/>
<rect x="1073.6" y="218.8" width="23.4" height="7.2" fill="#00a87f"/>
<rect x="1106.1" y="218.8" width="22.9" height="7.2" fill="#00b4ff"/>
<rect x="1142.9" y="218.8" width="11.2" height="7.2" fill="#00b4ff"/>
<rect x="1154.1" y="218.8" width="23.5" height="7.2" fill="#0064ff"/>
<rect x="1177.6" y="218.8" width="25.3" height="7.2" fill="#0000ff"/>
<rect x="1202.9" y="218.8" width="11.5" height="7.2" fill="#5200e6"/>
<rect x="1214.4" y="218.8" width="11.2" height="7.2" fill="#0000ff"/>
<rect x="1225.6" y="218.8" width="12.0" height="7.2" fill="#000"/>
<rect x="1237.6" y="218.8" width="13.3" height="7.2" fill="#0064ff"/>
<rect x="1250.9" y="218.8" width="10.1" height="7.2" fill="#5000b4"/>
<rect x="1261.0" y="218.8" width="11.2" height="7.2" fill="#000"/>
<rect x="1272.2" y="218.8" width="11.5" height="7.2" fill="#5200e6"/>
<rect x="1283.7" y="218.8" width="11.2" height="7.2" fill="#000"/>
<rect x="1294.9" y="218.8" width="12.0" height="7.2" fill="#aae600"/>
<rect x="1306.9" y="218.8" width="11.5" height="7.2" fill="#000"/>
<rect x="1318.4" y="218.8" width="20.6" height="7.2" fill="#fff"/>
<rect x="985.6" y="226.0" width="9.3" height="7.7" fill="#5000b4"/>
<rect x="1006.5" y="226.0" width="9.1" height="7.7" fill="#0000ff"/>
<rect x="1015.6" y="226.0" width="9.3" height="7.7" fill="#0064ff"/>
<rect x="1024.9" y="226.0" width="39.3" height="7.7" fill="#00c800"/>
<rect x="1064.2" y="226.0" width="9.4" height="7.7" fill="#0064ff"/>
<rect x="1073.6" y="226.0" width="23.4" height="7.7" fill="#00a87f"/>
<rect x="1097.0" y="226.0" width="9.1" height="7.7" fill="#0064ff"/>
<rect x="1106.1" y="226.0" width="13.6" height="7.7" fill="#00a87f"/>
<rect x="1119.7" y="226.0" width="9.3" height="7.7" fill="#00b4ff"/>
<rect x="1129.0" y="226.0" width="13.9" height="7.7" fill="#00a87f"/>
<rect x="1142.9" y="226.0" width="11.2" height="7.7" fill="#0000ff"/>
<rect x="1154.1" y="226.0" width="14.1" height="7.7" fill="#00b4ff"/>
<rect x="1168.2" y="226.0" width="9.4" height="7.7" fill="#0064ff"/>
<rect x="1177.6" y="226.0" width="36.8" height="7.7" fill="#5200e6"/>
<rect x="1214.4" y="226.0" width="23.2" height="7.7" fill="#4b0082"/>
<rect x="1237.6" y="226.0" width="34.6" height="7.7" fill="#000"/>
<rect x="1272.2" y="226.0" width="11.5" height="7.7" fill="#4b0082"/>
<rect x="1283.7" y="226.0" width="45.9" height="7.7" fill="#000"/>
<rect x="1329.6" y="226.0" width="9.4" height="7.7" fill="#00a87f"/>
<rect x="985.6" y="233.7" width="9.3" height="8.6" fill="#5200e6"/>
<rect x="994.9" y="233.7" width="11.6" height="8.6" fill="#aae600"/>
<rect x="1006.5" y="233.7" width="9.1" height="8.6" fill="#00b4ff"/>
<rect x="1015.6" y="233.7" width="9.3" height="8.6" fill="#0000ff"/>
<rect x="1024.9" y="233.7" width="25.5" height="8.6" fill="#009000"/>
<rect x="1050.4" y="233.7" width="13.8" height="8.6" fill="#aae600"/>
<rect x="1064.2" y="233.7" width="9.4" height="8.6" fill="#0064ff"/>
<rect x="1073.6" y="233.7" width="23.4" height="8.6" fill="#00b4ff"/>
<rect x="1097.0" y="233.7" width="9.1" height="8.6" fill="#00a87f"/>
<rect x="1106.1" y="233.7" width="22.9" height="8.6" fill="#00b4ff"/>
<rect x="1129.0" y="233.7" width="13.9" height="8.6" fill="#0064ff"/>
<rect x="1142.9" y="233.7" width="11.2" height="8.6" fill="#00b4ff"/>
<rect x="1154.1" y="233.7" width="23.5" height="8.6" fill="#0000ff"/>
<rect x="1177.6" y="233.7" width="25.3" height="8.6" fill="#5200e6"/>
<rect x="1202.9" y="233.7" width="11.5" height="8.6" fill="#5000b4"/>
<rect x="1214.4" y="233.7" width="11.2" height="8.6" fill="#0000ff"/>
<rect x="1225.6" y="233.7" width="12.0" height="8.6" fill="#5200e6"/>
<rect x="1237.6" y="233.7" width="13.3" height="8.6" fill="#000"/>
<rect x="1250.9" y="233.7" width="10.1" height="8.6" fill="#4b0082"/>
<rect x="1261.0" y="233.7" width="22.7" height="8.6" fill="#000"/>
<rect x="1283.7" y="233.7" width="11.2" height="8.6" fill="#5000b4"/>
<rect x="1294.9" y="233.7" width="12.0" height="8.6" fill="#0064ff"/>
<rect x="1306.9" y="233.7" width="11.5" height="8.6" fill="#000"/>
<rect x="1329.6" y="233.7" width="9.4" height="8.6" fill="#000"/>
<rect x="994.9" y="242.3" width="20.7" height="7.0" fill="#00b4ff"/>
<rect x="1015.6" y="242.3" width="9.3" height="7.0" fill="#0064ff"/>
<rect x="1024.9" y="242.3" width="39.3" height="7.0" fill="#0000ff"/>
<rect x="1064.2" y="242.3" width="9.4" height="7.0" fill="#00b4ff"/>
<rect x="1073.6" y="242.3" width="11.4" height="7.0" fill="#00a87f"/>
<rect x="1106.1" y="242.3" width="22.9" height="7.0" fill="#00b4ff"/>
<rect x="1129.0" y="242.3" width="13.9" height="7.0" fill="#00a87f"/>
<rect x="1142.9" y="242.3" width="11.2" height="7.0" fill="#00b4ff"/>
<rect x="1154.1" y="242.3" width="23.5" height="7.0" fill="#0064ff"/>
<rect x="1177.6" y="242.3" width="13.3" height="7.0" fill="#0000ff"/>
<rect x="1190.9" y="242.3" width="12.0" height="7.0" fill="#5200e6"/>
<rect x="1202.9" y="242.3" width="48.0" height="7.0" fill="#5000b4"/>
<rect x="1250.9" y="242.3" width="10.1" height="7.0" fill="#000"/>
<rect x="1261.0" y="242.3" width="11.2" height="7.0" fill="#0064ff"/>
<rect x="1272.2" y="242.3" width="11.5" height="7.0" fill="#000"/>
<rect x="1283.7" y="242.3" width="11.2" height="7.0" fill="#0000ff"/>
<rect x="1294.9" y="242.3" width="34.7" height="7.0" fill="#000"/>
<rect x="1329.6" y="242.3" width="9.4" height="7.0" fill="#5000b4"/>
<rect x="985.6" y="249.3" width="9.3" height="7.2" fill="#0064ff"/>
<rect x="994.9" y="249.3" width="11.6" height="7.2" fill="#00a87f"/>
<rect x="1015.6" y="249.3" width="9.3" height="7.2" fill="#0064ff"/>
<rect x="1024.9" y="249.3" width="25.5" height="7.2" fill="#00b4ff"/>
<rect x="1064.2" y="249.3" width="9.4" height="7.2" fill="#00a87f"/>
<rect x="1106.1" y="249.3" width="13.6" height="7.2" fill="#00a87f"/>
<rect x="1119.7" y="249.3" width="9.3" height="7.2" fill="#0064ff"/>
<rect x="1129.0" y="249.3" width="13.9" height="7.2" fill="#00b4ff"/>
<rect x="1142.9" y="249.3" width="34.7" height="7.2" fill="#0064ff"/>
<rect x="1177.6" y="249.3" width="13.3" height="7.2" fill="#0000ff"/>
<rect x="1190.9" y="249.3" width="23.5" height="7.2" fill="#5200e6"/>
<rect x="1214.4" y="249.3" width="36.5" height="7.2" fill="#4b0082"/>
<rect x="1250.9" y="249.3" width="10.1" height="7.2" fill="#000"/>
<rect x="1261.0" y="249.3" width="11.2" height="7.2" fill="#5000b4"/>
<rect x="1272.2" y="249.3" width="11.5" height="7.2" fill="#000"/>
<rect x="1283.7" y="249.3" width="11.2" height="7.2" fill="#5000b4"/>
<rect x="1294.9" y="249.3" width="34.7" height="7.2" fill="#000"/>
<rect x="1329.6" y="249.3" width="9.4" height="7.2" fill="#00b4ff"/>
<rect x="985.6" y="256.5" width="9.3" height="9.0" fill="#00ff00"/>
<rect x="994.9" y="256.5" width="20.7" height="9.0" fill="#0000ff"/>
<rect x="1015.6" y="256.5" width="9.3" height="9.0" fill="#000"/>
<rect x="1085.0" y="256.5" width="12.0" height="9.0" fill="#00b4ff"/>
<rect x="1119.7" y="256.5" width="34.4" height="9.0" fill="#00b4ff"/>
<rect x="1154.1" y="256.5" width="23.5" height="9.0" fill="#0064ff"/>
<rect x="1177.6" y="256.5" width="13.3" height="9.0" fill="#0000ff"/>
<rect x="1190.9" y="256.5" width="23.5" height="9.0" fill="#5200e6"/>
<rect x="1214.4" y="256.5" width="11.2" height="9.0" fill="#5000b4"/>
<rect x="1225.6" y="256.5" width="12.0" height="9.0" fill="#000"/>
<rect x="1237.6" y="256.5" width="13.3" height="9.0" fill="#4b0082"/>
<rect x="1250.9" y="256.5" width="21.3" height="9.0" fill="#000"/>
<rect x="1272.2" y="256.5" width="11.5" height="9.0" fill="#4b0082"/>
<rect x="1283.7" y="256.5" width="55.3" height="9.0" fill="#000"/>
<rect x="985.6" y="265.5" width="9.3" height="7.3" fill="#00b4ff"/>
<rect x="994.9" y="265.5" width="11.6" height="7.3" fill="#4b0082"/>
<rect x="1006.5" y="265.5" width="9.1" height="7.3" fill="#009000"/>
<rect x="1050.4" y="265.5" width="13.8" height="7.3" fill="#00b4ff"/>
<rect x="1064.2" y="265.5" width="20.8" height="7.3" fill="#00a87f"/>
<rect x="1097.0" y="265.5" width="32.0" height="7.3" fill="#00b4ff"/>
<rect x="1129.0" y="265.5" width="48.6" height="7.3" fill="#0064ff"/>
<rect x="1177.6" y="265.5" width="25.3" height="7.3" fill="#0000ff"/>
<rect x="1202.9" y="265.5" width="22.7" height="7.3" fill="#5200e6"/>
<rect x="1225.6" y="265.5" width="12.0" height="7.3" fill="#5000b4"/>
<rect x="1237.6" y="265.5" width="13.3" height="7.3" fill="#4b0082"/>
<rect x="1250.9" y="265.5" width="21.3" height="7.3" fill="#5200e6"/>
<rect x="1272.2" y="265.5" width="11.5" height="7.3" fill="#000"/>
<rect x="1283.7" y="265.5" width="11.2" height="7.3" fill="#0064ff"/>
<rect x="1294.9" y="265.5" width="12.0" height="7.3" fill="#5000b4"/>
<rect x="1306.9" y="265.5" width="11.5" height="7.3" fill="#0000ff"/>
<rect x="1318.4" y="265.5" width="11.2" height="7.3" fill="#000"/>
<rect x="1329.6" y="265.5" width="9.4" height="7.3" fill="#fff"/>
<rect x="985.6" y="272.8" width="9.3" height="6.5" fill="#000"/>
<rect x="994.9" y="272.8" width="11.6" height="6.5" fill="#5200e6"/>
<rect x="1006.5" y="272.8" width="9.1" height="6.5" fill="#009000"/>
<rect x="1015.6" y="272.8" width="9.3" height="6.5" fill="#0064ff"/>
<rect x="1024.9" y="272.8" width="25.5" height="6.5" fill="#00b4ff"/>
<rect x="1050.4" y="272.8" width="34.6" height="6.5" fill="#00a87f"/>
<rect x="1085.0" y="272.8" width="12.0" height="6.5" fill="#00b4ff"/>
<rect x="1106.1" y="272.8" width="13.6" height="6.5" fill="#00b4ff"/>
<rect x="1119.7" y="272.8" width="9.3" height="6.5" fill="#0064ff"/>
<rect x="1142.9" y="272.8" width="11.2" height="6.5" fill="#00b4ff"/>
<rect x="1154.1" y="272.8" width="23.5" height="6.5" fill="#0064ff"/>
<rect x="1177.6" y="272.8" width="25.3" height="6.5" fill="#0000ff"/>
<rect x="1202.9" y="272.8" width="11.5" height="6.5" fill="#5200e6"/>
<rect x="1214.4" y="272.8" width="23.2" height="6.5" fill="#5000b4"/>
<rect x="1237.6" y="272.8" width="23.4" height="6.5" fill="#000"/>
<rect x="1261.0" y="272.8" width="11.2" height="6.5" fill="#5000b4"/>
<rect x="1272.2" y="272.8" width="11.5" height="6.5" fill="#0000ff"/>
<rect x="1283.7" y="272.8" width="11.2" height="6.5" fill="#5000b4"/>
<rect x="1294.9" y="272.8" width="12.0" height="6.5" fill="#000"/>
<rect x="1306.9" y="272.8" width="11.5" height="6.5" fill="#0064ff"/>
<rect x="1318.4" y="272.8" width="11.2" height="6.5" fill="#000"/>
<rect x="1329.6" y="272.8" width="9.4" height="6.5" fill="#fff"/>
<rect x="985.6" y="279.3" width="9.3" height="9.9" fill="#00a87f"/>
<rect x="1006.5" y="279.3" width="9.1" height="9.9" fill="#00b4ff"/>
<rect x="1015.6" y="279.3" width="9.3" height="9.9" fill="#009000"/>
<rect x="1085.0" y="279.3" width="12.0" height="9.9" fill="#00b4ff"/>
<rect x="1106.1" y="279.3" width="13.6" height="9.9" fill="#00b4ff"/>
<rect x="1129.0" y="279.3" width="25.1" height="9.9" fill="#00b4ff"/>
<rect x="1154.1" y="279.3" width="14.1" height="9.9" fill="#0064ff"/>
<rect x="1168.2" y="279.3" width="9.4" height="9.9" fill="#00b4ff"/>
<rect x="1177.6" y="279.3" width="13.3" height="9.9" fill="#0000ff"/>
<rect x="1190.9" y="279.3" width="12.0" height="9.9" fill="#5000b4"/>
<rect x="1202.9" y="279.3" width="11.5" height="9.9" fill="#5200e6"/>
<rect x="1214.4" y="279.3" width="23.2" height="9.9" fill="#000"/>
<rect x="1237.6" y="279.3" width="13.3" height="9.9" fill="#4b0082"/>
<rect x="1250.9" y="279.3" width="10.1" height="9.9" fill="#5000b4"/>
<rect x="1261.0" y="279.3" width="11.2" height="9.9" fill="#000"/>
<rect x="1272.2" y="279.3" width="11.5" height="9.9" fill="#5000b4"/>
<rect x="1283.7" y="279.3" width="45.9" height="9.9" fill="#000"/>
<rect x="1329.6" y="279.3" width="9.4" height="9.9" fill="#ffff00"/>
<rect x="985.6" y="289.2" width="9.3" height="6.5" fill="#00b4ff"/>
<rect x="1006.5" y="289.2" width="9.1" height="6.5" fill="#00b4ff"/>
<rect x="1050.4" y="289.2" width="13.8" height="6.5" fill="#00a87f"/>
<rect x="1085.0" y="289.2" width="12.0" height="6.5" fill="#00b4ff"/>
<rect x="1119.7" y="289.2" width="9.3" height="6.5" fill="#00b4ff"/>
<rect x="1142.9" y="289.2" width="11.2" height="6.5" fill="#00b4ff"/>
<rect x="1154.1" y="289.2" width="23.5" height="6.5" fill="#0064ff"/>
<rect x="1177.6" y="289.2" width="13.3" height="6.5" fill="#0000ff"/>
<rect x="1190.9" y="289.2" width="23.5" height="6.5" fill="#5200e6"/>
<rect x="1214.4" y="289.2" width="11.2" height="6.5" fill="#4b0082"/>
<rect x="1225.6" y="289.2" width="12.0" height="6.5" fill="#5000b4"/>
<rect x="1237.6" y="289.2" width="13.3" height="6.5" fill="#4b0082"/>
<rect x="1250.9" y="289.2" width="10.1" height="6.5" fill="#000"/>
<rect x="1261.0" y="289.2" width="11.2" height="6.5" fill="#5200e6"/>
<rect x="1272.2" y="289.2" width="22.7" height="6.5" fill="#4b0082"/>
<rect x="1294.9" y="289.2" width="12.0" height="6.5" fill="#5200e6"/>
<rect x="1306.9" y="289.2" width="11.5" height="6.5" fill="#5000b4"/>
<rect x="1318.4" y="289.2" width="11.2" height="6.5" fill="#5200e6"/>
<rect x="1329.6" y="289.2" width="9.4" height="6.5" fill="#fff"/>
<rect x="985.6" y="295.7" width="9.3" height="7.3" fill="#5200e6"/>
<rect x="994.9" y="295.7" width="11.6" height="7.3" fill="#5000b4"/>
<rect x="1006.5" y="295.7" width="9.1" height="7.3" fill="#009000"/>
<rect x="1015.6" y="295.7" width="34.8" height="7.3" fill="#0064ff"/>
<rect x="1050.4" y="295.7" width="13.8" height="7.3" fill="#00a87f"/>
<rect x="1073.6" y="295.7" width="23.4" height="7.3" fill="#00a87f"/>
<rect x="1119.7" y="295.7" width="34.4" height="7.3" fill="#00b4ff"/>
<rect x="1154.1" y="295.7" width="23.5" height="7.3" fill="#0064ff"/>
<rect x="1177.6" y="295.7" width="25.3" height="7.3" fill="#0000ff"/>
<rect x="1202.9" y="295.7" width="11.5" height="7.3" fill="#5200e6"/>
<rect x="1214.4" y="295.7" width="36.5" height="7.3" fill="#4b0082"/>
<rect x="1250.9" y="295.7" width="10.1" height="7.3" fill="#5000b4"/>
<rect x="1261.0" y="295.7" width="11.2" height="7.3" fill="#000"/>
<rect x="1272.2" y="295.7" width="11.5" height="7.3" fill="#0064ff"/>
<rect x="1283.7" y="295.7" width="11.2" height="7.3" fill="#5000b4"/>
<rect x="1294.9" y="295.7" width="23.5" height="7.3" fill="#4b0082"/>
<rect x="1318.4" y="295.7" width="11.2" height="7.3" fill="#000"/>
<rect x="1329.6" y="295.7" width="9.4" height="7.3" fill="#ffff00"/>
<rect x="985.6" y="303.0" width="9.3" height="7.7" fill="#00c800"/>
<rect x="994.9" y="303.0" width="11.6" height="7.7" fill="#00b4ff"/>
<rect x="1006.5" y="303.0" width="9.1" height="7.7" fill="#0064ff"/>
<rect x="1024.9" y="303.0" width="25.5" height="7.7" fill="#00b4ff"/>
<rect x="1064.2" y="303.0" width="32.8" height="7.7" fill="#00a87f"/>
<rect x="1119.7" y="303.0" width="9.3" height="7.7" fill="#00b4ff"/>
<rect x="1142.9" y="303.0" width="34.7" height="7.7" fill="#00b4ff"/>
<rect x="1177.6" y="303.0" width="25.3" height="7.7" fill="#0000ff"/>
<rect x="1202.9" y="303.0" width="11.5" height="7.7" fill="#5200e6"/>
<rect x="1214.4" y="303.0" width="36.5" height="7.7" fill="#5000b4"/>
<rect x="1250.9" y="303.0" width="10.1" height="7.7" fill="#000"/>
<rect x="1261.0" y="303.0" width="22.7" height="7.7" fill="#5000b4"/>
<rect x="1283.7" y="303.0" width="11.2" height="7.7" fill="#4b0082"/>
<rect x="1294.9" y="303.0" width="12.0" height="7.7" fill="#000"/>
<rect x="1306.9" y="303.0" width="11.5" height="7.7" fill="#009000"/>
<rect x="1318.4" y="303.0" width="20.6" height="7.7" fill="#00c800"/>
<rect x="985.6" y="310.7" width="9.3" height="7.8" fill="#00c800"/>
<rect x="994.9" y="310.7" width="11.6" height="7.8" fill="#00b4ff"/>
<rect x="1006.5" y="310.7" width="9.1" height="7.8" fill="#0064ff"/>
<rect x="1064.2" y="310.7" width="9.4" height="7.8" fill="#00b4ff"/>
<rect x="1073.6" y="310.7" width="11.4" height="7.8" fill="#00a87f"/>
<rect x="1106.1" y="310.7" width="62.1" height="7.8" fill="#00b4ff"/>
<rect x="1168.2" y="310.7" width="9.4" height="7.8" fill="#0064ff"/>
<rect x="1177.6" y="310.7" width="13.3" height="7.8" fill="#0000ff"/>
<rect x="1190.9" y="310.7" width="12.0" height="7.8" fill="#5200e6"/>
<rect x="1202.9" y="310.7" width="22.7" height="7.8" fill="#5000b4"/>
<rect x="1225.6" y="310.7" width="12.0" height="7.8" fill="#4b0082"/>
<rect x="1237.6" y="310.7" width="13.3" height="7.8" fill="#5000b4"/>
<rect x="1250.9" y="310.7" width="10.1" height="7.8" fill="#4b0082"/>
<rect x="1261.0" y="310.7" width="22.7" height="7.8" fill="#000"/>
<rect x="1283.7" y="310.7" width="23.2" height="7.8" fill="#4b0082"/>
<rect x="1306.9" y="310.7" width="11.5" height="7.8" fill="#5200e6"/>
<rect x="1318.4" y="310.7" width="11.2" height="7.8" fill="#0000ff"/>
<rect x="1329.6" y="310.7" width="9.4" height="7.8" fill="#00b4ff"/>
<rect x="985.6" y="318.5" width="9.3" height="7.5" fill="#0064ff"/>
<rect x="994.9" y="318.5" width="11.6" height="7.5" fill="#0000ff"/>
<rect x="1006.5" y="318.5" width="9.1" height="7.5" fill="#00b4ff"/>
<rect x="1024.9" y="318.5" width="25.5" height="7.5" fill="#0064ff"/>
<rect x="1142.9" y="318.5" width="25.3" height="7.5" fill="#00b4ff"/>
<rect x="1168.2" y="318.5" width="9.4" height="7.5" fill="#0064ff"/>
<rect x="1177.6" y="318.5" width="13.3" height="7.5" fill="#0000ff"/>
<rect x="1190.9" y="318.5" width="23.5" height="7.5" fill="#5200e6"/>
<rect x="1214.4" y="318.5" width="11.2" height="7.5" fill="#5000b4"/>
<rect x="1225.6" y="318.5" width="25.3" height="7.5" fill="#4b0082"/>
<rect x="1250.9" y="318.5" width="56.0" height="7.5" fill="#000"/>
<rect x="1306.9" y="318.5" width="11.5" height="7.5" fill="#4b0082"/>
<rect x="1318.4" y="318.5" width="20.6" height="7.5" fill="#000"/>
<rect x="985.6" y="326.0" width="9.3" height="6.8" fill="#00a87f"/>
<rect x="994.9" y="326.0" width="11.6" height="6.8" fill="#00b4ff"/>
<rect x="1015.6" y="326.0" width="9.3" height="6.8" fill="#00b4ff"/>
<rect x="1050.4" y="326.0" width="34.6" height="6.8" fill="#00a87f"/>
<rect x="1119.7" y="326.0" width="9.3" height="6.8" fill="#00b4ff"/>
<rect x="1142.9" y="326.0" width="25.3" height="6.8" fill="#00b4ff"/>
<rect x="1168.2" y="326.0" width="9.4" height="6.8" fill="#0064ff"/>
<rect x="1177.6" y="326.0" width="13.3" height="6.8" fill="#0000ff"/>
<rect x="1190.9" y="326.0" width="23.5" height="6.8" fill="#5200e6"/>
<rect x="1214.4" y="326.0" width="36.5" height="6.8" fill="#4b0082"/>
<rect x="1250.9" y="326.0" width="10.1" height="6.8" fill="#000"/>
<rect x="1261.0" y="326.0" width="11.2" height="6.8" fill="#5200e6"/>
<rect x="1272.2" y="326.0" width="22.7" height="6.8" fill="#000"/>
<rect x="1294.9" y="326.0" width="12.0" height="6.8" fill="#5000b4"/>
<rect x="1306.9" y="326.0" width="32.1" height="6.8" fill="#000"/>
<rect x="985.6" y="332.8" width="9.3" height="9.3" fill="#00b4ff"/>
<rect x="994.9" y="332.8" width="11.6" height="9.3" fill="#0064ff"/>
<rect x="1006.5" y="332.8" width="9.1" height="9.3" fill="#00b4ff"/>
<rect x="1015.6" y="332.8" width="9.3" height="9.3" fill="#0064ff"/>
<rect x="1024.9" y="332.8" width="25.5" height="9.3" fill="#009000"/>
<rect x="1050.4" y="332.8" width="13.8" height="9.3" fill="#00b4ff"/>
<rect x="1142.9" y="332.8" width="25.3" height="9.3" fill="#00b4ff"/>
<rect x="1168.2" y="332.8" width="9.4" height="9.3" fill="#0064ff"/>
<rect x="1177.6" y="332.8" width="13.3" height="9.3" fill="#0000ff"/>
<rect x="1190.9" y="332.8" width="23.5" height="9.3" fill="#5200e6"/>
<rect x="1214.4" y="332.8" width="23.2" height="9.3" fill="#5000b4"/>
<rect x="1237.6" y="332.8" width="13.3" height="9.3" fill="#000"/>
<rect x="1250.9" y="332.8" width="10.1" height="9.3" fill="#4b0082"/>
<rect x="1261.0" y="332.8" width="11.2" height="9.3" fill="#000"/>
<rect x="1272.2" y="332.8" width="22.7" height="9.3" fill="#4b0082"/>
<rect x="1294.9" y="332.8" width="34.7" height="9.3" fill="#000"/>
<rect x="1329.6" y="332.8" width="9.4" height="9.3" fill="#0064ff"/>
<rect x="985.6" y="342.1" width="9.3" height="7.1" fill="#0000ff"/>
<rect x="994.9" y="342.1" width="11.6" height="7.1" fill="#0064ff"/>
<rect x="1006.5" y="342.1" width="9.1" height="7.1" fill="#00b4ff"/>
<rect x="1015.6" y="342.1" width="9.3" height="7.1" fill="#00a87f"/>
<rect x="1024.9" y="342.1" width="25.5" height="7.1" fill="#0064ff"/>
<rect x="1050.4" y="342.1" width="34.6" height="7.1" fill="#00a87f"/>
<rect x="1142.9" y="342.1" width="25.3" height="7.1" fill="#00b4ff"/>
<rect x="1168.2" y="342.1" width="9.4" height="7.1" fill="#0064ff"/>
<rect x="1177.6" y="342.1" width="25.3" height="7.1" fill="#0000ff"/>
<rect x="1202.9" y="342.1" width="11.5" height="7.1" fill="#5200e6"/>
<rect x="1214.4" y="342.1" width="11.2" height="7.1" fill="#5000b4"/>
<rect x="1225.6" y="342.1" width="12.0" height="7.1" fill="#4b0082"/>
<rect x="1237.6" y="342.1" width="23.4" height="7.1" fill="#000"/>
<rect x="1261.0" y="342.1" width="11.2" height="7.1" fill="#4b0082"/>
<rect x="1272.2" y="342.1" width="46.2" height="7.1" fill="#000"/>
<rect x="1318.4" y="342.1" width="11.2" height="7.1" fill="#4b0082"/>
<rect x="1329.6" y="342.1" width="9.4" height="7.1" fill="#ff8000"/>
<rect x="985.6" y="349.2" width="9.3" height="6.6" fill="#0000ff"/>
<rect x="994.9" y="349.2" width="11.6" height="6.6" fill="#009000"/>
<rect x="1006.5" y="349.2" width="9.1" height="6.6" fill="#00b4ff"/>
<rect x="1015.6" y="349.2" width="90.5" height="6.6" fill="#00a87f"/>
<rect x="1142.9" y="349.2" width="25.3" height="6.6" fill="#00b4ff"/>
<rect x="1168.2" y="349.2" width="22.7" height="6.6" fill="#0064ff"/>
<rect x="1190.9" y="349.2" width="12.0" height="6.6" fill="#0000ff"/>
<rect x="1202.9" y="349.2" width="11.5" height="6.6" fill="#5200e6"/>
<rect x="1214.4" y="349.2" width="23.2" height="6.6" fill="#5000b4"/>
<rect x="1237.6" y="349.2" width="13.3" height="6.6" fill="#4b0082"/>
<rect x="1250.9" y="349.2" width="32.8" height="6.6" fill="#000"/>
<rect x="1283.7" y="349.2" width="11.2" height="6.6" fill="#5200e6"/>
<rect x="1294.9" y="349.2" width="12.0" height="6.6" fill="#5000b4"/>
<rect x="1306.9" y="349.2" width="22.7" height="6.6" fill="#000"/>
<rect x="1329.6" y="349.2" width="9.4" height="6.6" fill="#009000"/>
<rect x="985.6" y="355.8" width="9.3" height="9.5" fill="#5200e6"/>
<rect x="994.9" y="355.8" width="11.6" height="9.5" fill="#00a87f"/>
<rect x="1015.6" y="355.8" width="9.3" height="9.5" fill="#00a87f"/>
<rect x="1024.9" y="355.8" width="25.5" height="9.5" fill="#00b4ff"/>
<rect x="1050.4" y="355.8" width="13.8" height="9.5" fill="#009000"/>
<rect x="1064.2" y="355.8" width="32.8" height="9.5" fill="#00a87f"/>
<rect x="1142.9" y="355.8" width="25.3" height="9.5" fill="#00b4ff"/>
<rect x="1168.2" y="355.8" width="22.7" height="9.5" fill="#0064ff"/>
<rect x="1190.9" y="355.8" width="12.0" height="9.5" fill="#0000ff"/>
<rect x="1202.9" y="355.8" width="11.5" height="9.5" fill="#5200e6"/>
<rect x="1214.4" y="355.8" width="23.2" height="9.5" fill="#5000b4"/>
<rect x="1237.6" y="355.8" width="23.4" height="9.5" fill="#4b0082"/>
<rect x="1261.0" y="355.8" width="57.4" height="9.5" fill="#000"/>
<rect x="1318.4" y="355.8" width="11.2" height="9.5" fill="#0000ff"/>
<rect x="1329.6" y="355.8" width="9.4" height="9.5" fill="#ffff00"/>
<rect x="985.6" y="365.3" width="9.3" height="6.7" fill="#00a87f"/>
<rect x="1006.5" y="365.3" width="9.1" height="6.7" fill="#00a87f"/>
<rect x="1050.4" y="365.3" width="55.7" height="6.7" fill="#00a87f"/>
<rect x="1154.1" y="365.3" width="23.5" height="6.7" fill="#00b4ff"/>
<rect x="1177.6" y="365.3" width="13.3" height="6.7" fill="#0064ff"/>
<rect x="1190.9" y="365.3" width="12.0" height="6.7" fill="#0000ff"/>
<rect x="1202.9" y="365.3" width="11.5" height="6.7" fill="#5200e6"/>
<rect x="1214.4" y="365.3" width="23.2" height="6.7" fill="#5000b4"/>
<rect x="1237.6" y="365.3" width="13.3" height="6.7" fill="#4b0082"/>
<rect x="1250.9" y="365.3" width="44.0" height="6.7" fill="#000"/>
<rect x="1294.9" y="365.3" width="12.0" height="6.7" fill="#4b0082"/>
<rect x="1306.9" y="365.3" width="11.5" height="6.7" fill="#000"/>
<rect x="1318.4" y="365.3" width="11.2" height="6.7" fill="#5200e6"/>
<rect x="1329.6" y="365.3" width="9.4" height="6.7" fill="#009000"/>
<rect x="994.9" y="372.0" width="20.7" height="7.0" fill="#00a87f"/>
<rect x="1024.9" y="372.0" width="25.5" height="7.0" fill="#00b4ff"/>
<rect x="1050.4" y="372.0" width="13.8" height="7.0" fill="#009000"/>
<rect x="1064.2" y="372.0" width="55.5" height="7.0" fill="#00a87f"/>
<rect x="1154.1" y="372.0" width="14.1" height="7.0" fill="#00b4ff"/>
<rect x="1168.2" y="372.0" width="22.7" height="7.0" fill="#0064ff"/>
<rect x="1190.9" y="372.0" width="12.0" height="7.0" fill="#0000ff"/>
<rect x="1202.9" y="372.0" width="11.5" height="7.0" fill="#5200e6"/>
<rect x="1214.4" y="372.0" width="23.2" height="7.0" fill="#5000b4"/>
<rect x="1237.6" y="372.0" width="23.4" height="7.0" fill="#4b0082"/>
<rect x="1261.0" y="372.0" width="11.2" height="7.0" fill="#000"/>
<rect x="1272.2" y="372.0" width="11.5" height="7.0" fill="#4b0082"/>
<rect x="1283.7" y="372.0" width="34.7" height="7.0" fill="#000"/>
<rect x="1318.4" y="372.0" width="11.2" height="7.0" fill="#5000b4"/>
<rect x="1329.6" y="372.0" width="9.4" height="7.0" fill="#00c800"/>
<rect x="994.9" y="379.0" width="11.6" height="9.6" fill="#00a87f"/>
<rect x="1015.6" y="379.0" width="104.1" height="9.6" fill="#00a87f"/>
<rect x="1154.1" y="379.0" width="14.1" height="9.6" fill="#00b4ff"/>
<rect x="1168.2" y="379.0" width="22.7" height="9.6" fill="#0064ff"/>
<rect x="1190.9" y="379.0" width="12.0" height="9.6" fill="#0000ff"/>
<rect x="1202.9" y="379.0" width="11.5" height="9.6" fill="#5200e6"/>
<rect x="1214.4" y="379.0" width="11.2" height="9.6" fill="#5000b4"/>
<rect x="1225.6" y="379.0" width="35.4" height="9.6" fill="#4b0082"/>
<rect x="1261.0" y="379.0" width="22.7" height="9.6" fill="#000"/>
<rect x="1283.7" y="379.0" width="23.2" height="9.6" fill="#4b0082"/>
<rect x="1306.9" y="379.0" width="32.1" height="9.6" fill="#000"/>
<rect x="985.6" y="388.6" width="9.3" height="6.6" fill="#00b4ff"/>
<rect x="1006.5" y="388.6" width="9.1" height="6.6" fill="#00a87f"/>
<rect x="1024.9" y="388.6" width="48.7" height="6.6" fill="#00a87f"/>
<rect x="1073.6" y="388.6" width="11.4" height="6.6" fill="#009000"/>
<rect x="1085.0" y="388.6" width="34.7" height="6.6" fill="#00a87f"/>
<rect x="1154.1" y="388.6" width="23.5" height="6.6" fill="#00b4ff"/>
<rect x="1177.6" y="388.6" width="13.3" height="6.6" fill="#0064ff"/>
<rect x="1190.9" y="388.6" width="12.0" height="6.6" fill="#0000ff"/>
<rect x="1202.9" y="388.6" width="11.5" height="6.6" fill="#5200e6"/>
<rect x="1214.4" y="388.6" width="23.2" height="6.6" fill="#5000b4"/>
<rect x="1237.6" y="388.6" width="34.6" height="6.6" fill="#4b0082"/>
<rect x="1272.2" y="388.6" width="22.7" height="6.6" fill="#000"/>
<rect x="1294.9" y="388.6" width="12.0" height="6.6" fill="#0000ff"/>
<rect x="1306.9" y="388.6" width="11.5" height="6.6" fill="#000"/>
<rect x="1318.4" y="388.6" width="11.2" height="6.6" fill="#4b0082"/>
<rect x="1024.9" y="395.2" width="104.1" height="6.9" fill="#00a87f"/>
<rect x="1154.1" y="395.2" width="23.5" height="6.9" fill="#00b4ff"/>
<rect x="1177.6" y="395.2" width="13.3" height="6.9" fill="#0064ff"/>
<rect x="1190.9" y="395.2" width="23.5" height="6.9" fill="#0000ff"/>
<rect x="1214.4" y="395.2" width="23.2" height="6.9" fill="#5000b4"/>
<rect x="1237.6" y="395.2" width="13.3" height="6.9" fill="#4b0082"/>
<rect x="1250.9" y="395.2" width="10.1" height="6.9" fill="#000"/>
<rect x="1261.0" y="395.2" width="11.2" height="6.9" fill="#4b0082"/>
<rect x="1272.2" y="395.2" width="11.5" height="6.9" fill="#000"/>
<rect x="1283.7" y="395.2" width="11.2" height="6.9" fill="#4b0082"/>
<rect x="1294.9" y="395.2" width="23.5" height="6.9" fill="#000"/>
<rect x="1318.4" y="395.2" width="11.2" height="6.9" fill="#5000b4"/>
<rect x="1329.6" y="395.2" width="9.4" height="6.9" fill="#000"/>
<rect x="1015.6" y="402.1" width="48.6" height="9.3" fill="#00a87f"/>
<rect x="1064.2" y="402.1" width="20.8" height="9.3" fill="#009000"/>
<rect x="1085.0" y="402.1" width="34.7" height="9.3" fill="#00a87f"/>
<rect x="1154.1" y="402.1" width="23.5" height="9.3" fill="#00b4ff"/>
<rect x="1177.6" y="402.1" width="25.3" height="9.3" fill="#0064ff"/>
<rect x="1202.9" y="402.1" width="11.5" height="9.3" fill="#0000ff"/>
<rect x="1214.4" y="402.1" width="23.2" height="9.3" fill="#5000b4"/>
<rect x="1237.6" y="402.1" width="13.3" height="9.3" fill="#4b0082"/>
<rect x="1250.9" y="402.1" width="32.8" height="9.3" fill="#000"/>
<rect x="1283.7" y="402.1" width="11.2" height="9.3" fill="#4b0082"/>
<rect x="1294.9" y="402.1" width="34.7" height="9.3" fill="#000"/>
<rect x="1329.6" y="402.1" width="9.4" height="9.3" fill="#4b0082"/>
<rect x="985.6" y="411.4" width="9.3" height="7.1" fill="#009000"/>
<rect x="994.9" y="411.4" width="30.0" height="7.1" fill="#00a87f"/>
<rect x="1050.4" y="411.4" width="13.8" height="7.1" fill="#00a87f"/>
<rect x="1064.2" y="411.4" width="9.4" height="7.1" fill="#009000"/>
<rect x="1073.6" y="411.4" width="55.4" height="7.1" fill="#00a87f"/>
<rect x="1154.1" y="411.4" width="23.5" height="7.1" fill="#00b4ff"/>
<rect x="1177.6" y="411.4" width="13.3" height="7.1" fill="#0064ff"/>
<rect x="1190.9" y="411.4" width="12.0" height="7.1" fill="#0000ff"/>
<rect x="1202.9" y="411.4" width="11.5" height="7.1" fill="#5200e6"/>
<rect x="1214.4" y="411.4" width="23.2" height="7.1" fill="#5000b4"/>
<rect x="1237.6" y="411.4" width="23.4" height="7.1" fill="#4b0082"/>
<rect x="1261.0" y="411.4" width="78.0" height="7.1" fill="#000"/>
<rect x="1006.5" y="418.5" width="18.4" height="6.5" fill="#00a87f"/>
<rect x="1050.4" y="418.5" width="13.8" height="6.5" fill="#00a87f"/>
<rect x="1064.2" y="418.5" width="20.8" height="6.5" fill="#009000"/>
<rect x="1085.0" y="418.5" width="57.9" height="6.5" fill="#00a87f"/>
<rect x="1168.2" y="418.5" width="9.4" height="6.5" fill="#00b4ff"/>
<rect x="1177.6" y="418.5" width="25.3" height="6.5" fill="#0064ff"/>
<rect x="1202.9" y="418.5" width="11.5" height="6.5" fill="#0000ff"/>
<rect x="1214.4" y="418.5" width="11.2" height="6.5" fill="#5200e6"/>
<rect x="1225.6" y="418.5" width="12.0" height="6.5" fill="#5000b4"/>
<rect x="1237.6" y="418.5" width="34.6" height="6.5" fill="#4b0082"/>
<rect x="1272.2" y="418.5" width="34.7" height="6.5" fill="#000"/>
<rect x="1306.9" y="418.5" width="11.5" height="6.5" fill="#4b0082"/>
<rect x="1318.4" y="418.5" width="11.2" height="6.5" fill="#000"/>
<rect x="1329.6" y="418.5" width="9.4" height="6.5" fill="#4b0082"/>
<rect x="994.9" y="425.0" width="69.3" height="9.2" fill="#00a87f"/>
<rect x="1064.2" y="425.0" width="41.9" height="9.2" fill="#009000"/>
<rect x="1106.1" y="425.0" width="36.8" height="9.2" fill="#00a87f"/>
<rect x="1168.2" y="425.0" width="9.4" height="9.2" fill="#00b4ff"/>
<rect x="1177.6" y="425.0" width="25.3" height="9.2" fill="#0064ff"/>
<rect x="1202.9" y="425.0" width="11.5" height="9.2" fill="#0000ff"/>
<rect x="1214.4" y="425.0" width="11.2" height="9.2" fill="#5200e6"/>
<rect x="1225.6" y="425.0" width="12.0" height="9.2" fill="#5000b4"/>
<rect x="1237.6" y="425.0" width="34.6" height="9.2" fill="#4b0082"/>
<rect x="1272.2" y="425.0" width="57.4" height="9.2" fill="#000"/>
<rect x="1329.6" y="425.0" width="9.4" height="9.2" fill="#0000ff"/>
<rect x="985.6" y="434.2" width="20.9" height="7.2" fill="#00a87f"/>
<rect x="1024.9" y="434.2" width="25.5" height="7.2" fill="#00a87f"/>
<rect x="1050.4" y="434.2" width="55.7" height="7.2" fill="#009000"/>
<rect x="1106.1" y="434.2" width="36.8" height="7.2" fill="#00a87f"/>
<rect x="1168.2" y="434.2" width="22.7" height="7.2" fill="#00b4ff"/>
<rect x="1190.9" y="434.2" width="12.0" height="7.2" fill="#0064ff"/>
<rect x="1202.9" y="434.2" width="11.5" height="7.2" fill="#0000ff"/>
<rect x="1214.4" y="434.2" width="11.2" height="7.2" fill="#5200e6"/>
<rect x="1225.6" y="434.2" width="25.3" height="7.2" fill="#5000b4"/>
<rect x="1250.9" y="434.2" width="10.1" height="7.2" fill="#4b0082"/>
<rect x="1261.0" y="434.2" width="45.9" height="7.2" fill="#000"/>
<rect x="1306.9" y="434.2" width="11.5" height="7.2" fill="#5000b4"/>
<rect x="1318.4" y="434.2" width="20.6" height="7.2" fill="#000"/>
<rect x="994.9" y="441.4" width="11.6" height="7.1" fill="#00a87f"/>
<rect x="1006.5" y="441.4" width="9.1" height="7.1" fill="#009000"/>
<rect x="1015.6" y="441.4" width="34.8" height="7.1" fill="#00a87f"/>
<rect x="1050.4" y="441.4" width="69.3" height="7.1" fill="#009000"/>
<rect x="1119.7" y="441.4" width="34.4" height="7.1" fill="#00a87f"/>
<rect x="1168.2" y="441.4" width="22.7" height="7.1" fill="#00b4ff"/>
<rect x="1190.9" y="441.4" width="12.0" height="7.1" fill="#0064ff"/>
<rect x="1202.9" y="441.4" width="11.5" height="7.1" fill="#0000ff"/>
<rect x="1214.4" y="441.4" width="23.2" height="7.1" fill="#5200e6"/>
<rect x="1237.6" y="441.4" width="34.6" height="7.1" fill="#4b0082"/>
<rect x="1272.2" y="441.4" width="11.5" height="7.1" fill="#000"/>
<rect x="1283.7" y="441.4" width="11.2" height="7.1" fill="#4b0082"/>
<rect x="1294.9" y="441.4" width="23.5" height="7.1" fill="#000"/>
<rect x="1318.4" y="441.4" width="11.2" height="7.1" fill="#4b0082"/>
<rect x="1329.6" y="441.4" width="9.4" height="7.1" fill="#000"/>
<rect x="985.6" y="448.5" width="30.0" height="9.0" fill="#00a87f"/>
<rect x="1015.6" y="448.5" width="9.3" height="9.0" fill="#009000"/>
<rect x="1024.9" y="448.5" width="25.5" height="9.0" fill="#00a87f"/>
<rect x="1050.4" y="448.5" width="69.3" height="9.0" fill="#009000"/>
<rect x="1119.7" y="448.5" width="34.4" height="9.0" fill="#00a87f"/>
<rect x="1177.6" y="448.5" width="13.3" height="9.0" fill="#00b4ff"/>
<rect x="1190.9" y="448.5" width="12.0" height="9.0" fill="#0064ff"/>
<rect x="1202.9" y="448.5" width="11.5" height="9.0" fill="#0000ff"/>
<rect x="1214.4" y="448.5" width="23.2" height="9.0" fill="#5200e6"/>
<rect x="1237.6" y="448.5" width="13.3" height="9.0" fill="#5000b4"/>
<rect x="1250.9" y="448.5" width="10.1" height="9.0" fill="#4b0082"/>
<rect x="1261.0" y="448.5" width="33.9" height="9.0" fill="#000"/>
<rect x="1294.9" y="448.5" width="12.0" height="9.0" fill="#4b0082"/>
<rect x="1306.9" y="448.5" width="11.5" height="9.0" fill="#000"/>
<rect x="1318.4" y="448.5" width="11.2" height="9.0" fill="#5000b4"/>
<rect x="985.6" y="457.5" width="20.9" height="7.1" fill="#009000"/>
<rect x="1006.5" y="457.5" width="9.1" height="7.1" fill="#00a87f"/>
<rect x="1015.6" y="457.5" width="34.8" height="7.1" fill="#009000"/>
<rect x="1050.4" y="457.5" width="23.2" height="7.1" fill="#00c800"/>
<rect x="1073.6" y="457.5" width="46.1" height="7.1" fill="#009000"/>
<rect x="1119.7" y="457.5" width="34.4" height="7.1" fill="#00a87f"/>
<rect x="1177.6" y="457.5" width="13.3" height="7.1" fill="#00b4ff"/>
<rect x="1190.9" y="457.5" width="12.0" height="7.1" fill="#0064ff"/>
<rect x="1202.9" y="457.5" width="11.5" height="7.1" fill="#0000ff"/>
<rect x="1214.4" y="457.5" width="23.2" height="7.1" fill="#5200e6"/>
<rect x="1237.6" y="457.5" width="13.3" height="7.1" fill="#5000b4"/>
<rect x="1250.9" y="457.5" width="32.8" height="7.1" fill="#4b0082"/>
<rect x="1283.7" y="457.5" width="45.9" height="7.1" fill="#000"/>
<rect x="1329.6" y="457.5" width="9.4" height="7.1" fill="#0064ff"/>
<rect x="985.6" y="464.6" width="9.3" height="7.5" fill="#00a87f"/>
<rect x="994.9" y="464.6" width="55.5" height="7.5" fill="#009000"/>
<rect x="1050.4" y="464.6" width="34.6" height="7.5" fill="#00c800"/>
<rect x="1085.0" y="464.6" width="57.9" height="7.5" fill="#009000"/>
<rect x="1142.9" y="464.6" width="11.2" height="7.5" fill="#00a87f"/>
<rect x="1177.6" y="464.6" width="13.3" height="7.5" fill="#00b4ff"/>
<rect x="1190.9" y="464.6" width="23.5" height="7.5" fill="#0064ff"/>
<rect x="1214.4" y="464.6" width="23.2" height="7.5" fill="#5200e6"/>
<rect x="1237.6" y="464.6" width="23.4" height="7.5" fill="#5000b4"/>
<rect x="1261.0" y="464.6" width="11.2" height="7.5" fill="#4b0082"/>
<rect x="1272.2" y="464.6" width="22.7" height="7.5" fill="#000"/>
<rect x="1294.9" y="464.6" width="12.0" height="7.5" fill="#4b0082"/>
<rect x="1306.9" y="464.6" width="11.5" height="7.5" fill="#000"/>
<rect x="1318.4" y="464.6" width="11.2" height="7.5" fill="#0000ff"/>
<rect x="1329.6" y="464.6" width="9.4" height="7.5" fill="#0064ff"/>
<rect x="985.6" y="472.1" width="9.3" height="8.5" fill="#009000"/>
<rect x="994.9" y="472.1" width="11.6" height="8.5" fill="#00a87f"/>
<rect x="1006.5" y="472.1" width="57.7" height="8.5" fill="#009000"/>
<rect x="1064.2" y="472.1" width="32.8" height="8.5" fill="#00c800"/>
<rect x="1097.0" y="472.1" width="45.9" height="8.5" fill="#009000"/>
<rect x="1142.9" y="472.1" width="25.3" height="8.5" fill="#00a87f"/>
<rect x="1177.6" y="472.1" width="25.3" height="8.5" fill="#00b4ff"/>
<rect x="1202.9" y="472.1" width="11.5" height="8.5" fill="#0064ff"/>
<rect x="1214.4" y="472.1" width="23.2" height="8.5" fill="#5200e6"/>
<rect x="1237.6" y="472.1" width="13.3" height="8.5" fill="#5000b4"/>
<rect x="1250.9" y="472.1" width="21.3" height="8.5" fill="#4b0082"/>
<rect x="1272.2" y="472.1" width="46.2" height="8.5" fill="#000"/>
<rect x="1318.4" y="472.1" width="20.6" height="8.5" fill="#4b0082"/>
<rect x="985.6" y="480.6" width="30.0" height="7.2" fill="#00a87f"/>
<rect x="1015.6" y="480.6" width="34.8" height="7.2" fill="#009000"/>
<rect x="1050.4" y="480.6" width="55.7" height="7.2" fill="#00c800"/>
<rect x="1106.1" y="480.6" width="36.8" height="7.2" fill="#009000"/>
<rect x="1142.9" y="480.6" width="25.3" height="7.2" fill="#00a87f"/>
<rect x="1177.6" y="480.6" width="25.3" height="7.2" fill="#00b4ff"/>
<rect x="1202.9" y="480.6" width="11.5" height="7.2" fill="#0064ff"/>
<rect x="1214.4" y="480.6" width="11.2" height="7.2" fill="#0000ff"/>
<rect x="1225.6" y="480.6" width="12.0" height="7.2" fill="#5200e6"/>
<rect x="1237.6" y="480.6" width="23.4" height="7.2" fill="#5000b4"/>
<rect x="1261.0" y="480.6" width="11.2" height="7.2" fill="#4b0082"/>
<rect x="1272.2" y="480.6" width="66.8" height="7.2" fill="#000"/>
<rect x="985.6" y="487.8" width="30.0" height="7.1" fill="#009000"/>
<rect x="1015.6" y="487.8" width="9.3" height="7.1" fill="#00c800"/>
<rect x="1024.9" y="487.8" width="25.5" height="7.1" fill="#009000"/>
<rect x="1050.4" y="487.8" width="69.3" height="7.1" fill="#00c800"/>
<rect x="1119.7" y="487.8" width="34.4" height="7.1" fill="#009000"/>
<rect x="1154.1" y="487.8" width="14.1" height="7.1" fill="#00a87f"/>
<rect x="1190.9" y="487.8" width="12.0" height="7.1" fill="#00b4ff"/>
<rect x="1202.9" y="487.8" width="11.5" height="7.1" fill="#0064ff"/>
<rect x="1214.4" y="487.8" width="11.2" height="7.1" fill="#0000ff"/>
<rect x="1225.6" y="487.8" width="12.0" height="7.1" fill="#5200e6"/>
<rect x="1237.6" y="487.8" width="13.3" height="7.1" fill="#5000b4"/>
<rect x="1250.9" y="487.8" width="32.8" height="7.1" fill="#4b0082"/>
<rect x="1283.7" y="487.8" width="23.2" height="7.1" fill="#000"/>
<rect x="1306.9" y="487.8" width="22.7" height="7.1" fill="#4b0082"/>
<rect x="985.6" y="494.9" width="30.0" height="9.3" fill="#009000"/>
<rect x="1015.6" y="494.9" width="104.1" height="9.3" fill="#00c800"/>
<rect x="1119.7" y="494.9" width="34.4" height="9.3" fill="#009000"/>
<rect x="1154.1" y="494.9" width="23.5" height="9.3" fill="#00a87f"/>
<rect x="1190.9" y="494.9" width="12.0" height="9.3" fill="#00b4ff"/>
<rect x="1202.9" y="494.9" width="11.5" height="9.3" fill="#0064ff"/>
<rect x="1214.4" y="494.9" width="23.2" height="9.3" fill="#0000ff"/>
<rect x="1237.6" y="494.9" width="13.3" height="9.3" fill="#5200e6"/>
<rect x="1250.9" y="494.9" width="10.1" height="9.3" fill="#5000b4"/>
<rect x="1261.0" y="494.9" width="22.7" height="9.3" fill="#4b0082"/>
<rect x="1283.7" y="494.9" width="45.9" height="9.3" fill="#000"/>
<rect x="1329.6" y="494.9" width="9.4" height="9.3" fill="#5200e6"/>
<rect x="985.6" y="504.2" width="9.3" height="6.5" fill="#009000"/>
<rect x="994.9" y="504.2" width="69.3" height="6.5" fill="#00c800"/>
<rect x="1064.2" y="504.2" width="20.8" height="6.5" fill="#00ff00"/>
<rect x="1085.0" y="504.2" width="44.0" height="6.5" fill="#00c800"/>
<rect x="1129.0" y="504.2" width="25.1" height="6.5" fill="#009000"/>
<rect x="1154.1" y="504.2" width="23.5" height="6.5" fill="#00a87f"/>
<rect x="1190.9" y="504.2" width="12.0" height="6.5" fill="#00b4ff"/>
<rect x="1202.9" y="504.2" width="11.5" height="6.5" fill="#0064ff"/>
<rect x="1214.4" y="504.2" width="23.2" height="6.5" fill="#0000ff"/>
<rect x="1237.6" y="504.2" width="13.3" height="6.5" fill="#5200e6"/>
<rect x="1250.9" y="504.2" width="10.1" height="6.5" fill="#5000b4"/>
<rect x="1261.0" y="504.2" width="11.2" height="6.5" fill="#4b0082"/>
<rect x="1272.2" y="504.2" width="11.5" height="6.5" fill="#5000b4"/>
<rect x="1283.7" y="504.2" width="11.2" height="6.5" fill="#000"/>
<rect x="1294.9" y="504.2" width="12.0" height="6.5" fill="#4b0082"/>
<rect x="1306.9" y="504.2" width="11.5" height="6.5" fill="#5000b4"/>
<rect x="1318.4" y="504.2" width="20.6" height="6.5" fill="#000"/>
<rect x="985.6" y="510.7" width="20.9" height="7.1" fill="#009000"/>
<rect x="1006.5" y="510.7" width="57.7" height="7.1" fill="#00c800"/>
<rect x="1064.2" y="510.7" width="32.8" height="7.1" fill="#00ff00"/>
<rect x="1097.0" y="510.7" width="45.9" height="7.1" fill="#00c800"/>
<rect x="1142.9" y="510.7" width="25.3" height="7.1" fill="#009000"/>
<rect x="1168.2" y="510.7" width="9.4" height="7.1" fill="#00a87f"/>
<rect x="1202.9" y="510.7" width="11.5" height="7.1" fill="#00b4ff"/>
<rect x="1214.4" y="510.7" width="11.2" height="7.1" fill="#0064ff"/>
<rect x="1225.6" y="510.7" width="12.0" height="7.1" fill="#0000ff"/>
<rect x="1237.6" y="510.7" width="13.3" height="7.1" fill="#5200e6"/>
<rect x="1250.9" y="510.7" width="21.3" height="7.1" fill="#5000b4"/>
<rect x="1272.2" y="510.7" width="22.7" height="7.1" fill="#4b0082"/>
<rect x="1294.9" y="510.7" width="12.0" height="7.1" fill="#000"/>
<rect x="1306.9" y="510.7" width="11.5" height="7.1" fill="#5000b4"/>
<rect x="1318.4" y="510.7" width="20.6" height="7.1" fill="#000"/>
<rect x="985.6" y="517.8" width="9.3" height="9.3" fill="#009000"/>
<rect x="994.9" y="517.8" width="69.3" height="9.3" fill="#00c800"/>
<rect x="1064.2" y="517.8" width="41.9" height="9.3" fill="#00ff00"/>
<rect x="1106.1" y="517.8" width="36.8" height="9.3" fill="#00c800"/>
<rect x="1142.9" y="517.8" width="25.3" height="9.3" fill="#009000"/>
<rect x="1168.2" y="517.8" width="22.7" height="9.3" fill="#00a87f"/>
<rect x="1202.9" y="517.8" width="11.5" height="9.3" fill="#00b4ff"/>
<rect x="1214.4" y="517.8" width="11.2" height="9.3" fill="#0064ff"/>
<rect x="1225.6" y="517.8" width="12.0" height="9.3" fill="#0000ff"/>
<rect x="1237.6" y="517.8" width="13.3" height="9.3" fill="#5200e6"/>
<rect x="1250.9" y="517.8" width="21.3" height="9.3" fill="#5000b4"/>
<rect x="1272.2" y="517.8" width="34.7" height="9.3" fill="#4b0082"/>
<rect x="1306.9" y="517.8" width="11.5" height="9.3" fill="#5000b4"/>
<rect x="1318.4" y="517.8" width="11.2" height="9.3" fill="#5200e6"/>
<rect x="1329.6" y="517.8" width="9.4" height="9.3" fill="#4b0082"/>
<rect x="985.6" y="527.1" width="64.8" height="7.2" fill="#00c800"/>
<rect x="1050.4" y="527.1" width="69.3" height="7.2" fill="#00ff00"/>
<rect x="1119.7" y="527.1" width="34.4" height="7.2" fill="#00c800"/>
<rect x="1154.1" y="527.1" width="14.1" height="7.2" fill="#009000"/>
<rect x="1168.2" y="527.1" width="22.7" height="7.2" fill="#00a87f"/>
<rect x="1202.9" y="527.1" width="11.5" height="7.2" fill="#00b4ff"/>
<rect x="1214.4" y="527.1" width="23.2" height="7.2" fill="#0064ff"/>
<rect x="1237.6" y="527.1" width="23.4" height="7.2" fill="#5200e6"/>
<rect x="1261.0" y="527.1" width="11.2" height="7.2" fill="#5000b4"/>
<rect x="1272.2" y="527.1" width="11.5" height="7.2" fill="#4b0082"/>
<rect x="1283.7" y="527.1" width="34.7" height="7.2" fill="#000"/>
<rect x="1318.4" y="527.1" width="11.2" height="7.2" fill="#4b0082"/>
<rect x="1329.6" y="527.1" width="9.4" height="7.2" fill="#5000b4"/>
<rect x="985.6" y="534.3" width="20.9" height="6.4" fill="#00c800"/>
<rect x="1006.5" y="534.3" width="122.5" height="6.4" fill="#00ff00"/>
<rect x="1129.0" y="534.3" width="25.1" height="6.4" fill="#00c800"/>
<rect x="1154.1" y="534.3" width="23.5" height="6.4" fill="#009000"/>
<rect x="1177.6" y="534.3" width="13.3" height="6.4" fill="#00a87f"/>
<rect x="1202.9" y="534.3" width="11.5" height="6.4" fill="#00b4ff"/>
<rect x="1214.4" y="534.3" width="23.2" height="6.4" fill="#0064ff"/>
<rect x="1237.6" y="534.3" width="13.3" height="6.4" fill="#0000ff"/>
<rect x="1250.9" y="534.3" width="10.1" height="6.4" fill="#5200e6"/>
<rect x="1261.0" y="534.3" width="11.2" height="6.4" fill="#5000b4"/>
<rect x="1272.2" y="534.3" width="22.7" height="6.4" fill="#4b0082"/>
<rect x="1294.9" y="534.3" width="12.0" height="6.4" fill="#000"/>
<rect x="1306.9" y="534.3" width="11.5" height="6.4" fill="#4b0082"/>
<rect x="1318.4" y="534.3" width="11.2" height="6.4" fill="#000"/>
<rect x="1329.6" y="534.3" width="9.4" height="6.4" fill="#0000ff"/>
<rect x="985.6" y="540.7" width="9.3" height="9.3" fill="#00c800"/>
<rect x="994.9" y="540.7" width="69.3" height="9.3" fill="#00ff00"/>
<rect x="1064.2" y="540.7" width="20.8" height="9.3" fill="#aae600"/>
<rect x="1085.0" y="540.7" width="44.0" height="9.3" fill="#00ff00"/>
<rect x="1129.0" y="540.7" width="25.1" height="9.3" fill="#00c800"/>
<rect x="1154.1" y="540.7" width="23.5" height="9.3" fill="#009000"/>
<rect x="1177.6" y="540.7" width="25.3" height="9.3" fill="#00a87f"/>
<rect x="1214.4" y="540.7" width="23.2" height="9.3" fill="#0064ff"/>
<rect x="1237.6" y="540.7" width="13.3" height="9.3" fill="#0000ff"/>
<rect x="1250.9" y="540.7" width="10.1" height="9.3" fill="#5200e6"/>
<rect x="1261.0" y="540.7" width="33.9" height="9.3" fill="#5000b4"/>
<rect x="1294.9" y="540.7" width="23.5" height="9.3" fill="#000"/>
<rect x="1318.4" y="540.7" width="11.2" height="9.3" fill="#4b0082"/>
<rect x="1329.6" y="540.7" width="9.4" height="9.3" fill="#0000ff"/>
<rect x="985.6" y="550.0" width="64.8" height="6.8" fill="#00ff00"/>
<rect x="1050.4" y="550.0" width="55.7" height="6.8" fill="#aae600"/>
<rect x="1106.1" y="550.0" width="36.8" height="6.8" fill="#00ff00"/>
<rect x="1142.9" y="550.0" width="25.3" height="6.8" fill="#00c800"/>
<rect x="1168.2" y="550.0" width="22.7" height="6.8" fill="#009000"/>
<rect x="1190.9" y="550.0" width="12.0" height="6.8" fill="#00a87f"/>
<rect x="1214.4" y="550.0" width="11.2" height="6.8" fill="#00b4ff"/>
<rect x="1225.6" y="550.0" width="12.0" height="6.8" fill="#0064ff"/>
<rect x="1237.6" y="550.0" width="13.3" height="6.8" fill="#0000ff"/>
<rect x="1250.9" y="550.0" width="21.3" height="6.8" fill="#5200e6"/>
<rect x="1272.2" y="550.0" width="22.7" height="6.8" fill="#5000b4"/>
<rect x="1294.9" y="550.0" width="12.0" height="6.8" fill="#000"/>
<rect x="1306.9" y="550.0" width="11.5" height="6.8" fill="#4b0082"/>
<rect x="1318.4" y="550.0" width="11.2" height="6.8" fill="#000"/>
<rect x="1329.6" y="550.0" width="9.4" height="6.8" fill="#0064ff"/>
<rect x="985.6" y="556.8" width="64.8" height="6.7" fill="#00ff00"/>
<rect x="1050.4" y="556.8" width="69.3" height="6.7" fill="#aae600"/>
<rect x="1119.7" y="556.8" width="34.4" height="6.7" fill="#00ff00"/>
<rect x="1154.1" y="556.8" width="23.5" height="6.7" fill="#00c800"/>
<rect x="1177.6" y="556.8" width="13.3" height="6.7" fill="#009000"/>
<rect x="1190.9" y="556.8" width="12.0" height="6.7" fill="#00a87f"/>
<rect x="1214.4" y="556.8" width="11.2" height="6.7" fill="#00b4ff"/>
<rect x="1225.6" y="556.8" width="12.0" height="6.7" fill="#0064ff"/>
<rect x="1237.6" y="556.8" width="23.4" height="6.7" fill="#0000ff"/>
<rect x="1261.0" y="556.8" width="11.2" height="6.7" fill="#5200e6"/>
<rect x="1272.2" y="556.8" width="22.7" height="6.7" fill="#5000b4"/>
<rect x="1294.9" y="556.8" width="23.5" height="6.7" fill="#4b0082"/>
<rect x="1318.4" y="556.8" width="11.2" height="6.7" fill="#000"/>
<rect x="1329.6" y="556.8" width="9.4" height="6.7" fill="#4b0082"/>
<rect x="985.6" y="563.5" width="20.9" height="10.0" fill="#00ff00"/>
<rect x="1006.5" y="563.5" width="122.5" height="10.0" fill="#aae600"/>
<rect x="1129.0" y="563.5" width="25.1" height="10.0" fill="#00ff00"/>
<rect x="1154.1" y="563.5" width="23.5" height="10.0" fill="#00c800"/>
<rect x="1177.6" y="563.5" width="13.3" height="10.0" fill="#009000"/>
<rect x="1190.9" y="563.5" width="23.5" height="10.0" fill="#00a87f"/>
<rect x="1214.4" y="563.5" width="23.2" height="10.0" fill="#00b4ff"/>
<rect x="1237.6" y="563.5" width="13.3" height="10.0" fill="#0064ff"/>
<rect x="1250.9" y="563.5" width="10.1" height="10.0" fill="#0000ff"/>
<rect x="1261.0" y="563.5" width="22.7" height="10.0" fill="#5200e6"/>
<rect x="1283.7" y="563.5" width="11.2" height="10.0" fill="#5000b4"/>
<rect x="1294.9" y="563.5" width="23.5" height="10.0" fill="#4b0082"/>
<rect x="1318.4" y="563.5" width="11.2" height="10.0" fill="#5000b4"/>
<rect x="1329.6" y="563.5" width="9.4" height="10.0" fill="#0064ff"/>
<rect x="985.6" y="573.5" width="64.8" height="6.4" fill="#aae600"/>
<rect x="1050.4" y="573.5" width="34.6" height="6.4" fill="#ffff00"/>
<rect x="1085.0" y="573.5" width="57.9" height="6.4" fill="#aae600"/>
<rect x="1142.9" y="573.5" width="25.3" height="6.4" fill="#00ff00"/>
<rect x="1168.2" y="573.5" width="9.4" height="6.4" fill="#00c800"/>
<rect x="1177.6" y="573.5" width="25.3" height="6.4" fill="#009000"/>
<rect x="1202.9" y="573.5" width="11.5" height="6.4" fill="#00a87f"/>
<rect x="1214.4" y="573.5" width="23.2" height="6.4" fill="#00b4ff"/>
<rect x="1237.6" y="573.5" width="13.3" height="6.4" fill="#0064ff"/>
<rect x="1250.9" y="573.5" width="21.3" height="6.4" fill="#0000ff"/>
<rect x="1272.2" y="573.5" width="22.7" height="6.4" fill="#5200e6"/>
<rect x="1294.9" y="573.5" width="12.0" height="6.4" fill="#5000b4"/>
<rect x="1306.9" y="573.5" width="11.5" height="6.4" fill="#5200e6"/>
<rect x="1318.4" y="573.5" width="11.2" height="6.4" fill="#5000b4"/>
<rect x="985.6" y="579.9" width="64.8" height="7.6" fill="#aae600"/>
<rect x="1050.4" y="579.9" width="46.6" height="7.6" fill="#ffff00"/>
<rect x="1097.0" y="579.9" width="57.1" height="7.6" fill="#aae600"/>
<rect x="1154.1" y="579.9" width="14.1" height="7.6" fill="#00ff00"/>
<rect x="1168.2" y="579.9" width="22.7" height="7.6" fill="#00c800"/>
<rect x="1190.9" y="579.9" width="12.0" height="7.6" fill="#009000"/>
<rect x="1202.9" y="579.9" width="11.5" height="7.6" fill="#00a87f"/>
<rect x="1225.6" y="579.9" width="12.0" height="7.6" fill="#00b4ff"/>
<rect x="1237.6" y="579.9" width="23.4" height="7.6" fill="#0064ff"/>
<rect x="1261.0" y="579.9" width="11.2" height="7.6" fill="#0000ff"/>
<rect x="1272.2" y="579.9" width="22.7" height="7.6" fill="#5200e6"/>
<rect x="1294.9" y="579.9" width="12.0" height="7.6" fill="#5000b4"/>
<rect x="1306.9" y="579.9" width="11.5" height="7.6" fill="#5200e6"/>
<rect x="1318.4" y="579.9" width="11.2" height="7.6" fill="#5000b4"/>
<rect x="985.6" y="587.5" width="30.0" height="8.9" fill="#aae600"/>
<rect x="1015.6" y="587.5" width="104.1" height="8.9" fill="#ffff00"/>
<rect x="1119.7" y="587.5" width="34.4" height="8.9" fill="#aae600"/>
<rect x="1154.1" y="587.5" width="23.5" height="8.9" fill="#00ff00"/>
<rect x="1177.6" y="587.5" width="13.3" height="8.9" fill="#00c800"/>
<rect x="1190.9" y="587.5" width="12.0" height="8.9" fill="#009000"/>
<rect x="1202.9" y="587.5" width="11.5" height="8.9" fill="#00a87f"/>
<rect x="1237.6" y="587.5" width="13.3" height="8.9" fill="#00b4ff"/>
<rect x="1250.9" y="587.5" width="10.1" height="8.9" fill="#0064ff"/>
<rect x="1261.0" y="587.5" width="22.7" height="8.9" fill="#0000ff"/>
<rect x="1283.7" y="587.5" width="11.2" height="8.9" fill="#5200e6"/>
<rect x="1294.9" y="587.5" width="34.7" height="8.9" fill="#5000b4"/>
<rect x="1329.6" y="587.5" width="9.4" height="8.9" fill="#0000ff"/>
<rect x="985.6" y="596.4" width="20.9" height="7.1" fill="#aae600"/>
<rect x="1006.5" y="596.4" width="57.7" height="7.1" fill="#ffff00"/>
<rect x="1064.2" y="596.4" width="20.8" height="7.1" fill="#ffbe00"/>
<rect x="1085.0" y="596.4" width="44.0" height="7.1" fill="#ffff00"/>
<rect x="1129.0" y="596.4" width="39.2" height="7.1" fill="#aae600"/>
<rect x="1168.2" y="596.4" width="9.4" height="7.1" fill="#00ff00"/>
<rect x="1177.6" y="596.4" width="25.3" height="7.1" fill="#00c800"/>
<rect x="1202.9" y="596.4" width="11.5" height="7.1" fill="#009000"/>
<rect x="1214.4" y="596.4" width="11.2" height="7.1" fill="#00a87f"/>
<rect x="1237.6" y="596.4" width="13.3" height="7.1" fill="#00b4ff"/>
<rect x="1250.9" y="596.4" width="21.3" height="7.1" fill="#0064ff"/>
<rect x="1272.2" y="596.4" width="22.7" height="7.1" fill="#0000ff"/>
<rect x="1294.9" y="596.4" width="23.5" height="7.1" fill="#5200e6"/>
<rect x="1318.4" y="596.4" width="11.2" height="7.1" fill="#5000b4"/>
<rect x="1329.6" y="596.4" width="9.4" height="7.1" fill="#00b4ff"/>
<rect x="985.6" y="603.5" width="9.3" height="6.4" fill="#aae600"/>
<rect x="994.9" y="603.5" width="55.5" height="6.4" fill="#ffff00"/>
<rect x="1050.4" y="603.5" width="55.7" height="6.4" fill="#ffbe00"/>
<rect x="1106.1" y="603.5" width="36.8" height="6.4" fill="#ffff00"/>
<rect x="1142.9" y="603.5" width="25.3" height="6.4" fill="#aae600"/>
<rect x="1168.2" y="603.5" width="22.7" height="6.4" fill="#00ff00"/>
<rect x="1190.9" y="603.5" width="12.0" height="6.4" fill="#00c800"/>
<rect x="1202.9" y="603.5" width="11.5" height="6.4" fill="#009000"/>
<rect x="1214.4" y="603.5" width="11.2" height="6.4" fill="#00a87f"/>
<rect x="1237.6" y="603.5" width="23.4" height="6.4" fill="#00b4ff"/>
<rect x="1261.0" y="603.5" width="11.2" height="6.4" fill="#0064ff"/>
<rect x="1272.2" y="603.5" width="22.7" height="6.4" fill="#0000ff"/>
<rect x="1294.9" y="603.5" width="12.0" height="6.4" fill="#5200e6"/>
<rect x="1306.9" y="603.5" width="22.7" height="6.4" fill="#5000b4"/>
<rect x="985.6" y="609.9" width="30.0" height="9.7" fill="#ffff00"/>
<rect x="1015.6" y="609.9" width="104.1" height="9.7" fill="#ffbe00"/>
<rect x="1119.7" y="609.9" width="34.4" height="9.7" fill="#ffff00"/>
<rect x="1154.1" y="609.9" width="14.1" height="9.7" fill="#aae600"/>
<rect x="1168.2" y="609.9" width="22.7" height="9.7" fill="#00ff00"/>
<rect x="1190.9" y="609.9" width="12.0" height="9.7" fill="#00c800"/>
<rect x="1202.9" y="609.9" width="11.5" height="9.7" fill="#009000"/>
<rect x="1214.4" y="609.9" width="23.2" height="9.7" fill="#00a87f"/>
<rect x="1250.9" y="609.9" width="10.1" height="9.7" fill="#00b4ff"/>
<rect x="1261.0" y="609.9" width="22.7" height="9.7" fill="#0064ff"/>
<rect x="1283.7" y="609.9" width="23.2" height="9.7" fill="#0000ff"/>
<rect x="1306.9" y="609.9" width="22.7" height="9.7" fill="#5200e6"/>
<rect x="1329.6" y="609.9" width="9.4" height="9.7" fill="#00b4ff"/>
<rect x="985.6" y="619.6" width="9.3" height="6.9" fill="#ffff00"/>
<rect x="994.9" y="619.6" width="69.3" height="6.9" fill="#ffbe00"/>
<rect x="1064.2" y="619.6" width="20.8" height="6.9" fill="#ff8000"/>
<rect x="1085.0" y="619.6" width="44.0" height="6.9" fill="#ffbe00"/>
<rect x="1129.0" y="619.6" width="39.2" height="6.9" fill="#ffff00"/>
<rect x="1168.2" y="619.6" width="9.4" height="6.9" fill="#aae600"/>
<rect x="1177.6" y="619.6" width="25.3" height="6.9" fill="#00ff00"/>
<rect x="1202.9" y="619.6" width="11.5" height="6.9" fill="#00c800"/>
<rect x="1214.4" y="619.6" width="11.2" height="6.9" fill="#009000"/>
<rect x="1225.6" y="619.6" width="12.0" height="6.9" fill="#00a87f"/>
<rect x="1261.0" y="619.6" width="11.2" height="6.9" fill="#00b4ff"/>
<rect x="1272.2" y="619.6" width="11.5" height="6.9" fill="#0064ff"/>
<rect x="1283.7" y="619.6" width="23.2" height="6.9" fill="#0000ff"/>
<rect x="1306.9" y="619.6" width="11.5" height="6.9" fill="#5200e6"/>
<rect x="1318.4" y="619.6" width="11.2" height="6.9" fill="#00b4ff"/>
<rect x="985.6" y="626.5" width="64.8" height="7.0" fill="#ffbe00"/>
<rect x="1050.4" y="626.5" width="55.7" height="7.0" fill="#ff8000"/>
<rect x="1106.1" y="626.5" width="36.8" height="7.0" fill="#ffbe00"/>
<rect x="1142.9" y="626.5" width="25.3" height="7.0" fill="#ffff00"/>
<rect x="1168.2" y="626.5" width="22.7" height="7.0" fill="#aae600"/>
<rect x="1190.9" y="626.5" width="12.0" height="7.0" fill="#00ff00"/>
<rect x="1202.9" y="626.5" width="11.5" height="7.0" fill="#00c800"/>
<rect x="1214.4" y="626.5" width="23.2" height="7.0" fill="#009000"/>
<rect x="1237.6" y="626.5" width="13.3" height="7.0" fill="#00a87f"/>
<rect x="1261.0" y="626.5" width="11.2" height="7.0" fill="#00b4ff"/>
<rect x="1272.2" y="626.5" width="11.5" height="7.0" fill="#0064ff"/>
<rect x="1283.7" y="626.5" width="11.2" height="7.0" fill="#0000ff"/>
<rect x="1294.9" y="626.5" width="34.7" height="7.0" fill="#0064ff"/>
<rect x="1329.6" y="626.5" width="9.4" height="7.0" fill="#009000"/>
<rect x="985.6" y="633.5" width="20.9" height="9.2" fill="#ffbe00"/>
<rect x="1006.5" y="633.5" width="9.1" height="9.2" fill="#ff8000"/>
<rect x="1015.6" y="633.5" width="9.3" height="9.2" fill="#ffbe00"/>
<rect x="1024.9" y="633.5" width="94.8" height="9.2" fill="#ff8000"/>
<rect x="1119.7" y="633.5" width="34.4" height="9.2" fill="#ffbe00"/>
<rect x="1154.1" y="633.5" width="23.5" height="9.2" fill="#ffff00"/>
<rect x="1177.6" y="633.5" width="13.3" height="9.2" fill="#aae600"/>
<rect x="1190.9" y="633.5" width="23.5" height="9.2" fill="#00ff00"/>
<rect x="1214.4" y="633.5" width="23.2" height="9.2" fill="#009000"/>
<rect x="1237.6" y="633.5" width="13.3" height="9.2" fill="#00a87f"/>
<rect x="1261.0" y="633.5" width="33.9" height="9.2" fill="#00b4ff"/>
<rect x="1294.9" y="633.5" width="23.5" height="9.2" fill="#0064ff"/>
<rect x="1318.4" y="633.5" width="11.2" height="9.2" fill="#00a87f"/>
<rect x="1329.6" y="633.5" width="9.4" height="9.2" fill="#00c800"/>
<rect x="985.6" y="642.7" width="78.6" height="6.8" fill="#ff8000"/>
<rect x="1064.2" y="642.7" width="20.8" height="6.8" fill="#ff0000"/>
<rect x="1085.0" y="642.7" width="57.9" height="6.8" fill="#ff8000"/>
<rect x="1142.9" y="642.7" width="25.3" height="6.8" fill="#ffbe00"/>
<rect x="1168.2" y="642.7" width="22.7" height="6.8" fill="#ffff00"/>
<rect x="1190.9" y="642.7" width="12.0" height="6.8" fill="#aae600"/>
<rect x="1202.9" y="642.7" width="11.5" height="6.8" fill="#00ff00"/>
<rect x="1214.4" y="642.7" width="11.2" height="6.8" fill="#00c800"/>
<rect x="1225.6" y="642.7" width="25.3" height="6.8" fill="#009000"/>
<rect x="1250.9" y="642.7" width="10.1" height="6.8" fill="#00a87f"/>
<rect x="1283.7" y="642.7" width="11.2" height="6.8" fill="#00b4ff"/>
<rect x="1318.4" y="642.7" width="11.2" height="6.8" fill="#009000"/>
<rect x="1329.6" y="642.7" width="9.4" height="6.8" fill="#00c800"/>
<rect x="985.6" y="649.5" width="64.8" height="7.0" fill="#ff8000"/>
<rect x="1050.4" y="649.5" width="55.7" height="7.0" fill="#ff0000"/>
<rect x="1106.1" y="649.5" width="36.8" height="7.0" fill="#ff8000"/>
<rect x="1142.9" y="649.5" width="25.3" height="7.0" fill="#ffbe00"/>
<rect x="1168.2" y="649.5" width="22.7" height="7.0" fill="#ffff00"/>
<rect x="1190.9" y="649.5" width="12.0" height="7.0" fill="#aae600"/>
<rect x="1202.9" y="649.5" width="11.5" height="7.0" fill="#00ff00"/>
<rect x="1214.4" y="649.5" width="23.2" height="7.0" fill="#00c800"/>
<rect x="1237.6" y="649.5" width="13.3" height="7.0" fill="#009000"/>
<rect x="1250.9" y="649.5" width="10.1" height="7.0" fill="#00a87f"/>
<rect x="1294.9" y="649.5" width="12.0" height="7.0" fill="#00a87f"/>
<rect x="1306.9" y="649.5" width="11.5" height="7.0" fill="#009000"/>
<rect x="1318.4" y="649.5" width="20.6" height="7.0" fill="#00c800"/>
<rect x="985.6" y="656.5" width="20.9" height="9.5" fill="#ff8000"/>
<rect x="1006.5" y="656.5" width="122.5" height="9.5" fill="#ff0000"/>
<rect x="1129.0" y="656.5" width="25.1" height="9.5" fill="#ff8000"/>
<rect x="1154.1" y="656.5" width="14.1" height="9.5" fill="#ffbe00"/>
<rect x="1168.2" y="656.5" width="34.7" height="9.5" fill="#ffff00"/>
<rect x="1202.9" y="656.5" width="11.5" height="9.5" fill="#aae600"/>
<rect x="1214.4" y="656.5" width="11.2" height="9.5" fill="#00ff00"/>
<rect x="1225.6" y="656.5" width="12.0" height="9.5" fill="#00c800"/>
<rect x="1237.6" y="656.5" width="23.4" height="9.5" fill="#009000"/>
<rect x="1261.0" y="656.5" width="33.9" height="9.5" fill="#00a87f"/>
<rect x="1294.9" y="656.5" width="12.0" height="9.5" fill="#009000"/>
<rect x="1306.9" y="656.5" width="22.7" height="9.5" fill="#00c800"/>
<rect x="1329.6" y="656.5" width="9.4" height="9.5" fill="#00ff00"/>
<rect x="985.6" y="666.0" width="9.3" height="6.8" fill="#ff8000"/>
<rect x="994.9" y="666.0" width="78.7" height="6.8" fill="#ff0000"/>
<rect x="1073.6" y="666.0" width="11.4" height="6.8" fill="#fff"/>
<rect x="1085.0" y="666.0" width="44.0" height="6.8" fill="#ff0000"/>
<rect x="1129.0" y="666.0" width="39.2" height="6.8" fill="#ff8000"/>
<rect x="1168.2" y="666.0" width="22.7" height="6.8" fill="#ffbe00"/>
<rect x="1190.9" y="666.0" width="12.0" height="6.8" fill="#ffff00"/>
<rect x="1202.9" y="666.0" width="11.5" height="6.8" fill="#aae600"/>
<rect x="1214.4" y="666.0" width="23.2" height="6.8" fill="#00ff00"/>
<rect x="1237.6" y="666.0" width="13.3" height="6.8" fill="#00c800"/>
<rect x="1250.9" y="666.0" width="21.3" height="6.8" fill="#009000"/>
<rect x="1272.2" y="666.0" width="11.5" height="6.8" fill="#00a87f"/>
<rect x="1283.7" y="666.0" width="11.2" height="6.8" fill="#009000"/>
<rect x="1294.9" y="666.0" width="34.7" height="6.8" fill="#00c800"/>
<rect x="1329.6" y="666.0" width="9.4" height="6.8" fill="#00ff00"/>
<rect x="985.6" y="672.8" width="9.3" height="8.7" fill="#ff0000"/>
<rect x="994.9" y="672.8" width="11.6" height="8.7" fill="#ff8000"/>
<rect x="1006.5" y="672.8" width="18.4" height="8.7" fill="#ff0000"/>
<rect x="1024.9" y="672.8" width="25.5" height="8.7" fill="#fff"/>
<rect x="1050.4" y="672.8" width="13.8" height="8.7" fill="#ff0000"/>
<rect x="1064.2" y="672.8" width="55.5" height="8.7" fill="#fff"/>
<rect x="1119.7" y="672.8" width="34.4" height="8.7" fill="#ff0000"/>
<rect x="1154.1" y="672.8" width="14.1" height="8.7" fill="#ff8000"/>
<rect x="1168.2" y="672.8" width="22.7" height="8.7" fill="#ffbe00"/>
<rect x="1190.9" y="672.8" width="23.5" height="8.7" fill="#ffff00"/>
<rect x="1214.4" y="672.8" width="11.2" height="8.7" fill="#aae600"/>
<rect x="1225.6" y="672.8" width="12.0" height="8.7" fill="#00ff00"/>
<rect x="1237.6" y="672.8" width="13.3" height="8.7" fill="#00c800"/>
<rect x="1250.9" y="672.8" width="10.1" height="8.7" fill="#009000"/>
<rect x="1261.0" y="672.8" width="11.2" height="8.7" fill="#00c800"/>
<rect x="1272.2" y="672.8" width="11.5" height="8.7" fill="#009000"/>
<rect x="1283.7" y="672.8" width="34.7" height="8.7" fill="#00c800"/>
<rect x="1318.4" y="672.8" width="20.6" height="8.7" fill="#00ff00"/>
</g>
<rect x="266.8" y="580.1" width="9" height="6.8" fill="#fff"/>
<line x1="268.5" y1="584.6" x2="203" y2="646.6" stroke="#000" stroke-width="4.2"/>
<path d="M185.7 659.7 Q194.2 640.4 199.3 619.6 L209.7 640.3 L226.5 649.5 Q205.1 648.4 185.7 659.7 Z" fill="#000"/>
<text x="1.5" y="27.2" text-anchor="start" font-weight="bold" style="font-size:33.5px">A</text>
<text x="506.5" y="26.8" text-anchor="start" font-weight="bold" style="font-size:33.5px">B</text>
<text x="934.8" y="26.8" text-anchor="start" font-weight="bold" style="font-size:33.5px">C</text>
<text x="111.5" y="31.049999999999997" text-anchor="end" font-weight="normal" >800</text>
<text x="111.5" y="148.6" text-anchor="end" font-weight="normal" >750</text>
<text x="111.5" y="263.59999999999997" text-anchor="end" font-weight="normal" >700</text>
<text x="111.5" y="381.0" text-anchor="end" font-weight="normal" >650</text>
<text x="111.5" y="498.59999999999997" text-anchor="end" font-weight="normal" >600</text>
<text x="111.5" y="612.8" text-anchor="end" font-weight="normal" >550</text>
<text x="111.5" y="688.9" text-anchor="end" font-weight="normal" >520</text>
<rect x="119.00" y="19.40" width="13.60" height="4.40" fill="#000"/>
<rect x="119.00" y="136.30" width="13.60" height="4.40" fill="#000"/>
<rect x="119.00" y="251.90" width="13.60" height="4.40" fill="#000"/>
<rect x="119.00" y="369.40" width="13.60" height="4.40" fill="#000"/>
<rect x="119.00" y="485.30" width="13.60" height="4.40" fill="#000"/>
<rect x="119.00" y="602.40" width="13.60" height="4.40" fill="#000"/>
<rect x="119.00" y="680.00" width="13.60" height="4.40" fill="#000"/>
<rect x="547.40" y="19.40" width="11.60" height="4.40" fill="#000"/>
<rect x="547.40" y="136.30" width="11.60" height="4.40" fill="#000"/>
<rect x="547.40" y="251.90" width="11.60" height="4.40" fill="#000"/>
<rect x="547.40" y="369.40" width="11.60" height="4.40" fill="#000"/>
<rect x="547.40" y="485.30" width="11.60" height="4.40" fill="#000"/>
<rect x="547.40" y="602.40" width="11.60" height="4.40" fill="#000"/>
<rect x="547.40" y="680.00" width="11.60" height="4.40" fill="#000"/>
<rect x="974.80" y="19.40" width="10.80" height="4.40" fill="#000"/>
<rect x="974.80" y="136.30" width="10.80" height="4.40" fill="#000"/>
<rect x="974.80" y="251.90" width="10.80" height="4.40" fill="#000"/>
<rect x="974.80" y="369.40" width="10.80" height="4.40" fill="#000"/>
<rect x="974.80" y="485.30" width="10.80" height="4.40" fill="#000"/>
<rect x="974.80" y="602.40" width="10.80" height="4.40" fill="#000"/>
<rect x="974.80" y="680.00" width="10.80" height="4.40" fill="#000"/>
<rect x="133.30" y="681.50" width="4.40" height="12.50" fill="#000"/>
<rect x="224.90" y="681.50" width="4.40" height="12.50" fill="#000"/>
<rect x="340.50" y="681.50" width="4.40" height="12.50" fill="#000"/>
<rect x="458.10" y="681.50" width="4.40" height="12.50" fill="#000"/>
<rect x="557.30" y="681.50" width="4.40" height="12.50" fill="#000"/>
<rect x="648.90" y="681.50" width="4.40" height="12.50" fill="#000"/>
<rect x="764.50" y="681.50" width="4.40" height="12.50" fill="#000"/>
<rect x="882.10" y="681.50" width="4.40" height="12.50" fill="#000"/>
<rect x="985.60" y="681.50" width="4.40" height="12.50" fill="#000"/>
<rect x="1077.20" y="681.50" width="4.40" height="12.50" fill="#000"/>
<rect x="1192.80" y="681.50" width="4.40" height="12.50" fill="#000"/>
<rect x="1310.40" y="681.50" width="4.40" height="12.50" fill="#000"/>
<text x="137.15" y="731.5" text-anchor="middle" font-weight="normal" >360</text>
<text x="229.1" y="731.5" text-anchor="middle" font-weight="normal" >400</text>
<text x="347.3" y="731.5" text-anchor="middle" font-weight="normal" >450</text>
<text x="466.2" y="731.5" text-anchor="middle" font-weight="normal" >500</text>
<text x="561.15" y="731.5" text-anchor="middle" font-weight="normal" >360</text>
<text x="653.1" y="731.5" text-anchor="middle" font-weight="normal" >400</text>
<text x="771.3" y="731.5" text-anchor="middle" font-weight="normal" >450</text>
<text x="890.2" y="731.5" text-anchor="middle" font-weight="normal" >500</text>
<text x="989.45" y="731.5" text-anchor="middle" font-weight="normal" >360</text>
<text x="1081.4" y="731.5" text-anchor="middle" font-weight="normal" >400</text>
<text x="1199.6" y="731.5" text-anchor="middle" font-weight="normal" >450</text>
<text x="1318.5" y="731.5" text-anchor="middle" font-weight="normal" >500</text>
<text x="734.5" y="792.2" text-anchor="middle" font-weight="normal" >Excitation Wavelength [nm]</text>
<text x="0" y="0" text-anchor="middle" style="font-size:34.6px" transform="translate(27.8 351.5) rotate(-90)">Emission Wavelength [nm]</text>
<rect x="132.50" y="831.90" width="21.50" height="22.20" fill="#4b0082"/>
<rect x="153.70" y="831.90" width="22.40" height="22.20" fill="#5000b4"/>
<rect x="175.80" y="831.90" width="22.30" height="22.20" fill="#5200e6"/>
<rect x="197.80" y="831.90" width="23.40" height="22.20" fill="#0000ff"/>
<rect x="220.90" y="831.90" width="21.90" height="22.20" fill="#0064ff"/>
<rect x="242.50" y="831.90" width="22.90" height="22.20" fill="#00b4ff"/>
<rect x="265.10" y="831.90" width="22.30" height="22.20" fill="#00b4aa"/>
<rect x="287.10" y="831.90" width="21.50" height="22.20" fill="#00a87f"/>
<rect x="308.30" y="831.90" width="23.10" height="22.20" fill="#009000"/>
<rect x="331.10" y="831.90" width="22.20" height="22.20" fill="#00c800"/>
<rect x="353.00" y="831.90" width="23.30" height="22.20" fill="#00ff00"/>
<rect x="376.00" y="831.90" width="22.00" height="22.20" fill="#aae600"/>
<rect x="397.70" y="831.90" width="23.40" height="22.20" fill="#ffff00"/>
<rect x="420.80" y="831.90" width="21.70" height="22.20" fill="#ffbe00"/>
<rect x="442.20" y="831.90" width="22.20" height="22.20" fill="#ff8000"/>
<rect x="464.10" y="831.90" width="21.40" height="22.20" fill="#ff0000"/>
<rect x="554.60" y="831.90" width="21.50" height="22.20" fill="#4b0082"/>
<rect x="575.80" y="831.90" width="22.40" height="22.20" fill="#5000b4"/>
<rect x="597.90" y="831.90" width="22.30" height="22.20" fill="#5200e6"/>
<rect x="619.90" y="831.90" width="23.40" height="22.20" fill="#0000ff"/>
<rect x="643.00" y="831.90" width="21.90" height="22.20" fill="#0064ff"/>
<rect x="664.60" y="831.90" width="22.90" height="22.20" fill="#00b4ff"/>
<rect x="687.20" y="831.90" width="22.30" height="22.20" fill="#00b4aa"/>
<rect x="709.20" y="831.90" width="21.50" height="22.20" fill="#00a87f"/>
<rect x="730.40" y="831.90" width="23.10" height="22.20" fill="#009000"/>
<rect x="753.20" y="831.90" width="22.20" height="22.20" fill="#00c800"/>
<rect x="775.10" y="831.90" width="23.30" height="22.20" fill="#00ff00"/>
<rect x="798.10" y="831.90" width="22.00" height="22.20" fill="#aae600"/>
<rect x="819.80" y="831.90" width="23.40" height="22.20" fill="#ffff00"/>
<rect x="842.90" y="831.90" width="21.70" height="22.20" fill="#ffbe00"/>
<rect x="864.30" y="831.90" width="22.20" height="22.20" fill="#ff8000"/>
<rect x="886.20" y="831.90" width="21.40" height="22.20" fill="#ff0000"/>
<rect x="976.70" y="831.90" width="21.50" height="22.20" fill="#4b0082"/>
<rect x="997.90" y="831.90" width="22.40" height="22.20" fill="#5000b4"/>
<rect x="1020.00" y="831.90" width="22.30" height="22.20" fill="#5200e6"/>
<rect x="1042.00" y="831.90" width="23.40" height="22.20" fill="#0000ff"/>
<rect x="1065.10" y="831.90" width="21.90" height="22.20" fill="#0064ff"/>
<rect x="1086.70" y="831.90" width="22.90" height="22.20" fill="#00b4ff"/>
<rect x="1109.30" y="831.90" width="22.30" height="22.20" fill="#00b4aa"/>
<rect x="1131.30" y="831.90" width="21.50" height="22.20" fill="#00a87f"/>
<rect x="1152.50" y="831.90" width="23.10" height="22.20" fill="#009000"/>
<rect x="1175.30" y="831.90" width="22.20" height="22.20" fill="#00c800"/>
<rect x="1197.20" y="831.90" width="23.30" height="22.20" fill="#00ff00"/>
<rect x="1220.20" y="831.90" width="22.00" height="22.20" fill="#aae600"/>
<rect x="1241.90" y="831.90" width="23.40" height="22.20" fill="#ffff00"/>
<rect x="1265.00" y="831.90" width="21.70" height="22.20" fill="#ffbe00"/>
<rect x="1286.40" y="831.90" width="22.20" height="22.20" fill="#ff8000"/>
<rect x="1308.30" y="831.90" width="21.40" height="22.20" fill="#ff0000"/>
<text x="137" y="888.3" text-anchor="middle" font-weight="normal" >0</text>
<text x="484" y="888.3" text-anchor="middle" font-weight="normal" >1</text>
<text x="553.4" y="888.3" text-anchor="middle" font-weight="normal" >-8</text>
<text x="695.2" y="888.3" text-anchor="middle" font-weight="normal" >0</text>
<text x="904" y="888.3" text-anchor="middle" font-weight="normal" >12</text>
<text x="981" y="888.3" text-anchor="middle" font-weight="normal" >-34</text>
<text x="1209.7" y="888.3" text-anchor="middle" font-weight="normal" >0</text>
<text x="1327.8" y="888.3" text-anchor="middle" font-weight="normal" >18</text>
<text x="304.4" y="922.9" text-anchor="middle" font-weight="normal" >F [normalized]</text>
<text x="726.9" y="923" text-anchor="middle" font-weight="normal" >Fluorescence Change</text>
<text x="731.2" y="969.8" text-anchor="middle" font-weight="normal" >[% of Max / 100 mV]</text>
<text x="1150" y="922.8" text-anchor="middle" font-weight="normal" >Relative Fluorescence</text>
<text x="1154.5" y="969.3" text-anchor="middle" font-weight="normal" >Change [% / 100 mV]</text>
</svg>
</body></html>
